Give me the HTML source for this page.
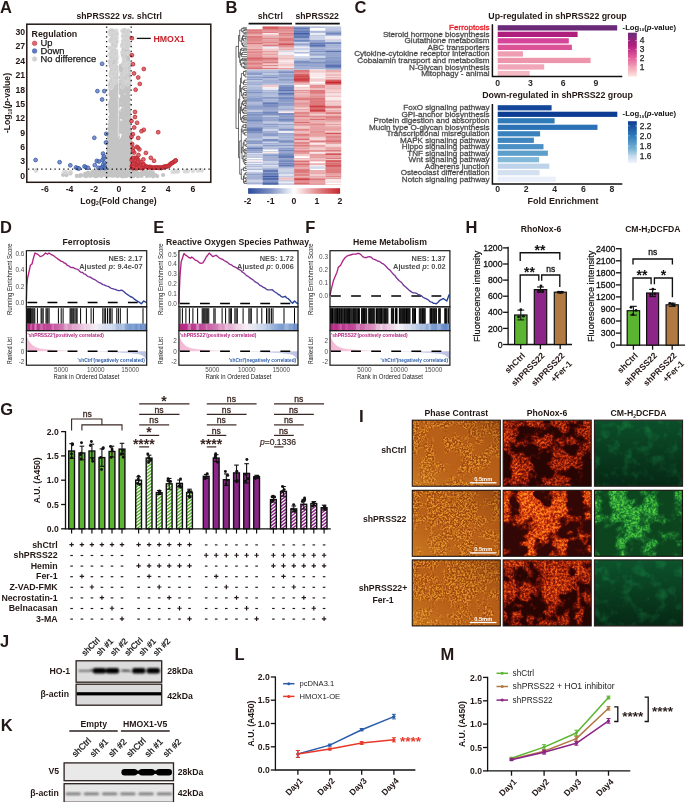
<!DOCTYPE html>
<html><head><meta charset="utf-8"><title>Figure</title>
<style>
html,body{margin:0;padding:0;background:#fff;}
svg{display:block;font-family:"Liberation Sans",sans-serif;will-change:transform;}
</style></head><body>
<svg width="685" height="802" viewBox="0 0 685 802">
<rect width="685" height="802" fill="#fff"/>
<text x="0" y="12.8" font-size="16.5" font-weight="bold" fill="#231815" text-anchor="start" >A</text>
<text x="119.2" y="19.3" font-size="8.7" font-weight="bold" fill="#231815" text-anchor="middle" >shPRSS22 <tspan font-style="italic">vs.</tspan> shCtrl</text>
<path d="M129.9 137.5h0M126.9 135.6h0M128.1 167.1h0M115.4 77.1h0M130.3 172.9h0M133.4 174.7h0M122.5 104.6h0M121.5 175.3h0M118.5 166.7h0M110.1 135.9h0M125.9 127.6h0M115.6 103h0M114.9 154.9h0M126.7 173.8h0M110.7 65.6h0M106.5 175.4h0M125.1 135h0M131.3 173.7h0M114.3 159.7h0M107.7 172.4h0M126.2 167.7h0M122.4 166.7h0M114.4 106.5h0M107.8 164.9h0M111.1 74.9h0M108.9 165.1h0M110.1 106.8h0M109.7 164.9h0M117.7 153.4h0M124.5 173h0M114.1 114h0M112.9 39.6h0M108.4 167.3h0M116.3 71.8h0M123 88.1h0M105.9 172.3h0M124 162.7h0M123.8 70.6h0M121.4 167.8h0M130.3 163.6h0M110.6 111.7h0M115.1 165.6h0M116.4 138.5h0M122.4 148.7h0M131.1 149.5h0M126.2 104h0M118.7 170.2h0M111.9 107.8h0M121.6 154.5h0M128.9 123.3h0M127.7 88.6h0M112.2 50h0M111.6 60.1h0M124.6 118.9h0M121.6 117.2h0M128.4 107.2h0M112 90.4h0M111.1 117.5h0M120.9 173.2h0M116.1 114h0M112.9 96.2h0M116.6 100.1h0M125.7 52.2h0M123.3 153.6h0M130 140.6h0M112.7 58h0M107.3 170.5h0M128.5 65.1h0M115.1 168.3h0M111.2 164.8h0M110.4 131.5h0M112 59.7h0M120.6 155.6h0M118.5 170.5h0M116.8 69.3h0M112.7 109.1h0M128.9 104.4h0M113.9 98.9h0M112.8 167.6h0M115.6 93.1h0M126.9 151.4h0M124.7 111.7h0M121.9 77.3h0M124.5 109.7h0M128 119.5h0M126.6 91.6h0M110.8 92.5h0M130.3 154.3h0M113.3 151.1h0M125.6 122.6h0M121.5 175.1h0M115.1 75.7h0M116.7 78.2h0M128.7 128h0M125.5 97.9h0M128.2 157.6h0M126.4 127h0M109.1 155.3h0M111.3 53.4h0M123 126.8h0M126.7 124.9h0M128.1 175.1h0M127 144.6h0M121.5 131.9h0M109.9 124.5h0M129.9 140.2h0M116.3 134h0M122.2 111.1h0M116.3 80h0M124.8 163.7h0M122 150.3h0M113.7 89.8h0M112.2 161.5h0M113.9 139.7h0M116.2 126h0M125.8 108.7h0M127.9 64.5h0M128.4 87.9h0M108.4 154.8h0M130.7 164.4h0M108.6 170.6h0M109.1 160.7h0M122.3 141.8h0M120.7 144.3h0M130.9 165.9h0M122.9 130.1h0M118.3 173.8h0M126.3 122.4h0M115.4 169.8h0M128.4 67h0M127.5 174.1h0M114 83h0M112.5 128.2h0M132.1 175.3h0M110.1 167.4h0M116.5 144h0M110.1 128.6h0M128 75.3h0M112.9 109h0M128.5 129.9h0M129.3 160.8h0M124.8 80.3h0M127.1 54.3h0M112.2 82.9h0M111.7 173.8h0M109.6 175.3h0M110.4 110h0M112.5 102.3h0M124.7 119.4h0M118.1 161h0M117.4 166.3h0M127.3 161.5h0M126.5 129.3h0M121.2 114.6h0M121.4 131.2h0M111.2 149h0M111.9 120.9h0M115.4 157h0M108.2 174.7h0M128.8 146h0M133.2 174.5h0M127 173.7h0M123.6 133.9h0M127.7 126.9h0M128.9 135.2h0M112.7 113.6h0M118 137.1h0M114 126.2h0M115.7 102h0M111.5 117.3h0M129.5 125.7h0M117.1 89.2h0M126.8 55.2h0M127.5 159.5h0M127.6 115.7h0M107.7 166.8h0M111.2 159.6h0M121.7 172.4h0M128.6 173.1h0M113.9 108.7h0M110 165.1h0M117 67.3h0M123.1 110.1h0M110.1 141.4h0M131.2 148.6h0M129.2 153.8h0M116 59.2h0M124.1 132.8h0M116.1 80.8h0M115.4 103.1h0M123.7 91h0M108.6 170.1h0M110.7 148.9h0M129 119.5h0M108.3 154.7h0M114.1 54.7h0M113.9 149.3h0M129.8 166.4h0M126.3 124.2h0M130.6 167.8h0M112.3 158.5h0M129.4 123.6h0M121.5 105.1h0M121.7 123.2h0M132.7 173.3h0M123 173.2h0M123.4 86.9h0M127 164.2h0M115.1 83h0M128.5 91.8h0M128 143.3h0M127.7 64h0M126.1 39.9h0M114.4 75.2h0M133.7 169.9h0M116 147.8h0M108.7 141.4h0M116.8 174.2h0M122.8 105.7h0M110.3 174.1h0M110.3 164.5h0M116.5 115.1h0M109.9 158.5h0M129.9 155.3h0M109.9 133.6h0M113 50.2h0M118 133.1h0M109.4 128.1h0M118.5 103.9h0M110.6 134.6h0M122.6 93.3h0M115.3 169.1h0M126.8 60.5h0M122.7 160h0M111.5 81.8h0M121.9 65.6h0M113.9 92.7h0M126.9 135.2h0M111.8 63.2h0M122.5 123.7h0M115.3 68.8h0M110.3 156h0M122 149.8h0M108.5 145.4h0M121.1 69.2h0M113.3 94h0M108.8 136.7h0M113 75.8h0M112.1 157.6h0M113.7 156.8h0M116.3 102.2h0M110.6 89.7h0M124.2 120.5h0M116.8 69.9h0M122.8 100.2h0M127.3 144.4h0M116.1 173h0M117.5 171.2h0M113.2 48.7h0M124.6 82.6h0M118.7 153.1h0M130.8 144.6h0M126.3 77.8h0M113.4 175.2h0M114.7 105.2h0M128.7 129.1h0M111.6 112.2h0M125.2 52.8h0M133.7 170.1h0M128.7 128.1h0M128.1 166.2h0M115.4 166.1h0M124.1 118.2h0M123.6 120.9h0M127.8 51.4h0M125.1 171.3h0M112.8 54.2h0M121.6 167.1h0M105.6 175h0M124.9 44.3h0M113.1 88.5h0M116.2 74.8h0M114.2 135.3h0M113.5 119.4h0M124.9 160.3h0M112.4 106.8h0M129.2 169.9h0M112 135h0M127.4 97.9h0M129 132.7h0M114.3 63.7h0M126.2 52.3h0M116.2 52.5h0M126.6 53.5h0M121.5 156.1h0M111.3 171.2h0M111 145.1h0M115.2 126.5h0M117.8 145.3h0M127 50.9h0M123.4 141.8h0M128.4 86.7h0M122.6 172.6h0M120.4 124.6h0M114.4 162.2h0M131.7 174.1h0M112 145.1h0M106.6 174.6h0M108.2 155.7h0M124.1 48.3h0M116.3 150.4h0M124.2 58.2h0M121.1 166.6h0M125.5 172.2h0M125.1 96.7h0M113.9 173.5h0M116.5 93.8h0M129.7 162.9h0M130.2 148.2h0M115.4 116h0M124.7 47.3h0M127.2 173h0M121.2 126.1h0M115.9 114.3h0M115.5 75h0M115.6 84.8h0M110.4 122.9h0M126.5 146.7h0M128.3 167.5h0M129.3 149.8h0M128.8 127.9h0M128.8 98.9h0M122.8 167.9h0M114.2 112.8h0M127.6 81.3h0M115.7 162.9h0M118.2 117.6h0M126.2 114.8h0M113.8 131.1h0M121.5 160.4h0M126.3 51.8h0M114.6 162.7h0M109.8 174.7h0M112.7 126.6h0M123.4 173h0M110.5 161.1h0M121.7 69h0M108.3 149.2h0M108.2 174.7h0M106.7 174.8h0M114 170.1h0M118.3 141.4h0M123.8 161.3h0M124.8 136.2h0M127.8 152.4h0M109.5 174.8h0M108.9 174.2h0M128.2 61.6h0M125.2 145.6h0M115 79.6h0M122.8 167.2h0M112.9 165.7h0M107.7 155.7h0M123 99.9h0M110.9 146.9h0M118.6 149.4h0M113.7 167.3h0M126.1 169.4h0M128.4 82.8h0M112.8 175.2h0M125.6 173.3h0M121.5 81.8h0M118.2 145.5h0M120.9 169.5h0M112.1 155.2h0M124.7 170.5h0M122.5 90.9h0M110.3 165.6h0M109.5 144h0M114.2 163.8h0M118.6 164.6h0M127.9 108.9h0M112.4 35.6h0M128.5 164.6h0M112.7 173h0M113.6 174.2h0M116.7 131h0M116.5 144.4h0M117.4 102.5h0M116.6 151.9h0M126 117.2h0M114.6 95.9h0M113.7 149.2h0M110.3 174.4h0M115.6 135.2h0M106.7 175.2h0M112.3 120h0M111.3 167h0M112.9 40.7h0M126.4 81.6h0M115.2 143.3h0M124.6 69.3h0M111.2 174.8h0M107.8 155.6h0M115 169.6h0M118.7 99.7h0M115.9 123.6h0M126.4 131.5h0M128.1 109.9h0M114.2 37.3h0M128.8 155.1h0M128 98.5h0M126.7 169h0M115.5 120.4h0M123.3 86.2h0M116.2 161.7h0M117.8 128.4h0M108.8 173.9h0M108 171.8h0M110.1 133.4h0M114.8 60.4h0M112.2 76.4h0M124.9 161.4h0M130.1 152.8h0M124.9 69.5h0M127.9 110.2h0M109.2 171.1h0M118.8 163.3h0M129.2 116.7h0M126.9 170.6h0M110.5 108.7h0M108.5 174.7h0M114.6 123.8h0M130.2 155.6h0M111.3 158.3h0M124.6 82.9h0M127.8 97h0M116.9 169.8h0M111.9 154h0M124.9 170h0M114 163.6h0M117.9 160.7h0M123.1 133h0M113.7 61h0M112.3 145.2h0M123.7 104h0M117.8 168.3h0M124.6 149.9h0M116.1 128.3h0M113.1 39.6h0M124.7 77.3h0M127.4 75h0M110.8 94.9h0M124.2 175.2h0M111.3 146.2h0M112.8 73.3h0M108.8 150.4h0M114.3 154.2h0M112 87.7h0M122.7 123.2h0M113.3 172.2h0M113 140.6h0M112.5 144.3h0M110.3 85.2h0M123.4 140.7h0M122.9 143.6h0M131.2 159.3h0M114.1 154.1h0M112.8 106.4h0M126.8 56.4h0M111 119.7h0M112.5 97.8h0M115.7 142.1h0M125.7 114.1h0M127.3 175h0M128.9 115.4h0M105.5 169.5h0M112 88.4h0M128 105.4h0M128.9 76.1h0M130.5 174h0M126.3 161.5h0M122.9 124.8h0M121.6 158.7h0M125.6 121.8h0M130.4 162.3h0M128.4 81.7h0M114.8 76.3h0M113.4 172.5h0M127.6 146.2h0M127.3 109.1h0M126 166.2h0M113.8 175.3h0M112.9 109h0M117 96.9h0M117 97.1h0M129.3 171.7h0M108 150h0M124.4 97.5h0M116.6 155.5h0M111.3 108.7h0M112.8 143.5h0M110.8 117.8h0M128.6 158h0M125.1 137.2h0M125.1 87.4h0M114.3 174h0M124.2 139.2h0M123.4 96.9h0M109.3 143.2h0M114.2 161.4h0M126.1 71.2h0M110.4 123.3h0M113 173h0M124.3 91.4h0M122.7 54h0M113.5 135.1h0M127.8 154.8h0M126.9 69.5h0M112.6 173.9h0M110.1 104.2h0M116.7 165.2h0M121.7 145.4h0M128 168.5h0M111.5 87.6h0M122.2 89.8h0M110 135.2h0M122 124.9h0M113.7 77.9h0M122.7 171.2h0M125.2 173h0M114.5 80.4h0M112 174.4h0M110.8 121.3h0M123.1 172.3h0M130.8 169.4h0M113.5 93.4h0M114 175.1h0M115.4 142.6h0M125.7 171.9h0M129.3 132.2h0M126 42.6h0M110.5 145.4h0M113.3 160.8h0M113.8 134h0M110.1 137.8h0M128.5 174.1h0M117.3 144.7h0M112.9 148.3h0M126.6 163.4h0M105.8 175.4h0M133.4 175.4h0M125.2 149h0M127.7 156.4h0M112.4 154.9h0M117.3 85.2h0M109.5 161.4h0M125.4 141.3h0M121.8 158.1h0M126.5 71.5h0M121.2 174.3h0M128.8 109.9h0M110.5 107.4h0M120.8 85.4h0M112.4 88.6h0M125.1 139.2h0M117.1 138.2h0M121.6 154.4h0M130 171.7h0M117.2 122.9h0M127.4 155.5h0M113.7 48.3h0M111.2 67.2h0M112.9 175h0M125.5 100.8h0M111.7 97.9h0M123.3 172.2h0M115 116.7h0M111.6 168.7h0M112.8 127.4h0M113.2 66.5h0M127.6 160.5h0M109.2 160.9h0M125.8 147.6h0M129.1 111.1h0M115.3 85.4h0M112.4 65.4h0M116.8 122.4h0M116.3 79h0M122.1 125.1h0M128.3 83h0M125.2 48h0M111.1 92.3h0M115.8 90.6h0M124.6 175.2h0M116.8 157.3h0M115.3 132.8h0M130.5 158.9h0M130.3 168.9h0M127.4 112.6h0M129.2 125.1h0M117.7 80.8h0M111 137.5h0M122.1 163.2h0M123.2 44h0M122.6 172.4h0M118.2 102.3h0M127.1 119.2h0M113.2 126.3h0M116 150.4h0M113.9 94.9h0M110.6 173.5h0M130.9 152.6h0M128.2 35.5h0M113.3 45.4h0M126.4 98.6h0M113.2 45.8h0M106.9 175h0M116.4 40.1h0M126.1 98.1h0M120.7 84.5h0M133.5 173.9h0M115.1 68.5h0M124.7 175.3h0M124.2 116.7h0M116 100.7h0M124.5 133.7h0M124.1 162.7h0M110.3 127h0M114.7 167.2h0M128.5 153.3h0M121.8 77.7h0M116.1 83.3h0M125.1 142.8h0M131.3 150.2h0M110 146.3h0M111.7 79.4h0M111.8 147.3h0M111.5 87.7h0M112.9 175.3h0M122.9 174h0M131.4 165.5h0M122.9 93.1h0M132.5 170.5h0M125.1 90.7h0M115.2 148.2h0M115.7 174.5h0M128.5 171.3h0M125.8 119.7h0M131 155.6h0M114.9 129.9h0M111.4 119.6h0M112.7 36.3h0M109.3 135.7h0M115.9 174.4h0M118.2 88.7h0M126.8 164.3h0M116.5 104.8h0M118.2 175.3h0M125.4 160.6h0M124.3 134.6h0M127.4 150.1h0M126 142.4h0M123.7 153h0M123.9 129.2h0M123.7 168.2h0M110.3 117h0M110.6 158.2h0M126.6 151.3h0M112.6 131.1h0M117.5 108.6h0M112.1 130.9h0M111.5 75.6h0M111 76.1h0M112.8 129.9h0M124.2 66.8h0M129.9 164.7h0M127.8 93.6h0M124.6 167.8h0M120.7 162.1h0M110.9 128.7h0M128.8 112.4h0M112.4 106.4h0M132.4 172h0M110.5 155.4h0M126.4 84.4h0M121.5 171.1h0M127.7 60.9h0M126.7 119.5h0M114.6 131.8h0M107.8 175.2h0M129.6 163.5h0M124 97h0M111 159.4h0M124.1 98.5h0M124.8 47.2h0M127.7 110.8h0M112.4 152.9h0M110.1 132.4h0M111.5 125h0M111.6 161.6h0M117.8 162.4h0M111 174.4h0M107.9 162.9h0M109.1 171.3h0M126.5 83.5h0M110.7 174.3h0M129.1 159.4h0M128.3 154.5h0M114.3 94.7h0M106 172.2h0M117 97h0M128.6 141.3h0M128.1 144.3h0M112.1 111.5h0M111.7 170.9h0M112.8 175.3h0M109.2 135.2h0M113.2 64.3h0M125.5 61.3h0M111.6 56.5h0M113.7 138.1h0M111.9 137.5h0M110.4 143.2h0M109.7 137.2h0M109.6 137.2h0M112.1 87.8h0M111.7 104.7h0M124.4 124.4h0M114.4 93.6h0M112.9 82.7h0M107.6 164.2h0M121.3 166.2h0M128.2 117.1h0M128.5 145.8h0M126.1 83.6h0M127.4 161.4h0M122.3 123.6h0M112.2 79.7h0M112.2 131.3h0M124.8 55h0M111.9 142h0M130.4 136.4h0M124.4 119.4h0M115.4 84.2h0M128 97.4h0M114.2 147.2h0M114.6 124.7h0M115.3 104h0M107.8 171.6h0M113.9 88.2h0M111.4 96.8h0M112.1 62.7h0M123.5 152.4h0M113.7 134.4h0M126.3 73h0M125.9 169.6h0M110.1 139.3h0M110.9 94.7h0M112.3 92.3h0M128.5 174.1h0M118.1 117.1h0M127.6 150.6h0M115.6 96.5h0M124.1 102.2h0M112.6 135.4h0M115.4 150.2h0M118.7 157.4h0M124.2 155.4h0M127.6 171.8h0M110.1 128.7h0M126.7 85.2h0M124.8 97.4h0M126.2 146h0M128.2 126h0M129.4 175h0M108.8 158.1h0M126.8 67.9h0M112.6 137.2h0M128.3 58h0M105.8 173.6h0M124.1 123.7h0M113.2 107.2h0M114 117.2h0M124.3 53.4h0M112.9 123.7h0M116.1 108.7h0M117.7 104.1h0M110.5 83.6h0M112.5 121.2h0M129.1 160.4h0M118 84.3h0M116.2 76.1h0M111.7 175h0M114.7 39.9h0M128 167.2h0M112.3 70.6h0M107.9 167.1h0M108.3 162.5h0M116.4 100.8h0M109 162.8h0M126.8 95.8h0M112 109.3h0M113.4 131.5h0M121.2 146.7h0M126.3 175.1h0M111.6 153.3h0M113.2 50.1h0M123.4 82.8h0M121.6 166.8h0M115.2 61.5h0M127.2 66.1h0M111.4 91.5h0M118.2 169.8h0M126.4 175.1h0M107.2 173.1h0M121.1 113.9h0M115.6 171.8h0M109.6 171.9h0M112.1 168.4h0M112.1 147.8h0M113.6 129.3h0M123.7 174.8h0M108.8 152.6h0M113.4 116.4h0M113.9 44.2h0M130.4 148.2h0M114.1 174.8h0M127 86h0M113.9 47.8h0M110.4 82.8h0M124.4 87.9h0M128.6 113.3h0M129.4 118.1h0M128.6 67.2h0M122.4 144.2h0M112.8 79.7h0M111.4 158.7h0M108.9 166.6h0M123.3 166.8h0M118.8 121.5h0M113.6 175.4h0M128.2 159.1h0M124.3 174h0M129.1 133.3h0M126.4 155.2h0M111.6 98.7h0M115.7 174.9h0M126.8 89.9h0M127.8 136.5h0M124.6 123h0M120.8 171.8h0M116.5 163.5h0M122.7 174h0M124.3 113.6h0M130.7 171.4h0M126.5 57.2h0M123.8 100.2h0M125.2 81h0M114.5 175.3h0M125.7 114h0M110 174.2h0M127.7 99.3h0M112.4 157.6h0M110.9 74.8h0M113.4 132.9h0M121.2 150h0M111.1 144.7h0M112.3 169.6h0M125.1 113.9h0M108.6 157.1h0M108.6 164.9h0M116.9 133.1h0M123.1 55.7h0M111.4 164.8h0M125.8 174.5h0M122.4 170h0M127.6 174.9h0M115.4 113.6h0M127.7 91.2h0M122.9 174.8h0M128.7 123.2h0M124.8 161.7h0M129.4 168.3h0M110.6 152.5h0M117.1 90.5h0M107.4 172.7h0M124.7 131.1h0M108.3 148.6h0M112.1 113.3h0M127.7 114.6h0M129.1 112.8h0M125.1 143.8h0M111.5 143.3h0M109.3 150.6h0M127.9 75.7h0M123.8 146.5h0M109.5 154.9h0M132.6 170.1h0M108.2 173.2h0M125.2 163.8h0M115.2 134.5h0M110.8 141.4h0M131.6 175h0M117 153.7h0M129.2 173.5h0M110.1 175.3h0M113.4 154.5h0M125.1 150.5h0M113.4 74h0M112.5 172.6h0M127.6 169.2h0M127.5 54.2h0M127.6 134.6h0M125.8 169.1h0M127.5 128.1h0M128.2 119.4h0M118.1 172.9h0M124.6 168.9h0M112.4 139.4h0M124.9 158.7h0M120.9 65.8h0M121.7 172.8h0M127.7 159.9h0M113.6 102.2h0M115.3 165.7h0M116.9 100.6h0M127.6 166.1h0M132 175.4h0M109.7 147.3h0M111.9 35.3h0M130.9 163.3h0M114.6 134.5h0M129 162.4h0M114.1 80.6h0M113.6 135.3h0M124.1 98.7h0M118.1 119.9h0M118.3 146.4h0M106.1 173.4h0M115.2 67.6h0M111.6 155.4h0M116.4 67.2h0M124.3 175.3h0M121.8 91.2h0M109.8 166.8h0M114.2 88.7h0M109.8 150.3h0M131 160.5h0M128.9 114.1h0M123.3 168.1h0M115.4 74.6h0M127.9 139h0M130.5 165.6h0M115.4 129h0M108.1 157.4h0M121.5 115.1h0M125 162h0M118.1 163.6h0M125.4 143.1h0M118.5 120.2h0M113.8 100.8h0M118 147.5h0M117.1 156.9h0M118.7 175h0M113.6 58.3h0M107.9 175.1h0M115 121.6h0M127.6 85.8h0M127 68h0M126.9 136.2h0M128.8 126.6h0M129.4 174.4h0M121.3 114.5h0M109.3 134.3h0M122.5 168.6h0M112.1 85.2h0M120.4 155.8h0M130.6 163.9h0M117.4 80.4h0M121.5 94.1h0M108.8 152.3h0M115.1 101.2h0M113.5 143.3h0M128.9 114.9h0M127.1 136.5h0M124.6 151h0M115.3 175.2h0M121.3 89.8h0M109.6 162.8h0M115.8 54.1h0M123.6 82.5h0M124.2 126.6h0M110.2 107.3h0M107.9 165h0M127.8 41.8h0M121.8 71.1h0M128 89.7h0M108.5 174.7h0M130.2 132.4h0M127.7 138.3h0M112.7 97.1h0M130.7 173.9h0M116.2 75.1h0M126.7 137.7h0M112.7 172.1h0M115.7 162.1h0M130.1 142.6h0M111 100.3h0M126.5 112.7h0M117.7 150.4h0M112.3 102.7h0M126.6 51h0M129.7 175.3h0M128.8 69.1h0M128.8 64.2h0M125.5 150.8h0M121.9 159.2h0M116.9 156h0M111.4 114.6h0M123.2 152.2h0M118.6 125.7h0M124.5 156.4h0M123.8 132.3h0M114.8 125.1h0M129.5 158.2h0M128.2 95.7h0M116.9 87.8h0M129 86.4h0M113.3 80.8h0M122.3 110h0M124.7 37.3h0M111.1 146.7h0M114.7 160.7h0M112.4 113h0M128.1 52.3h0M121.8 161.3h0M117.4 117.3h0M121.5 175.4h0M126 56.6h0M121 175.1h0M127.3 126.5h0M130.4 171.6h0M127.5 153.3h0M124.1 142.9h0M125.1 157.9h0M116.4 81.7h0M131 175.4h0M129.5 174.5h0M111.4 169.8h0M108.9 142h0M127.1 155.1h0M110 172.3h0M127.2 98.4h0M107.9 162.1h0M121.5 148.7h0M108.7 157.1h0M114.2 150.5h0M111.3 165.6h0M113.5 103.8h0M107.6 174.3h0M123.9 160.4h0M120.4 145.6h0M127.4 122h0M112.7 133.3h0M126.9 173h0M106.2 174.5h0M124.6 65h0M131.2 168.2h0M117 165.2h0M129.3 173.3h0M111.9 134.1h0M110.2 170.4h0M128 106.5h0M116.3 170.4h0M110.1 131.9h0M125.4 99.4h0M127.8 50.7h0M118 164.6h0M110.4 83.1h0M108.8 157.7h0M128 37.2h0M121.4 159.5h0M125.6 100.3h0M121.6 169.9h0M113.9 136.2h0M127.9 71.8h0M118 136.8h0M124.8 77.9h0M117.7 169.9h0M112.3 171.4h0M129.3 170.4h0M123.9 61h0M126.5 67.1h0M112.2 174.6h0M126.1 66.1h0M126.8 174.6h0M132.4 175.1h0M110.4 169.4h0M130.9 161.9h0M113 86.6h0M124.1 157.7h0M128.2 60.5h0M118.2 155.4h0M117.4 112.4h0M111.9 80.5h0M108.2 159.4h0M128.8 69.5h0M123.8 147.4h0M127.3 106.8h0M114 163.8h0M126.7 140.1h0M126.3 127.8h0M125.9 100.1h0M113.2 162.9h0M124.8 56.6h0M116.5 127.7h0M116 77.9h0M116 158.8h0M123.4 173.4h0M126.5 106.7h0M124.1 133.5h0M123.3 135.9h0M128.9 89.4h0M127.6 111.4h0M113.2 157.8h0M122.9 89.1h0M126 40.8h0M117.5 110.5h0M130.6 175.3h0M125 111.5h0M126.5 87.6h0M126.2 122.9h0M130.4 172.9h0M126.1 141h0M125.2 168.5h0M123 168.6h0M113.6 93.5h0M114.5 136.5h0M122.1 139.1h0M113.1 124.4h0M124.1 77.3h0M112.4 60.9h0M115.5 157.8h0M112.1 139.6h0M126.5 159.6h0M123.4 76.6h0M112.4 93.4h0M124.1 161h0M113.8 60.3h0M126.4 127h0M123.4 41.8h0M107.5 175.3h0M116.3 159.1h0M120.8 131.3h0M118.1 168.6h0M107.9 154.9h0M126.3 105.6h0M109.6 133.6h0M113.3 133.1h0M113.2 74.5h0M115.6 172.9h0M123.3 129.7h0M127.4 98.1h0M117.6 129h0M118.1 106.1h0M123.8 173.2h0M126.2 160.3h0M133.8 169.8h0M113.4 110.4h0M127.7 95.4h0M122 161.8h0M123.6 171h0M110.2 120.8h0M130.3 140.2h0M126.1 137.5h0M111.3 144.8h0M124.9 48.5h0M110 150.2h0M111.2 175.4h0M124.6 169.8h0M111.9 144.3h0M125.6 140.6h0M122.1 79.1h0M115.2 131.7h0M116.1 109h0M106.5 171h0M111.7 102.9h0M108 173.9h0M113.7 82.5h0M125.7 75.6h0M116.1 167.1h0M125.5 126.7h0M126.7 107.8h0M126.7 143.2h0M127.9 58h0M123.4 97.8h0M124.6 172.4h0M126.4 112.1h0M115 140.8h0M124 96.5h0M113.3 155.1h0M127.6 108.5h0M128.7 73.7h0M111.7 138.1h0M125.9 155.1h0M124.5 121.5h0M111.6 175.3h0M111.2 41.5h0M118.2 77.5h0M114.5 58h0M128 100.9h0M121.8 167.6h0M109.7 147.4h0M122.6 157.7h0M111.6 161h0M124.9 116.6h0M126.4 44.9h0M112 167.5h0M127 114.3h0M127.5 174.6h0M128.1 165.5h0M123.5 63.8h0M112.4 135.6h0M116.7 169.7h0M130.8 175.1h0M127.5 144.4h0M110.8 103.8h0M123.8 151.2h0M124.1 41.3h0M112.9 169.2h0M116.5 152.7h0M110.1 144.7h0M125.9 150.5h0M127.1 35.9h0M125.5 50.4h0M113.6 173.8h0M111.8 110.3h0M111.5 173.6h0M122.6 66.6h0M125.8 163h0M121.7 101.6h0M126.7 153.3h0M121.9 97.6h0M113.9 174.5h0M117.2 167.3h0M131.1 175.1h0M110.2 169h0M111.5 173.4h0M126.9 156.9h0M118.4 126.9h0M111.5 71.2h0M110.8 172.2h0M106.2 169.3h0M126.3 44.5h0M116.6 114h0M112.3 106.8h0M116.9 174.7h0M115.5 83.4h0M123.8 79.5h0M117.9 145.7h0M132.5 174.9h0M126.1 123.6h0M114.3 99.4h0M112.5 112.3h0M123.4 151.7h0M113 132.1h0M108.7 174.3h0M107.6 168.5h0M127.7 112.5h0M114.4 175.1h0M128.5 121.5h0M121.6 129.5h0M126.4 103.5h0M125.2 132h0M109.5 167.6h0M112.4 128.1h0M122.9 69.1h0M126.3 167.4h0M116.2 168.5h0M111 168.4h0M110.4 102.3h0M109.1 141.6h0M111.8 105.5h0M117.6 87.9h0M126.3 89.6h0M123.5 171.6h0M126.5 76.1h0M108.5 173.6h0M112.4 171.9h0M126.9 67.7h0M116.5 85.8h0M121 154.4h0M129.4 168.9h0M108.9 159.9h0M127.9 88h0M128.9 84.1h0M111.9 136.2h0M128.6 78.1h0M130.6 159.5h0M111.6 151.4h0M126 110.8h0M122.7 91.2h0M116.2 102.2h0M110.1 159.2h0M118 122.3h0M127.9 78.3h0M115.5 78.5h0M110.3 136.1h0M113 165.6h0M110 174.5h0M121.5 113.5h0M123.9 120.9h0M112.7 164h0M128.3 148.9h0M124.1 159h0M113.1 86.9h0M125.7 88.8h0M122.4 160h0M110.9 167.7h0M129.4 146.3h0M115.1 125.6h0M106.9 174.4h0M107.7 156.8h0M126 147.2h0M125.8 175.1h0M117.6 100.1h0M133.2 173.1h0M123.4 49.8h0M127.1 129.5h0M116.9 120h0M114.1 173.3h0M124.1 172.3h0M124.7 115.1h0M110.7 150.9h0M129.6 148.3h0M113.3 173.6h0M121.7 175.3h0M128.4 170.4h0M124.7 164.9h0M111.2 95.4h0M115.1 138h0M110.6 109.3h0M117.8 164.2h0M123 137h0M128.2 167.6h0M110 170.1h0M110.5 162.6h0M128 155.5h0M123.3 109.6h0M118 162.7h0M110.8 117.5h0M113.2 175.4h0M115.4 155.6h0M111.6 175.3h0M130.6 163.3h0M124.6 130.6h0M124.3 85.4h0M116.5 88h0M110.9 142.2h0M109.4 161.4h0M127.3 114.5h0M127 97.3h0M126.9 49.2h0M124 125.2h0M124.7 166.7h0M120.7 93.1h0M125.6 165.2h0M117.2 99.7h0M121.9 97.9h0M126.5 111.4h0M130 129.7h0M111.5 59.9h0M121.8 74.5h0M109.3 165h0M113.3 47.9h0M128.4 91.5h0M123.8 111.7h0M129.7 155.9h0M111.8 168h0M117.5 154.1h0M122.2 98.7h0M124.6 128.4h0M120.9 125.1h0M127.4 59.7h0M121.4 131.8h0M133.3 173.3h0M111.8 169.7h0M126.6 78h0M110.3 174.4h0M117.4 91.1h0M114.3 155h0M111 168.2h0M111.1 111.5h0M128.7 114.5h0M112 120.9h0M108.9 150.3h0M111.1 171.1h0M130.6 174.3h0M122.7 171.6h0M115.5 125.8h0M127.6 137.8h0M116.2 88.5h0M109.1 166.6h0M126 139.6h0M114.5 117.4h0M114.1 91.1h0M114.3 161.3h0M121 166.1h0M116.2 162.7h0M128.1 68.2h0M112.4 166.9h0M112.3 175.1h0M116.6 175.4h0M114.3 65.2h0M129 161.9h0M110.4 88.7h0M110.6 123.5h0M124.5 30h0M116.3 112h0M125.3 175.2h0M125.4 81.6h0M128.6 126.4h0M122.9 145.4h0M118.1 151h0M108.6 144.6h0M117.6 71.9h0M124.5 160.3h0M110.4 172.8h0M110.6 171.1h0M110.3 87.1h0M121.6 161h0M124 50h0M111.1 57.3h0M128.8 150.2h0M115.3 119.9h0M128.6 72.2h0M130.5 173.9h0M108.6 164.5h0M124.2 79.7h0M121.8 139.5h0M125.2 91.5h0M112.9 143.6h0M128.4 85.2h0M127.1 64.2h0M111.5 172.9h0M126.3 172.2h0M112.1 162.2h0M128 152.5h0M118.1 140.7h0M125.5 98.2h0M109.9 129.6h0M107.8 174.3h0M113.2 154.9h0M121.9 157h0M124.3 121.7h0M112.8 90.1h0M110.6 172.4h0M118.1 112.2h0M123.7 124.4h0M123.7 165.3h0M109.8 172.4h0M126.6 57.7h0M114.7 65.2h0M115 172.9h0M126.6 108.6h0M126.2 148.5h0M114.9 75.8h0M112.1 75.9h0M121 114.3h0M125.3 149.7h0M127.7 158.8h0M112.8 96.6h0M115 146h0M121.8 163.7h0M133.7 171.6h0M127.2 79.6h0M120.5 165.4h0M117.2 127.4h0M111.6 171.4h0M117 164.4h0M120.5 165.8h0M133.4 169.7h0M124.9 47.6h0M128.5 45h0M124.9 78.4h0M126.2 118.8h0M106.9 175.1h0M110.6 94.1h0M112.3 84.7h0M110.8 60.4h0M115.2 65.2h0M129.8 164.5h0M122.1 105.3h0M109.5 158h0M128.2 88.4h0M128.4 125.8h0M128.8 127.4h0M118 68.8h0M111.4 72.3h0M124.8 171.8h0M128.7 172.4h0M142 172.6h0M155.3 175.1h0M128.3 171.4h0M115.5 172.2h0M137.3 173.1h0M108.1 173.9h0M128.8 175h0M104.7 170.9h0M121.9 176.2h0M116.4 172h0M107.4 170.7h0M142.7 173.9h0M131.1 176h0M99.4 171.6h0M126.3 176.1h0M131.1 171.5h0M137.9 176.2h0M121.6 174h0M128.1 171.3h0M107.6 171.9h0M121.9 174.2h0M90.1 175.9h0M99.5 173.5h0M129 173h0M99.4 172.2h0M132.7 171.4h0M122.7 172.3h0M129 174.7h0M88.1 172.6h0M145.3 172.2h0M118.2 174.2h0M95.6 174h0M107.8 172.6h0M93.4 175.3h0M92.1 173h0M131.9 171.7h0M108.5 175.1h0M130 170.6h0M70.4 173.4h0M134.7 171.7h0M108.6 171.2h0M118.7 174.1h0M101.4 175.9h0M131.6 173.5h0M107.3 170.5h0M116.5 175.3h0M98.7 172.3h0M116.9 173.4h0M107.3 173.9h0M95.1 176.1h0M118.9 173.4h0M145 173.6h0M150.6 171.8h0M111.7 172.7h0M143.1 173.3h0M139.7 175.2h0M105.5 174.1h0M111.1 171.2h0M123 173.1h0M118.2 173.6h0M93.5 174.4h0M106 172.8h0M101.2 170.7h0M125.8 171.9h0M113.6 173h0M163.1 175h0M76.8 175.9h0M108.6 171.2h0M100.8 171.5h0M103.8 174.6h0M83.9 175.4h0M132 173h0M126.5 170.5h0M95.4 172.8h0M150 173.9h0M98.3 175.3h0M110.7 171h0M102.2 171.9h0M110.8 173.8h0M97 172.6h0M136.3 170.9h0M104.6 174h0M114.5 172.1h0M111.2 173.3h0M111.8 174.7h0M109.3 174.6h0M114.1 174.9h0M143.9 171.2h0M98.7 172.5h0M92.3 174h0M111.1 173.8h0M108 171.9h0M124.2 170.9h0M114 170.9h0M137.6 175h0M138.8 174.3h0M99.9 175.3h0M103.5 173.1h0M93.5 173.3h0M96 172h0M129.3 172.1h0M99.2 172.5h0M137.8 175.7h0M129.5 172.3h0M134.7 175h0M114.8 173.4h0M130.1 173.6h0M116.8 174.9h0M107.2 172.6h0M132.7 175.6h0M94.7 174.7h0M128.1 170.8h0M116.5 175.7h0M112 173.2h0M139.1 174.4h0M112.5 171.3h0M124 176.2h0M117.8 176.1h0M137.6 173.2h0M111.4 174.1h0M140 173.6h0M93.2 175.3h0M116 172.9h0M105.8 171.9h0M122.9 170.7h0M112.1 175.7h0M138.2 173.9h0M129.6 175.1h0M106 173.1h0M133.2 172.7h0M134.2 175.6h0M114.1 173.1h0M80.5 175.1h0M109.3 173.6h0M102.4 170.7h0M123.9 173.4h0M113.5 174h0M131 172.2h0M99.2 171.2h0M92.4 171.8h0M135 173.3h0M149.6 175.7h0M96.4 171h0M119.8 175h0M113.4 173.4h0M99.5 174.5h0M118.2 173.1h0M120.5 173.8h0M90.1 174.7h0M120.3 175.2h0M136.4 173.8h0M124.2 173.3h0M63.1 174.8h0M116.6 174.6h0M118.6 172.6h0M97.1 176.1h0M104.3 174.1h0M117.5 170.4h0M122.3 175.7h0M116.4 174.9h0M86.6 174.2h0M126.3 171.1h0M131 172.9h0M123.2 173.2h0M102.5 171h0M109.3 172.6h0M95 175.1h0M122.1 173h0M117.7 174.4h0M117.9 174.5h0M152.8 172.5h0M107.5 175.6h0M80 176h0M86.2 176.2h0M94.6 173.1h0M97.7 173.3h0M133 170.9h0M118.4 172.8h0M96.8 171.1h0M102.2 171.8h0M118 174.6h0M114.1 170.5h0M113.1 173.2h0M105.8 173.8h0M109.5 171h0M126.1 173.5h0M105.4 171.1h0M98.7 173.1h0M113 170.7h0M100.6 173h0M114.9 173.6h0M104.4 174.7h0M124.1 175.9h0M147.6 174.2h0M123.9 175.8h0M112.5 170.9h0M133.2 173.1h0M116.1 174.6h0M102.3 170.9h0M157.2 176.1h0M133.1 172.2h0M107.3 174.8h0M104.3 173.3h0M91.3 174.7h0M111.8 171.3h0M95.8 174.8h0M108 171.1h0M148.5 173.5h0M85.1 173.9h0M144.4 173.9h0M113.9 173.2h0M100 171.7h0M104.4 172.4h0M117 174.8h0M120.7 172.1h0M114.3 171.4h0M66.5 175.1h0M127.2 174.4h0M114.5 171.1h0M127 171.6h0M129.7 172h0M142.7 172.5h0M123.4 175.2h0M115.8 171.2h0M118.2 174h0M153.1 176.3h0M95.9 172.1h0M133.2 176.3h0M113 172.5h0M109.8 171.8h0M115.4 174.9h0M132.6 172h0M132.3 170.8h0M135.3 173.9h0M142.3 174.3h0M94.3 171.6h0M146.7 171.4h0M98.4 175.3h0M112.7 175.6h0M104.1 170.9h0M141.6 176h0M148.6 175h0M115.2 172.4h0M105.2 173.6h0M121.2 175.4h0M93 171.3h0M99 171.9h0M103 174h0M113.7 172.4h0M122.4 173.8h0M102.9 174.1h0M132.2 175.9h0M122.2 176.3h0M89.3 173.8h0M146.9 176.1h0M149.6 174.4h0M139.8 174.9h0" stroke="#c4c4c4" stroke-width="4.2" stroke-linecap="round" fill="none"/>
<circle cx="117.1" cy="56.6" r="2" fill="#cfcfcf" fill-opacity="0.75" stroke="#d9d9d9" stroke-width="0.7"/>
<circle cx="127.4" cy="32.8" r="2" fill="#cfcfcf" fill-opacity="0.75" stroke="#d9d9d9" stroke-width="0.7"/>
<circle cx="111.5" cy="87.3" r="2" fill="#cfcfcf" fill-opacity="0.75" stroke="#d9d9d9" stroke-width="0.7"/>
<circle cx="124.2" cy="40.9" r="2" fill="#cfcfcf" fill-opacity="0.75" stroke="#d9d9d9" stroke-width="0.7"/>
<circle cx="124" cy="44.4" r="2" fill="#cfcfcf" fill-opacity="0.75" stroke="#d9d9d9" stroke-width="0.7"/>
<circle cx="125.4" cy="45.1" r="2" fill="#cfcfcf" fill-opacity="0.75" stroke="#d9d9d9" stroke-width="0.7"/>
<circle cx="124.7" cy="71.8" r="2" fill="#cfcfcf" fill-opacity="0.75" stroke="#d9d9d9" stroke-width="0.7"/>
<circle cx="124.9" cy="64.5" r="2" fill="#cfcfcf" fill-opacity="0.75" stroke="#d9d9d9" stroke-width="0.7"/>
<circle cx="110.9" cy="87.7" r="2" fill="#cfcfcf" fill-opacity="0.75" stroke="#d9d9d9" stroke-width="0.7"/>
<circle cx="125.6" cy="64.5" r="2" fill="#cfcfcf" fill-opacity="0.75" stroke="#d9d9d9" stroke-width="0.7"/>
<circle cx="112.2" cy="66.7" r="2" fill="#cfcfcf" fill-opacity="0.75" stroke="#d9d9d9" stroke-width="0.7"/>
<circle cx="111.7" cy="76.1" r="2" fill="#cfcfcf" fill-opacity="0.75" stroke="#d9d9d9" stroke-width="0.7"/>
<circle cx="127.8" cy="62.7" r="2" fill="#cfcfcf" fill-opacity="0.75" stroke="#d9d9d9" stroke-width="0.7"/>
<circle cx="113.3" cy="48.5" r="2" fill="#cfcfcf" fill-opacity="0.75" stroke="#d9d9d9" stroke-width="0.7"/>
<circle cx="113.8" cy="67" r="2" fill="#cfcfcf" fill-opacity="0.75" stroke="#d9d9d9" stroke-width="0.7"/>
<circle cx="110.8" cy="73.5" r="2" fill="#cfcfcf" fill-opacity="0.75" stroke="#d9d9d9" stroke-width="0.7"/>
<circle cx="112" cy="41.3" r="2" fill="#cfcfcf" fill-opacity="0.75" stroke="#d9d9d9" stroke-width="0.7"/>
<circle cx="116" cy="54.1" r="2" fill="#cfcfcf" fill-opacity="0.75" stroke="#d9d9d9" stroke-width="0.7"/>
<circle cx="129.5" cy="44.9" r="2" fill="#cfcfcf" fill-opacity="0.75" stroke="#d9d9d9" stroke-width="0.7"/>
<circle cx="127.2" cy="64.3" r="2" fill="#cfcfcf" fill-opacity="0.75" stroke="#d9d9d9" stroke-width="0.7"/>
<circle cx="116.1" cy="80.2" r="2" fill="#cfcfcf" fill-opacity="0.75" stroke="#d9d9d9" stroke-width="0.7"/>
<circle cx="113.3" cy="74.3" r="2" fill="#cfcfcf" fill-opacity="0.75" stroke="#d9d9d9" stroke-width="0.7"/>
<circle cx="126.7" cy="44" r="2" fill="#cfcfcf" fill-opacity="0.75" stroke="#d9d9d9" stroke-width="0.7"/>
<circle cx="113.7" cy="35.8" r="2" fill="#cfcfcf" fill-opacity="0.75" stroke="#d9d9d9" stroke-width="0.7"/>
<circle cx="112.9" cy="52.7" r="2" fill="#cfcfcf" fill-opacity="0.75" stroke="#d9d9d9" stroke-width="0.7"/>
<circle cx="111" cy="31.2" r="2" fill="#cfcfcf" fill-opacity="0.75" stroke="#d9d9d9" stroke-width="0.7"/>
<circle cx="115.9" cy="38.4" r="2" fill="#cfcfcf" fill-opacity="0.75" stroke="#d9d9d9" stroke-width="0.7"/>
<circle cx="125.1" cy="82.4" r="2" fill="#cfcfcf" fill-opacity="0.75" stroke="#d9d9d9" stroke-width="0.7"/>
<circle cx="110.6" cy="40.3" r="2" fill="#cfcfcf" fill-opacity="0.75" stroke="#d9d9d9" stroke-width="0.7"/>
<circle cx="128.4" cy="79.8" r="2" fill="#cfcfcf" fill-opacity="0.75" stroke="#d9d9d9" stroke-width="0.7"/>
<circle cx="110.2" cy="61.5" r="2" fill="#cfcfcf" fill-opacity="0.75" stroke="#d9d9d9" stroke-width="0.7"/>
<circle cx="124.7" cy="33.9" r="2" fill="#cfcfcf" fill-opacity="0.75" stroke="#d9d9d9" stroke-width="0.7"/>
<circle cx="124" cy="30.9" r="2" fill="#cfcfcf" fill-opacity="0.75" stroke="#d9d9d9" stroke-width="0.7"/>
<circle cx="112.2" cy="78" r="2" fill="#cfcfcf" fill-opacity="0.75" stroke="#d9d9d9" stroke-width="0.7"/>
<circle cx="115.1" cy="45.8" r="2" fill="#cfcfcf" fill-opacity="0.75" stroke="#d9d9d9" stroke-width="0.7"/>
<circle cx="127.8" cy="39.3" r="2" fill="#cfcfcf" fill-opacity="0.75" stroke="#d9d9d9" stroke-width="0.7"/>
<circle cx="115.6" cy="82.1" r="2" fill="#cfcfcf" fill-opacity="0.75" stroke="#d9d9d9" stroke-width="0.7"/>
<circle cx="115.6" cy="42.4" r="2" fill="#cfcfcf" fill-opacity="0.75" stroke="#d9d9d9" stroke-width="0.7"/>
<circle cx="113.2" cy="67" r="2" fill="#cfcfcf" fill-opacity="0.75" stroke="#d9d9d9" stroke-width="0.7"/>
<circle cx="115" cy="32.8" r="2" fill="#cfcfcf" fill-opacity="0.75" stroke="#d9d9d9" stroke-width="0.7"/>
<circle cx="127.6" cy="47.3" r="2" fill="#cfcfcf" fill-opacity="0.75" stroke="#d9d9d9" stroke-width="0.7"/>
<circle cx="124" cy="45.4" r="2" fill="#cfcfcf" fill-opacity="0.75" stroke="#d9d9d9" stroke-width="0.7"/>
<circle cx="127.8" cy="34.5" r="2" fill="#cfcfcf" fill-opacity="0.75" stroke="#d9d9d9" stroke-width="0.7"/>
<circle cx="127.5" cy="64.8" r="2" fill="#cfcfcf" fill-opacity="0.75" stroke="#d9d9d9" stroke-width="0.7"/>
<circle cx="127.6" cy="40.4" r="2" fill="#cfcfcf" fill-opacity="0.75" stroke="#d9d9d9" stroke-width="0.7"/>
<circle cx="128.9" cy="70.8" r="2" fill="#cfcfcf" fill-opacity="0.75" stroke="#d9d9d9" stroke-width="0.7"/>
<circle cx="125.4" cy="47.7" r="2" fill="#cfcfcf" fill-opacity="0.75" stroke="#d9d9d9" stroke-width="0.7"/>
<circle cx="113.4" cy="83.5" r="2" fill="#cfcfcf" fill-opacity="0.75" stroke="#d9d9d9" stroke-width="0.7"/>
<circle cx="128.3" cy="53.3" r="2" fill="#cfcfcf" fill-opacity="0.75" stroke="#d9d9d9" stroke-width="0.7"/>
<circle cx="112" cy="74.6" r="2" fill="#cfcfcf" fill-opacity="0.75" stroke="#d9d9d9" stroke-width="0.7"/>
<circle cx="116.3" cy="51.1" r="2" fill="#cfcfcf" fill-opacity="0.75" stroke="#d9d9d9" stroke-width="0.7"/>
<circle cx="127.5" cy="79.8" r="2" fill="#cfcfcf" fill-opacity="0.75" stroke="#d9d9d9" stroke-width="0.7"/>
<circle cx="114.8" cy="54" r="2" fill="#cfcfcf" fill-opacity="0.75" stroke="#d9d9d9" stroke-width="0.7"/>
<circle cx="114.4" cy="40.3" r="2" fill="#cfcfcf" fill-opacity="0.75" stroke="#d9d9d9" stroke-width="0.7"/>
<circle cx="116.7" cy="42.1" r="2" fill="#cfcfcf" fill-opacity="0.75" stroke="#d9d9d9" stroke-width="0.7"/>
<circle cx="126.2" cy="32.8" r="2" fill="#cfcfcf" fill-opacity="0.75" stroke="#d9d9d9" stroke-width="0.7"/>
<circle cx="114.5" cy="36.1" r="2" fill="#cfcfcf" fill-opacity="0.75" stroke="#d9d9d9" stroke-width="0.7"/>
<circle cx="111.7" cy="48.6" r="2" fill="#cfcfcf" fill-opacity="0.75" stroke="#d9d9d9" stroke-width="0.7"/>
<circle cx="129.2" cy="81.9" r="2" fill="#cfcfcf" fill-opacity="0.75" stroke="#d9d9d9" stroke-width="0.7"/>
<circle cx="126" cy="71.9" r="2" fill="#cfcfcf" fill-opacity="0.75" stroke="#d9d9d9" stroke-width="0.7"/>
<circle cx="116.6" cy="62.3" r="2" fill="#cfcfcf" fill-opacity="0.75" stroke="#d9d9d9" stroke-width="0.7"/>
<circle cx="127.1" cy="46.7" r="2" fill="#cfcfcf" fill-opacity="0.75" stroke="#d9d9d9" stroke-width="0.7"/>
<circle cx="122.5" cy="30.9" r="2" fill="#cfcfcf" fill-opacity="0.75" stroke="#d9d9d9" stroke-width="0.7"/>
<circle cx="115" cy="50.6" r="2" fill="#cfcfcf" fill-opacity="0.75" stroke="#d9d9d9" stroke-width="0.7"/>
<circle cx="127.4" cy="36.1" r="2" fill="#cfcfcf" fill-opacity="0.75" stroke="#d9d9d9" stroke-width="0.7"/>
<circle cx="122.6" cy="77.7" r="2" fill="#cfcfcf" fill-opacity="0.75" stroke="#d9d9d9" stroke-width="0.7"/>
<circle cx="116.2" cy="30.9" r="2" fill="#cfcfcf" fill-opacity="0.75" stroke="#d9d9d9" stroke-width="0.7"/>
<circle cx="116.1" cy="34.1" r="2" fill="#cfcfcf" fill-opacity="0.75" stroke="#d9d9d9" stroke-width="0.7"/>
<circle cx="113.6" cy="74.8" r="2" fill="#cfcfcf" fill-opacity="0.75" stroke="#d9d9d9" stroke-width="0.7"/>
<circle cx="113.5" cy="69.5" r="2" fill="#cfcfcf" fill-opacity="0.75" stroke="#d9d9d9" stroke-width="0.7"/>
<circle cx="110.3" cy="30.9" r="2" fill="#cfcfcf" fill-opacity="0.75" stroke="#d9d9d9" stroke-width="0.7"/>
<circle cx="112.5" cy="53.7" r="2" fill="#cfcfcf" fill-opacity="0.75" stroke="#d9d9d9" stroke-width="0.7"/>
<circle cx="112.5" cy="49.6" r="2" fill="#cfcfcf" fill-opacity="0.75" stroke="#d9d9d9" stroke-width="0.7"/>
<circle cx="129.3" cy="63.8" r="2" fill="#cfcfcf" fill-opacity="0.75" stroke="#d9d9d9" stroke-width="0.7"/>
<circle cx="127.2" cy="84.4" r="2" fill="#cfcfcf" fill-opacity="0.75" stroke="#d9d9d9" stroke-width="0.7"/>
<circle cx="115.7" cy="70.7" r="2" fill="#cfcfcf" fill-opacity="0.75" stroke="#d9d9d9" stroke-width="0.7"/>
<circle cx="117" cy="74.2" r="2" fill="#cfcfcf" fill-opacity="0.75" stroke="#d9d9d9" stroke-width="0.7"/>
<circle cx="115.2" cy="66.4" r="2" fill="#cfcfcf" fill-opacity="0.75" stroke="#d9d9d9" stroke-width="0.7"/>
<circle cx="111.1" cy="80.9" r="2" fill="#cfcfcf" fill-opacity="0.75" stroke="#d9d9d9" stroke-width="0.7"/>
<circle cx="124.9" cy="37.5" r="2" fill="#cfcfcf" fill-opacity="0.75" stroke="#d9d9d9" stroke-width="0.7"/>
<circle cx="127.4" cy="53.4" r="2" fill="#cfcfcf" fill-opacity="0.75" stroke="#d9d9d9" stroke-width="0.7"/>
<circle cx="123.3" cy="35.2" r="2" fill="#cfcfcf" fill-opacity="0.75" stroke="#d9d9d9" stroke-width="0.7"/>
<circle cx="123.2" cy="36.6" r="2" fill="#cfcfcf" fill-opacity="0.75" stroke="#d9d9d9" stroke-width="0.7"/>
<circle cx="112.9" cy="44.6" r="2" fill="#cfcfcf" fill-opacity="0.75" stroke="#d9d9d9" stroke-width="0.7"/>
<circle cx="109.9" cy="34.1" r="2" fill="#cfcfcf" fill-opacity="0.75" stroke="#d9d9d9" stroke-width="0.7"/>
<circle cx="122.3" cy="46.3" r="2" fill="#cfcfcf" fill-opacity="0.75" stroke="#d9d9d9" stroke-width="0.7"/>
<circle cx="112.6" cy="37.3" r="2" fill="#cfcfcf" fill-opacity="0.75" stroke="#d9d9d9" stroke-width="0.7"/>
<circle cx="116.1" cy="33.4" r="2" fill="#cfcfcf" fill-opacity="0.75" stroke="#d9d9d9" stroke-width="0.7"/>
<circle cx="124.3" cy="66" r="2" fill="#cfcfcf" fill-opacity="0.75" stroke="#d9d9d9" stroke-width="0.7"/>
<circle cx="113.1" cy="39.6" r="2" fill="#cfcfcf" fill-opacity="0.75" stroke="#d9d9d9" stroke-width="0.7"/>
<circle cx="116" cy="53.9" r="2" fill="#cfcfcf" fill-opacity="0.75" stroke="#d9d9d9" stroke-width="0.7"/>
<circle cx="112.2" cy="57.7" r="2" fill="#cfcfcf" fill-opacity="0.75" stroke="#d9d9d9" stroke-width="0.7"/>
<circle cx="116.7" cy="34.1" r="2" fill="#cfcfcf" fill-opacity="0.75" stroke="#d9d9d9" stroke-width="0.7"/>
<circle cx="122.2" cy="75.4" r="2" fill="#cfcfcf" fill-opacity="0.75" stroke="#d9d9d9" stroke-width="0.7"/>
<circle cx="123.7" cy="41.6" r="2" fill="#cfcfcf" fill-opacity="0.75" stroke="#d9d9d9" stroke-width="0.7"/>
<circle cx="113.3" cy="73.3" r="2" fill="#cfcfcf" fill-opacity="0.75" stroke="#d9d9d9" stroke-width="0.7"/>
<circle cx="109.9" cy="54.2" r="2" fill="#cfcfcf" fill-opacity="0.75" stroke="#d9d9d9" stroke-width="0.7"/>
<circle cx="111.6" cy="52.4" r="2" fill="#cfcfcf" fill-opacity="0.75" stroke="#d9d9d9" stroke-width="0.7"/>
<circle cx="128.3" cy="30.8" r="2" fill="#cfcfcf" fill-opacity="0.75" stroke="#d9d9d9" stroke-width="0.7"/>
<circle cx="116.7" cy="58.6" r="2" fill="#cfcfcf" fill-opacity="0.75" stroke="#d9d9d9" stroke-width="0.7"/>
<circle cx="124.1" cy="73.2" r="2" fill="#cfcfcf" fill-opacity="0.75" stroke="#d9d9d9" stroke-width="0.7"/>
<circle cx="122.9" cy="81.5" r="2" fill="#cfcfcf" fill-opacity="0.75" stroke="#d9d9d9" stroke-width="0.7"/>
<circle cx="114.8" cy="77.8" r="2" fill="#cfcfcf" fill-opacity="0.75" stroke="#d9d9d9" stroke-width="0.7"/>
<circle cx="113.5" cy="35.3" r="2" fill="#cfcfcf" fill-opacity="0.75" stroke="#d9d9d9" stroke-width="0.7"/>
<circle cx="123.7" cy="31" r="2" fill="#cfcfcf" fill-opacity="0.75" stroke="#d9d9d9" stroke-width="0.7"/>
<circle cx="110.4" cy="61.7" r="2" fill="#cfcfcf" fill-opacity="0.75" stroke="#d9d9d9" stroke-width="0.7"/>
<circle cx="111.5" cy="53.3" r="2" fill="#cfcfcf" fill-opacity="0.75" stroke="#d9d9d9" stroke-width="0.7"/>
<circle cx="115.9" cy="53.4" r="2" fill="#cfcfcf" fill-opacity="0.75" stroke="#d9d9d9" stroke-width="0.7"/>
<circle cx="125.5" cy="70.7" r="2" fill="#cfcfcf" fill-opacity="0.75" stroke="#d9d9d9" stroke-width="0.7"/>
<circle cx="111.7" cy="86.9" r="2" fill="#cfcfcf" fill-opacity="0.75" stroke="#d9d9d9" stroke-width="0.7"/>
<circle cx="112.5" cy="33.7" r="2" fill="#cfcfcf" fill-opacity="0.75" stroke="#d9d9d9" stroke-width="0.7"/>
<circle cx="129.4" cy="37.2" r="2" fill="#cfcfcf" fill-opacity="0.75" stroke="#d9d9d9" stroke-width="0.7"/>
<circle cx="124.1" cy="59" r="2" fill="#cfcfcf" fill-opacity="0.75" stroke="#d9d9d9" stroke-width="0.7"/>
<circle cx="125.5" cy="68.5" r="2" fill="#cfcfcf" fill-opacity="0.75" stroke="#d9d9d9" stroke-width="0.7"/>
<circle cx="123.9" cy="53.6" r="2" fill="#cfcfcf" fill-opacity="0.75" stroke="#d9d9d9" stroke-width="0.7"/>
<circle cx="113.3" cy="31" r="2" fill="#cfcfcf" fill-opacity="0.75" stroke="#d9d9d9" stroke-width="0.7"/>
<circle cx="124.1" cy="58.4" r="2" fill="#cfcfcf" fill-opacity="0.75" stroke="#d9d9d9" stroke-width="0.7"/>
<circle cx="116" cy="33.9" r="2" fill="#cfcfcf" fill-opacity="0.75" stroke="#d9d9d9" stroke-width="0.7"/>
<circle cx="112.1" cy="37.2" r="2" fill="#cfcfcf" fill-opacity="0.75" stroke="#d9d9d9" stroke-width="0.7"/>
<circle cx="113.7" cy="32.1" r="2" fill="#cfcfcf" fill-opacity="0.75" stroke="#d9d9d9" stroke-width="0.7"/>
<circle cx="112.3" cy="50.8" r="2" fill="#cfcfcf" fill-opacity="0.75" stroke="#d9d9d9" stroke-width="0.7"/>
<circle cx="129.2" cy="53.5" r="2" fill="#cfcfcf" fill-opacity="0.75" stroke="#d9d9d9" stroke-width="0.7"/>
<circle cx="113.3" cy="57.8" r="2" fill="#cfcfcf" fill-opacity="0.75" stroke="#d9d9d9" stroke-width="0.7"/>
<circle cx="116.6" cy="37.7" r="2" fill="#cfcfcf" fill-opacity="0.75" stroke="#d9d9d9" stroke-width="0.7"/>
<circle cx="124.1" cy="62.3" r="2" fill="#cfcfcf" fill-opacity="0.75" stroke="#d9d9d9" stroke-width="0.7"/>
<circle cx="126.2" cy="36.1" r="2" fill="#cfcfcf" fill-opacity="0.75" stroke="#d9d9d9" stroke-width="0.7"/>
<circle cx="110.2" cy="62.8" r="2" fill="#cfcfcf" fill-opacity="0.75" stroke="#d9d9d9" stroke-width="0.7"/>
<circle cx="122.9" cy="64.4" r="2" fill="#cfcfcf" fill-opacity="0.75" stroke="#d9d9d9" stroke-width="0.7"/>
<circle cx="115.6" cy="45.8" r="2" fill="#cfcfcf" fill-opacity="0.75" stroke="#d9d9d9" stroke-width="0.7"/>
<circle cx="115.7" cy="69.2" r="2" fill="#cfcfcf" fill-opacity="0.75" stroke="#d9d9d9" stroke-width="0.7"/>
<circle cx="123.3" cy="40.8" r="2" fill="#cfcfcf" fill-opacity="0.75" stroke="#d9d9d9" stroke-width="0.7"/>
<circle cx="122.4" cy="44.7" r="2" fill="#cfcfcf" fill-opacity="0.75" stroke="#d9d9d9" stroke-width="0.7"/>
<circle cx="114.8" cy="53.4" r="2" fill="#cfcfcf" fill-opacity="0.75" stroke="#d9d9d9" stroke-width="0.7"/>
<circle cx="125.3" cy="39.9" r="2" fill="#cfcfcf" fill-opacity="0.75" stroke="#d9d9d9" stroke-width="0.7"/>
<circle cx="115" cy="38.9" r="2" fill="#cfcfcf" fill-opacity="0.75" stroke="#d9d9d9" stroke-width="0.7"/>
<circle cx="112.1" cy="33.7" r="2" fill="#cfcfcf" fill-opacity="0.75" stroke="#d9d9d9" stroke-width="0.7"/>
<circle cx="116.9" cy="41.4" r="2" fill="#cfcfcf" fill-opacity="0.75" stroke="#d9d9d9" stroke-width="0.7"/>
<circle cx="115.2" cy="69.7" r="2" fill="#cfcfcf" fill-opacity="0.75" stroke="#d9d9d9" stroke-width="0.7"/>
<circle cx="126.2" cy="74.6" r="2" fill="#cfcfcf" fill-opacity="0.75" stroke="#d9d9d9" stroke-width="0.7"/>
<circle cx="127.7" cy="31.4" r="2" fill="#cfcfcf" fill-opacity="0.75" stroke="#d9d9d9" stroke-width="0.7"/>
<circle cx="111" cy="30.7" r="2" fill="#cfcfcf" fill-opacity="0.75" stroke="#d9d9d9" stroke-width="0.7"/>
<circle cx="109.9" cy="48" r="2" fill="#cfcfcf" fill-opacity="0.75" stroke="#d9d9d9" stroke-width="0.7"/>
<circle cx="112" cy="35.4" r="2" fill="#cfcfcf" fill-opacity="0.75" stroke="#d9d9d9" stroke-width="0.7"/>
<circle cx="122.3" cy="86.7" r="2" fill="#cfcfcf" fill-opacity="0.75" stroke="#d9d9d9" stroke-width="0.7"/>
<circle cx="112.3" cy="30.7" r="2" fill="#cfcfcf" fill-opacity="0.75" stroke="#d9d9d9" stroke-width="0.7"/>
<circle cx="112.2" cy="84.2" r="2" fill="#cfcfcf" fill-opacity="0.75" stroke="#d9d9d9" stroke-width="0.7"/>
<circle cx="110.5" cy="61.2" r="2" fill="#cfcfcf" fill-opacity="0.75" stroke="#d9d9d9" stroke-width="0.7"/>
<circle cx="111.3" cy="39.5" r="2" fill="#cfcfcf" fill-opacity="0.75" stroke="#d9d9d9" stroke-width="0.7"/>
<circle cx="122.5" cy="52.2" r="2" fill="#cfcfcf" fill-opacity="0.75" stroke="#d9d9d9" stroke-width="0.7"/>
<circle cx="111.1" cy="57.4" r="2" fill="#cfcfcf" fill-opacity="0.75" stroke="#d9d9d9" stroke-width="0.7"/>
<circle cx="172.7" cy="171.8" r="2" fill="#cfcfcf" fill-opacity="0.75" stroke="#d9d9d9" stroke-width="0.7"/>
<circle cx="175.3" cy="171.6" r="2" fill="#cfcfcf" fill-opacity="0.75" stroke="#d9d9d9" stroke-width="0.7"/>
<circle cx="178" cy="171.4" r="2" fill="#cfcfcf" fill-opacity="0.75" stroke="#d9d9d9" stroke-width="0.7"/>
<circle cx="185" cy="171.2" r="2" fill="#cfcfcf" fill-opacity="0.75" stroke="#d9d9d9" stroke-width="0.7"/>
<circle cx="187.6" cy="171.1" r="2" fill="#cfcfcf" fill-opacity="0.75" stroke="#d9d9d9" stroke-width="0.7"/>
<circle cx="192.9" cy="170.8" r="2" fill="#cfcfcf" fill-opacity="0.75" stroke="#d9d9d9" stroke-width="0.7"/>
<circle cx="198.1" cy="170.5" r="2" fill="#cfcfcf" fill-opacity="0.75" stroke="#d9d9d9" stroke-width="0.7"/>
<circle cx="201.6" cy="170.2" r="2" fill="#cfcfcf" fill-opacity="0.75" stroke="#d9d9d9" stroke-width="0.7"/>
<circle cx="36" cy="170.5" r="2" fill="#cfcfcf" fill-opacity="0.75" stroke="#d9d9d9" stroke-width="0.7"/>
<circle cx="64" cy="172.2" r="2" fill="#cfcfcf" fill-opacity="0.75" stroke="#d9d9d9" stroke-width="0.7"/>
<circle cx="66" cy="172.3" r="2" fill="#cfcfcf" fill-opacity="0.75" stroke="#d9d9d9" stroke-width="0.7"/>
<circle cx="70.5" cy="172" r="2" fill="#cfcfcf" fill-opacity="0.75" stroke="#d9d9d9" stroke-width="0.7"/>
<path d="M118.6 36.8L118.3 137.2" stroke="#fff" stroke-opacity="0.55" stroke-width="0.9" fill="none"/>
<circle cx="35.6" cy="160" r="1.9" fill="#5d7bbd" fill-opacity="0.8" stroke="#3a5ba8" stroke-width="0.8"/>
<circle cx="59.6" cy="162.2" r="1.9" fill="#5d7bbd" fill-opacity="0.8" stroke="#3a5ba8" stroke-width="0.8"/>
<circle cx="70.3" cy="165.3" r="1.9" fill="#5d7bbd" fill-opacity="0.8" stroke="#3a5ba8" stroke-width="0.8"/>
<circle cx="94.3" cy="137.8" r="1.9" fill="#5d7bbd" fill-opacity="0.8" stroke="#3a5ba8" stroke-width="0.8"/>
<circle cx="106.2" cy="133.8" r="1.9" fill="#5d7bbd" fill-opacity="0.8" stroke="#3a5ba8" stroke-width="0.8"/>
<circle cx="106" cy="142.5" r="1.9" fill="#5d7bbd" fill-opacity="0.8" stroke="#3a5ba8" stroke-width="0.8"/>
<circle cx="103" cy="153.6" r="1.9" fill="#5d7bbd" fill-opacity="0.8" stroke="#3a5ba8" stroke-width="0.8"/>
<circle cx="102.1" cy="63.8" r="1.9" fill="#5d7bbd" fill-opacity="0.8" stroke="#3a5ba8" stroke-width="0.8"/>
<circle cx="97.4" cy="91.1" r="1.9" fill="#5d7bbd" fill-opacity="0.8" stroke="#3a5ba8" stroke-width="0.8"/>
<circle cx="104.3" cy="91.1" r="1.9" fill="#5d7bbd" fill-opacity="0.8" stroke="#3a5ba8" stroke-width="0.8"/>
<circle cx="102.1" cy="99.5" r="1.9" fill="#5d7bbd" fill-opacity="0.8" stroke="#3a5ba8" stroke-width="0.8"/>
<circle cx="76" cy="167.5" r="1.9" fill="#5d7bbd" fill-opacity="0.8" stroke="#3a5ba8" stroke-width="0.8"/>
<circle cx="77.5" cy="168.2" r="1.9" fill="#5d7bbd" fill-opacity="0.8" stroke="#3a5ba8" stroke-width="0.8"/>
<circle cx="79" cy="168.5" r="1.9" fill="#5d7bbd" fill-opacity="0.8" stroke="#3a5ba8" stroke-width="0.8"/>
<circle cx="84.5" cy="166.4" r="1.9" fill="#5d7bbd" fill-opacity="0.8" stroke="#3a5ba8" stroke-width="0.8"/>
<circle cx="86" cy="167.3" r="1.9" fill="#5d7bbd" fill-opacity="0.8" stroke="#3a5ba8" stroke-width="0.8"/>
<circle cx="88" cy="167.8" r="1.9" fill="#5d7bbd" fill-opacity="0.8" stroke="#3a5ba8" stroke-width="0.8"/>
<circle cx="94.8" cy="165.2" r="1.9" fill="#5d7bbd" fill-opacity="0.8" stroke="#3a5ba8" stroke-width="0.8"/>
<circle cx="96.8" cy="160.9" r="1.9" fill="#5d7bbd" fill-opacity="0.8" stroke="#3a5ba8" stroke-width="0.8"/>
<circle cx="98.8" cy="161.5" r="1.9" fill="#5d7bbd" fill-opacity="0.8" stroke="#3a5ba8" stroke-width="0.8"/>
<circle cx="102.5" cy="160" r="1.9" fill="#5d7bbd" fill-opacity="0.8" stroke="#3a5ba8" stroke-width="0.8"/>
<circle cx="103.8" cy="158.2" r="1.9" fill="#5d7bbd" fill-opacity="0.8" stroke="#3a5ba8" stroke-width="0.8"/>
<circle cx="104.3" cy="162.5" r="1.9" fill="#5d7bbd" fill-opacity="0.8" stroke="#3a5ba8" stroke-width="0.8"/>
<circle cx="103.2" cy="164.8" r="1.9" fill="#5d7bbd" fill-opacity="0.8" stroke="#3a5ba8" stroke-width="0.8"/>
<circle cx="104.6" cy="166.4" r="1.9" fill="#5d7bbd" fill-opacity="0.8" stroke="#3a5ba8" stroke-width="0.8"/>
<circle cx="102.2" cy="167.2" r="1.9" fill="#5d7bbd" fill-opacity="0.8" stroke="#3a5ba8" stroke-width="0.8"/>
<circle cx="104.8" cy="168" r="1.9" fill="#5d7bbd" fill-opacity="0.8" stroke="#3a5ba8" stroke-width="0.8"/>
<circle cx="100.5" cy="168" r="1.9" fill="#5d7bbd" fill-opacity="0.8" stroke="#3a5ba8" stroke-width="0.8"/>
<circle cx="98.5" cy="167.8" r="1.9" fill="#5d7bbd" fill-opacity="0.8" stroke="#3a5ba8" stroke-width="0.8"/>
<circle cx="103.9" cy="156.3" r="1.9" fill="#5d7bbd" fill-opacity="0.8" stroke="#3a5ba8" stroke-width="0.8"/>
<circle cx="131.9" cy="38.2" r="1.9" fill="#d3474e" fill-opacity="0.8" stroke="#be2a33" stroke-width="0.8"/>
<circle cx="131.9" cy="55.2" r="1.9" fill="#d3474e" fill-opacity="0.8" stroke="#be2a33" stroke-width="0.8"/>
<circle cx="133" cy="64.2" r="1.9" fill="#d3474e" fill-opacity="0.8" stroke="#be2a33" stroke-width="0.8"/>
<circle cx="143.8" cy="69" r="1.9" fill="#d3474e" fill-opacity="0.8" stroke="#be2a33" stroke-width="0.8"/>
<circle cx="134" cy="73.4" r="1.9" fill="#d3474e" fill-opacity="0.8" stroke="#be2a33" stroke-width="0.8"/>
<circle cx="138.2" cy="77.5" r="1.9" fill="#d3474e" fill-opacity="0.8" stroke="#be2a33" stroke-width="0.8"/>
<circle cx="139.8" cy="83.9" r="1.9" fill="#d3474e" fill-opacity="0.8" stroke="#be2a33" stroke-width="0.8"/>
<circle cx="135.6" cy="89.7" r="1.9" fill="#d3474e" fill-opacity="0.8" stroke="#be2a33" stroke-width="0.8"/>
<circle cx="135" cy="111.9" r="1.9" fill="#d3474e" fill-opacity="0.8" stroke="#be2a33" stroke-width="0.8"/>
<circle cx="135" cy="117" r="1.9" fill="#d3474e" fill-opacity="0.8" stroke="#be2a33" stroke-width="0.8"/>
<circle cx="131.5" cy="121" r="1.9" fill="#d3474e" fill-opacity="0.8" stroke="#be2a33" stroke-width="0.8"/>
<circle cx="137.1" cy="122.8" r="1.9" fill="#d3474e" fill-opacity="0.8" stroke="#be2a33" stroke-width="0.8"/>
<circle cx="134.2" cy="127.5" r="1.9" fill="#d3474e" fill-opacity="0.8" stroke="#be2a33" stroke-width="0.8"/>
<circle cx="143.8" cy="129.8" r="1.9" fill="#d3474e" fill-opacity="0.8" stroke="#be2a33" stroke-width="0.8"/>
<circle cx="141.5" cy="131.2" r="1.9" fill="#d3474e" fill-opacity="0.8" stroke="#be2a33" stroke-width="0.8"/>
<circle cx="158.2" cy="132.2" r="1.9" fill="#d3474e" fill-opacity="0.8" stroke="#be2a33" stroke-width="0.8"/>
<circle cx="132.9" cy="134.2" r="1.9" fill="#d3474e" fill-opacity="0.8" stroke="#be2a33" stroke-width="0.8"/>
<circle cx="131.5" cy="136.8" r="1.9" fill="#d3474e" fill-opacity="0.8" stroke="#be2a33" stroke-width="0.8"/>
<circle cx="138.2" cy="138" r="1.9" fill="#d3474e" fill-opacity="0.8" stroke="#be2a33" stroke-width="0.8"/>
<circle cx="136.8" cy="146.8" r="1.9" fill="#d3474e" fill-opacity="0.8" stroke="#be2a33" stroke-width="0.8"/>
<circle cx="132.9" cy="148.2" r="1.9" fill="#d3474e" fill-opacity="0.8" stroke="#be2a33" stroke-width="0.8"/>
<circle cx="139.4" cy="149.4" r="1.9" fill="#d3474e" fill-opacity="0.8" stroke="#be2a33" stroke-width="0.8"/>
<circle cx="145.9" cy="152.9" r="1.9" fill="#d3474e" fill-opacity="0.8" stroke="#be2a33" stroke-width="0.8"/>
<circle cx="134.2" cy="152.6" r="1.9" fill="#d3474e" fill-opacity="0.8" stroke="#be2a33" stroke-width="0.8"/>
<circle cx="150.8" cy="157.8" r="1.9" fill="#d3474e" fill-opacity="0.8" stroke="#be2a33" stroke-width="0.8"/>
<circle cx="154" cy="160.8" r="1.9" fill="#d3474e" fill-opacity="0.8" stroke="#be2a33" stroke-width="0.8"/>
<circle cx="175.7" cy="160.4" r="1.9" fill="#d3474e" fill-opacity="0.8" stroke="#be2a33" stroke-width="0.8"/>
<circle cx="132.2" cy="144" r="1.9" fill="#d3474e" fill-opacity="0.8" stroke="#be2a33" stroke-width="0.8"/>
<circle cx="133" cy="151" r="1.9" fill="#d3474e" fill-opacity="0.8" stroke="#be2a33" stroke-width="0.8"/>
<circle cx="137.8" cy="147.6" r="1.9" fill="#d3474e" fill-opacity="0.8" stroke="#be2a33" stroke-width="0.8"/>
<circle cx="138.1" cy="163.4" r="1.9" fill="#d3474e" fill-opacity="0.8" stroke="#be2a33" stroke-width="0.8"/>
<circle cx="135.3" cy="158.6" r="1.9" fill="#d3474e" fill-opacity="0.8" stroke="#be2a33" stroke-width="0.8"/>
<circle cx="132.4" cy="158.7" r="1.9" fill="#d3474e" fill-opacity="0.8" stroke="#be2a33" stroke-width="0.8"/>
<circle cx="137.7" cy="167.3" r="1.9" fill="#d3474e" fill-opacity="0.8" stroke="#be2a33" stroke-width="0.8"/>
<circle cx="139.1" cy="166.1" r="1.9" fill="#d3474e" fill-opacity="0.8" stroke="#be2a33" stroke-width="0.8"/>
<circle cx="133.8" cy="167" r="1.9" fill="#d3474e" fill-opacity="0.8" stroke="#be2a33" stroke-width="0.8"/>
<circle cx="135.7" cy="167.6" r="1.9" fill="#d3474e" fill-opacity="0.8" stroke="#be2a33" stroke-width="0.8"/>
<circle cx="138.5" cy="166.7" r="1.9" fill="#d3474e" fill-opacity="0.8" stroke="#be2a33" stroke-width="0.8"/>
<circle cx="135.4" cy="168" r="1.9" fill="#d3474e" fill-opacity="0.8" stroke="#be2a33" stroke-width="0.8"/>
<circle cx="133.9" cy="159" r="1.9" fill="#d3474e" fill-opacity="0.8" stroke="#be2a33" stroke-width="0.8"/>
<circle cx="131.9" cy="165.7" r="1.9" fill="#d3474e" fill-opacity="0.8" stroke="#be2a33" stroke-width="0.8"/>
<circle cx="132.5" cy="166" r="1.9" fill="#d3474e" fill-opacity="0.8" stroke="#be2a33" stroke-width="0.8"/>
<circle cx="133.7" cy="166.7" r="1.9" fill="#d3474e" fill-opacity="0.8" stroke="#be2a33" stroke-width="0.8"/>
<circle cx="142.7" cy="168.1" r="1.9" fill="#d3474e" fill-opacity="0.8" stroke="#be2a33" stroke-width="0.8"/>
<circle cx="132.6" cy="165.4" r="1.9" fill="#d3474e" fill-opacity="0.8" stroke="#be2a33" stroke-width="0.8"/>
<circle cx="142.7" cy="167.3" r="1.9" fill="#d3474e" fill-opacity="0.8" stroke="#be2a33" stroke-width="0.8"/>
<circle cx="135" cy="157.8" r="1.9" fill="#d3474e" fill-opacity="0.8" stroke="#be2a33" stroke-width="0.8"/>
<circle cx="139.6" cy="166.7" r="1.9" fill="#d3474e" fill-opacity="0.8" stroke="#be2a33" stroke-width="0.8"/>
<circle cx="135.3" cy="158.6" r="1.9" fill="#d3474e" fill-opacity="0.8" stroke="#be2a33" stroke-width="0.8"/>
<circle cx="136.8" cy="158" r="1.9" fill="#d3474e" fill-opacity="0.8" stroke="#be2a33" stroke-width="0.8"/>
<circle cx="135.2" cy="166" r="1.9" fill="#d3474e" fill-opacity="0.8" stroke="#be2a33" stroke-width="0.8"/>
<circle cx="133.7" cy="166.3" r="1.9" fill="#d3474e" fill-opacity="0.8" stroke="#be2a33" stroke-width="0.8"/>
<circle cx="132.8" cy="167" r="1.9" fill="#d3474e" fill-opacity="0.8" stroke="#be2a33" stroke-width="0.8"/>
<circle cx="134" cy="162.8" r="1.9" fill="#d3474e" fill-opacity="0.8" stroke="#be2a33" stroke-width="0.8"/>
<circle cx="139.9" cy="168.1" r="1.9" fill="#d3474e" fill-opacity="0.8" stroke="#be2a33" stroke-width="0.8"/>
<circle cx="134.1" cy="165.1" r="1.9" fill="#d3474e" fill-opacity="0.8" stroke="#be2a33" stroke-width="0.8"/>
<circle cx="134.2" cy="163.8" r="1.9" fill="#d3474e" fill-opacity="0.8" stroke="#be2a33" stroke-width="0.8"/>
<circle cx="134.1" cy="163.8" r="1.9" fill="#d3474e" fill-opacity="0.8" stroke="#be2a33" stroke-width="0.8"/>
<circle cx="132.1" cy="166.8" r="1.9" fill="#d3474e" fill-opacity="0.8" stroke="#be2a33" stroke-width="0.8"/>
<circle cx="132.8" cy="168.1" r="1.9" fill="#d3474e" fill-opacity="0.8" stroke="#be2a33" stroke-width="0.8"/>
<circle cx="131.6" cy="160.1" r="1.9" fill="#d3474e" fill-opacity="0.8" stroke="#be2a33" stroke-width="0.8"/>
<circle cx="141.2" cy="167.4" r="1.9" fill="#d3474e" fill-opacity="0.8" stroke="#be2a33" stroke-width="0.8"/>
<circle cx="136.4" cy="164.1" r="1.9" fill="#d3474e" fill-opacity="0.8" stroke="#be2a33" stroke-width="0.8"/>
<circle cx="133.3" cy="168.1" r="1.9" fill="#d3474e" fill-opacity="0.8" stroke="#be2a33" stroke-width="0.8"/>
<circle cx="137.4" cy="158.7" r="1.9" fill="#d3474e" fill-opacity="0.8" stroke="#be2a33" stroke-width="0.8"/>
<circle cx="134.6" cy="161.5" r="1.9" fill="#d3474e" fill-opacity="0.8" stroke="#be2a33" stroke-width="0.8"/>
<circle cx="143.5" cy="163.9" r="1.9" fill="#d3474e" fill-opacity="0.8" stroke="#be2a33" stroke-width="0.8"/>
<circle cx="134.5" cy="164.9" r="1.9" fill="#d3474e" fill-opacity="0.8" stroke="#be2a33" stroke-width="0.8"/>
<circle cx="141" cy="167.1" r="1.9" fill="#d3474e" fill-opacity="0.8" stroke="#be2a33" stroke-width="0.8"/>
<circle cx="138.7" cy="163.8" r="1.9" fill="#d3474e" fill-opacity="0.8" stroke="#be2a33" stroke-width="0.8"/>
<circle cx="134.8" cy="160.2" r="1.9" fill="#d3474e" fill-opacity="0.8" stroke="#be2a33" stroke-width="0.8"/>
<circle cx="144.5" cy="165.9" r="1.9" fill="#d3474e" fill-opacity="0.8" stroke="#be2a33" stroke-width="0.8"/>
<circle cx="135.8" cy="166.1" r="1.9" fill="#d3474e" fill-opacity="0.8" stroke="#be2a33" stroke-width="0.8"/>
<circle cx="141" cy="162.2" r="1.9" fill="#d3474e" fill-opacity="0.8" stroke="#be2a33" stroke-width="0.8"/>
<circle cx="138.3" cy="160.1" r="1.9" fill="#d3474e" fill-opacity="0.8" stroke="#be2a33" stroke-width="0.8"/>
<circle cx="136.2" cy="167.2" r="1.9" fill="#d3474e" fill-opacity="0.8" stroke="#be2a33" stroke-width="0.8"/>
<circle cx="133" cy="165.8" r="1.9" fill="#d3474e" fill-opacity="0.8" stroke="#be2a33" stroke-width="0.8"/>
<circle cx="134.4" cy="167.1" r="1.9" fill="#d3474e" fill-opacity="0.8" stroke="#be2a33" stroke-width="0.8"/>
<circle cx="138.5" cy="155" r="1.9" fill="#d3474e" fill-opacity="0.8" stroke="#be2a33" stroke-width="0.8"/>
<circle cx="132.5" cy="167.1" r="1.9" fill="#d3474e" fill-opacity="0.8" stroke="#be2a33" stroke-width="0.8"/>
<circle cx="138.4" cy="167.8" r="1.9" fill="#d3474e" fill-opacity="0.8" stroke="#be2a33" stroke-width="0.8"/>
<circle cx="135" cy="166.5" r="1.9" fill="#d3474e" fill-opacity="0.8" stroke="#be2a33" stroke-width="0.8"/>
<circle cx="140.1" cy="163.8" r="1.9" fill="#d3474e" fill-opacity="0.8" stroke="#be2a33" stroke-width="0.8"/>
<circle cx="137.1" cy="167" r="1.9" fill="#d3474e" fill-opacity="0.8" stroke="#be2a33" stroke-width="0.8"/>
<circle cx="143.1" cy="165" r="1.9" fill="#d3474e" fill-opacity="0.8" stroke="#be2a33" stroke-width="0.8"/>
<circle cx="137.9" cy="167.2" r="1.9" fill="#d3474e" fill-opacity="0.8" stroke="#be2a33" stroke-width="0.8"/>
<circle cx="133.1" cy="166.3" r="1.9" fill="#d3474e" fill-opacity="0.8" stroke="#be2a33" stroke-width="0.8"/>
<circle cx="133.1" cy="158" r="1.9" fill="#d3474e" fill-opacity="0.8" stroke="#be2a33" stroke-width="0.8"/>
<circle cx="138.2" cy="162.8" r="1.9" fill="#d3474e" fill-opacity="0.8" stroke="#be2a33" stroke-width="0.8"/>
<circle cx="136.2" cy="165.4" r="1.9" fill="#d3474e" fill-opacity="0.8" stroke="#be2a33" stroke-width="0.8"/>
<circle cx="137.9" cy="161.7" r="1.9" fill="#d3474e" fill-opacity="0.8" stroke="#be2a33" stroke-width="0.8"/>
<circle cx="133.3" cy="163.8" r="1.9" fill="#d3474e" fill-opacity="0.8" stroke="#be2a33" stroke-width="0.8"/>
<circle cx="142.4" cy="168.2" r="1.9" fill="#d3474e" fill-opacity="0.8" stroke="#be2a33" stroke-width="0.8"/>
<circle cx="137.6" cy="167.5" r="1.9" fill="#d3474e" fill-opacity="0.8" stroke="#be2a33" stroke-width="0.8"/>
<circle cx="140.5" cy="167.7" r="1.9" fill="#d3474e" fill-opacity="0.8" stroke="#be2a33" stroke-width="0.8"/>
<circle cx="136.1" cy="167.7" r="1.9" fill="#d3474e" fill-opacity="0.8" stroke="#be2a33" stroke-width="0.8"/>
<circle cx="134.1" cy="166.9" r="1.9" fill="#d3474e" fill-opacity="0.8" stroke="#be2a33" stroke-width="0.8"/>
<circle cx="143.4" cy="159.4" r="1.9" fill="#d3474e" fill-opacity="0.8" stroke="#be2a33" stroke-width="0.8"/>
<circle cx="139.1" cy="166.7" r="1.9" fill="#d3474e" fill-opacity="0.8" stroke="#be2a33" stroke-width="0.8"/>
<circle cx="136.6" cy="168.2" r="1.9" fill="#d3474e" fill-opacity="0.8" stroke="#be2a33" stroke-width="0.8"/>
<circle cx="146" cy="166.5" r="1.9" fill="#d3474e" fill-opacity="0.8" stroke="#be2a33" stroke-width="0.8"/>
<circle cx="146.9" cy="166.7" r="1.9" fill="#d3474e" fill-opacity="0.8" stroke="#be2a33" stroke-width="0.8"/>
<circle cx="147.8" cy="167.3" r="1.9" fill="#d3474e" fill-opacity="0.8" stroke="#be2a33" stroke-width="0.8"/>
<circle cx="148.7" cy="167.4" r="1.9" fill="#d3474e" fill-opacity="0.8" stroke="#be2a33" stroke-width="0.8"/>
<circle cx="149.6" cy="166.8" r="1.9" fill="#d3474e" fill-opacity="0.8" stroke="#be2a33" stroke-width="0.8"/>
<circle cx="150.5" cy="167.3" r="1.9" fill="#d3474e" fill-opacity="0.8" stroke="#be2a33" stroke-width="0.8"/>
<circle cx="151.4" cy="167.3" r="1.9" fill="#d3474e" fill-opacity="0.8" stroke="#be2a33" stroke-width="0.8"/>
<circle cx="152.3" cy="167.8" r="1.9" fill="#d3474e" fill-opacity="0.8" stroke="#be2a33" stroke-width="0.8"/>
<circle cx="153.2" cy="167.8" r="1.9" fill="#d3474e" fill-opacity="0.8" stroke="#be2a33" stroke-width="0.8"/>
<circle cx="154.1" cy="167.9" r="1.9" fill="#d3474e" fill-opacity="0.8" stroke="#be2a33" stroke-width="0.8"/>
<circle cx="155" cy="167.4" r="1.9" fill="#d3474e" fill-opacity="0.8" stroke="#be2a33" stroke-width="0.8"/>
<circle cx="155.9" cy="167.8" r="1.9" fill="#d3474e" fill-opacity="0.8" stroke="#be2a33" stroke-width="0.8"/>
<circle cx="156.8" cy="167.3" r="1.9" fill="#d3474e" fill-opacity="0.8" stroke="#be2a33" stroke-width="0.8"/>
<circle cx="157.7" cy="167.6" r="1.9" fill="#d3474e" fill-opacity="0.8" stroke="#be2a33" stroke-width="0.8"/>
<circle cx="158.6" cy="167.9" r="1.9" fill="#d3474e" fill-opacity="0.8" stroke="#be2a33" stroke-width="0.8"/>
<circle cx="159.5" cy="167.8" r="1.9" fill="#d3474e" fill-opacity="0.8" stroke="#be2a33" stroke-width="0.8"/>
<circle cx="160.4" cy="167.3" r="1.9" fill="#d3474e" fill-opacity="0.8" stroke="#be2a33" stroke-width="0.8"/>
<circle cx="161.3" cy="168.1" r="1.9" fill="#d3474e" fill-opacity="0.8" stroke="#be2a33" stroke-width="0.8"/>
<circle cx="162.2" cy="167.6" r="1.9" fill="#d3474e" fill-opacity="0.8" stroke="#be2a33" stroke-width="0.8"/>
<circle cx="163.1" cy="167.4" r="1.9" fill="#d3474e" fill-opacity="0.8" stroke="#be2a33" stroke-width="0.8"/>
<circle cx="164" cy="166.6" r="1.9" fill="#d3474e" fill-opacity="0.8" stroke="#be2a33" stroke-width="0.8"/>
<circle cx="164.9" cy="167" r="1.9" fill="#d3474e" fill-opacity="0.8" stroke="#be2a33" stroke-width="0.8"/>
<circle cx="165.8" cy="166.4" r="1.9" fill="#d3474e" fill-opacity="0.8" stroke="#be2a33" stroke-width="0.8"/>
<circle cx="166.7" cy="166.6" r="1.9" fill="#d3474e" fill-opacity="0.8" stroke="#be2a33" stroke-width="0.8"/>
<circle cx="167.6" cy="166" r="1.9" fill="#d3474e" fill-opacity="0.8" stroke="#be2a33" stroke-width="0.8"/>
<circle cx="168.5" cy="166" r="1.9" fill="#d3474e" fill-opacity="0.8" stroke="#be2a33" stroke-width="0.8"/>
<circle cx="169.4" cy="165.4" r="1.9" fill="#d3474e" fill-opacity="0.8" stroke="#be2a33" stroke-width="0.8"/>
<circle cx="170.3" cy="164" r="1.9" fill="#d3474e" fill-opacity="0.8" stroke="#be2a33" stroke-width="0.8"/>
<circle cx="171.2" cy="163.5" r="1.9" fill="#d3474e" fill-opacity="0.8" stroke="#be2a33" stroke-width="0.8"/>
<circle cx="172.1" cy="163" r="1.9" fill="#d3474e" fill-opacity="0.8" stroke="#be2a33" stroke-width="0.8"/>
<circle cx="173" cy="162.4" r="1.9" fill="#d3474e" fill-opacity="0.8" stroke="#be2a33" stroke-width="0.8"/>
<circle cx="173.9" cy="161.9" r="1.9" fill="#d3474e" fill-opacity="0.8" stroke="#be2a33" stroke-width="0.8"/>
<circle cx="174.8" cy="161.2" r="1.9" fill="#d3474e" fill-opacity="0.8" stroke="#be2a33" stroke-width="0.8"/>
<circle cx="175.7" cy="160.6" r="1.9" fill="#d3474e" fill-opacity="0.8" stroke="#be2a33" stroke-width="0.8"/>
<line x1="106.6" y1="26.5" x2="106.6" y2="181.5" stroke="#111" stroke-width="1.3" stroke-dasharray="1.3 3.55"/>
<line x1="131.2" y1="26.5" x2="131.2" y2="181.5" stroke="#111" stroke-width="1.3" stroke-dasharray="1.3 3.55"/>
<line x1="28" y1="169.2" x2="210" y2="169.2" stroke="#111" stroke-width="1.3" stroke-dasharray="1.3 3.1"/>
<rect x="26.8" y="24.2" width="184" height="158.1" fill="none" stroke="#231815" stroke-width="1.5" />
<text x="25.2" y="178.5" font-size="8.7" font-weight="bold" fill="#231815" text-anchor="end" >0</text>
<text x="25.2" y="164.2" font-size="8.7" font-weight="bold" fill="#231815" text-anchor="end" >3</text>
<text x="25.2" y="149.8" font-size="8.7" font-weight="bold" fill="#231815" text-anchor="end" >6</text>
<text x="25.2" y="135.5" font-size="8.7" font-weight="bold" fill="#231815" text-anchor="end" >9</text>
<text x="25.2" y="121.1" font-size="8.7" font-weight="bold" fill="#231815" text-anchor="end" >12</text>
<text x="25.2" y="106.8" font-size="8.7" font-weight="bold" fill="#231815" text-anchor="end" >15</text>
<text x="25.2" y="92.5" font-size="8.7" font-weight="bold" fill="#231815" text-anchor="end" >18</text>
<text x="25.2" y="78.1" font-size="8.7" font-weight="bold" fill="#231815" text-anchor="end" >21</text>
<text x="25.2" y="63.8" font-size="8.7" font-weight="bold" fill="#231815" text-anchor="end" >24</text>
<text x="25.2" y="49.4" font-size="8.7" font-weight="bold" fill="#231815" text-anchor="end" >27</text>
<text x="25.2" y="35.1" font-size="8.7" font-weight="bold" fill="#231815" text-anchor="end" >30</text>
<text x="44.9" y="192.2" font-size="8.7" font-weight="bold" fill="#231815" text-anchor="middle" >-6</text>
<text x="69.6" y="192.2" font-size="8.7" font-weight="bold" fill="#231815" text-anchor="middle" >-4</text>
<text x="94.2" y="192.2" font-size="8.7" font-weight="bold" fill="#231815" text-anchor="middle" >-2</text>
<text x="118.9" y="192.2" font-size="8.7" font-weight="bold" fill="#231815" text-anchor="middle" >0</text>
<text x="143.6" y="192.2" font-size="8.7" font-weight="bold" fill="#231815" text-anchor="middle" >2</text>
<text x="168.2" y="192.2" font-size="8.7" font-weight="bold" fill="#231815" text-anchor="middle" >4</text>
<text x="192.9" y="192.2" font-size="8.7" font-weight="bold" fill="#231815" text-anchor="middle" >6</text>
<text x="118.5" y="203.8" font-size="8.6" font-weight="bold" fill="#231815" text-anchor="middle" >Log<tspan font-size="5" dy="1.5">2</tspan><tspan dy="-1.5">(Fold Change)</tspan></text>
<text transform="translate(10.2,103) rotate(-90)" font-size="8.6" font-weight="bold" fill="#231815" text-anchor="middle">-Log<tspan font-size="5" dy="1.5">10</tspan><tspan dy="-1.5">(</tspan><tspan font-style="italic">p</tspan>-value)</text>
<text x="31.5" y="36.9" font-size="8.85" font-weight="bold" fill="#231815" text-anchor="start" >Regulation</text>
<circle cx="34.6" cy="43.3" r="2.3" fill="#d9686d" stroke="#cf5259" stroke-width="0.7"/>
<text x="40.6" y="46" font-size="9.4" font-weight="normal" fill="#1a1a1a" text-anchor="start" stroke="#1a1a1a" stroke-width="0.25">Up</text>
<circle cx="34.6" cy="51" r="2.3" fill="#5d7bbd" stroke="#4a69b0" stroke-width="0.7"/>
<text x="40.6" y="53.5" font-size="9.4" font-weight="normal" fill="#1a1a1a" text-anchor="start" stroke="#1a1a1a" stroke-width="0.25">Down</text>
<circle cx="34.6" cy="59" r="2.3" fill="#d0d0d0" stroke="#d6d6d6" stroke-width="0.7"/>
<text x="40.6" y="61.7" font-size="9.4" font-weight="normal" fill="#1a1a1a" text-anchor="start" stroke="#1a1a1a" stroke-width="0.25">No difference</text>
<line x1="136.8" y1="38.4" x2="150.8" y2="38.4" stroke="#111" stroke-width="1.3" />
<text x="153.4" y="41.7" font-size="8.8" font-weight="bold" fill="#c8232c" text-anchor="start" >HMOX1</text>
<text x="225.5" y="12.8" font-size="16.5" font-weight="bold" fill="#231815" text-anchor="start" >B</text>
<text x="270.3" y="19.3" font-size="8.7" font-weight="bold" fill="#231815" text-anchor="middle" >shCtrl</text>
<text x="317.2" y="19.3" font-size="8.7" font-weight="bold" fill="#231815" text-anchor="middle" >shPRSS22</text>
<line x1="248.6" y1="23.6" x2="292" y2="23.6" stroke="#111" stroke-width="1.7" />
<line x1="295.4" y1="23.6" x2="339.8" y2="23.6" stroke="#111" stroke-width="1.7" />
<path fill="#ffffff" d="M246.9 26.6h15.9v1.2h-15.9zM246.9 27.6h15.9v1.9h-15.9zM246.9 157.9h15.9v1.6h-15.9zM246.9 167.2h15.9v1.6h-15.9zM262.6 149.4h15.9v1.9h-15.9zM278.3 60.5h15.9v1.2h-15.9zM278.3 174.1h15.9v1.6h-15.9zM293.9 50.4h15.9v1.6h-15.9zM293.9 53.3h15.9v1.9h-15.9zM293.9 54.9h15.9v1.6h-15.9zM293.9 84.8h15.9v2.2h-15.9zM293.9 155.9h15.9v2.2h-15.9zM309.6 27.6h15.9v1.9h-15.9zM309.6 29.2h15.9v1.9h-15.9zM309.6 76.8h15.9v1.1h-15.9zM309.6 81.5h15.9v2.2h-15.9zM309.6 161.8h15.9v1.6h-15.9zM309.6 168.5h15.9v1.1h-15.9zM309.6 169.3h15.9v1.1h-15.9zM325.3 179h15.9v1.2h-15.9zM325.3 182.6h15.9v1.9h-15.9z"/>
<path fill="#dd7a7d" d="M246.9 29.2h15.9v1.9h-15.9zM246.9 31.8h15.9v1.2h-15.9zM246.9 35.7h15.9v2.2h-15.9zM246.9 46.4h15.9v1.2h-15.9zM246.9 56.2h15.9v1.6h-15.9zM262.6 44.8h15.9v1.9h-15.9zM262.6 59.5h15.9v1.2h-15.9zM262.6 61.5h15.9v2.2h-15.9zM262.6 67.4h15.9v2.2h-15.9zM278.3 27.6h15.9v1.9h-15.9zM278.3 32.8h15.9v1.9h-15.9zM278.3 37.7h15.9v1.9h-15.9zM278.3 42.5h15.9v1.6h-15.9zM278.3 46.4h15.9v1.2h-15.9zM293.9 76.8h15.9v1.1h-15.9zM293.9 97.9h15.9v1.2h-15.9zM293.9 98.9h15.9v1.6h-15.9zM293.9 115.3h15.9v1.9h-15.9zM293.9 133.8h15.9v2.2h-15.9zM293.9 144.4h15.9v2.2h-15.9zM293.9 151h15.9v1.2h-15.9zM293.9 163.1h15.9v1.2h-15.9zM293.9 170.1h15.9v1.9h-15.9zM293.9 171.7h15.9v1.9h-15.9zM309.6 89.4h15.9v2.2h-15.9zM309.6 91.4h15.9v1.9h-15.9zM309.6 96.3h15.9v1.1h-15.9zM309.6 98.9h15.9v1.6h-15.9zM309.6 102.2h15.9v2.2h-15.9zM309.6 122.4h15.9v1.2h-15.9zM309.6 125.4h15.9v1.1h-15.9zM309.6 184.2h15.9v0.7h-15.9zM325.3 105.5h15.9v2.2h-15.9zM325.3 107.5h15.9v1.2h-15.9zM325.3 112.7h15.9v1.9h-15.9zM325.3 116.9h15.9v1.9h-15.9zM325.3 140h15.9v1.9h-15.9zM325.3 146.4h15.9v1.2h-15.9zM325.3 149.4h15.9v1.9h-15.9zM325.3 157.9h15.9v1.6h-15.9zM325.3 164.1h15.9v1.1h-15.9zM325.3 169.3h15.9v1.1h-15.9zM325.3 170.1h15.9v1.9h-15.9zM325.3 171.7h15.9v1.9h-15.9z"/>
<path fill="#e08789" d="M246.9 30.8h15.9v1.2h-15.9zM246.9 32.8h15.9v1.9h-15.9zM246.9 37.7h15.9v1.9h-15.9zM246.9 39.3h15.9v1.1h-15.9zM246.9 40.1h15.9v1.9h-15.9zM246.9 48.4h15.9v2.2h-15.9zM246.9 51.7h15.9v1.9h-15.9zM246.9 60.5h15.9v1.2h-15.9zM246.9 66.1h15.9v1.6h-15.9zM246.9 69.4h15.9v0.5h-15.9zM262.6 29.2h15.9v1.9h-15.9zM262.6 37.7h15.9v1.9h-15.9zM262.6 64.5h15.9v1.9h-15.9zM278.3 29.2h15.9v1.9h-15.9zM278.3 34.4h15.9v1.6h-15.9zM278.3 41.7h15.9v1.1h-15.9zM278.3 44.8h15.9v1.9h-15.9zM293.9 71.6h15.9v1.1h-15.9zM293.9 72.4h15.9v1.2h-15.9zM293.9 104.2h15.9v1.6h-15.9zM293.9 111.4h15.9v1.6h-15.9zM293.9 112.7h15.9v1.9h-15.9zM293.9 128.8h15.9v2.2h-15.9zM293.9 141.6h15.9v1.1h-15.9zM293.9 142.4h15.9v2.2h-15.9zM293.9 168.5h15.9v1.1h-15.9zM293.9 181.6h15.9v1.2h-15.9zM309.6 93h15.9v1.6h-15.9zM309.6 95.3h15.9v1.2h-15.9zM309.6 115.3h15.9v1.9h-15.9zM309.6 123.4h15.9v2.2h-15.9zM309.6 173.3h15.9v1.1h-15.9zM325.3 111.4h15.9v1.6h-15.9zM325.3 115.3h15.9v1.9h-15.9zM325.3 118.5h15.9v1.6h-15.9zM325.3 126.2h15.9v1.2h-15.9zM325.3 135.8h15.9v1.2h-15.9zM325.3 136.8h15.9v1.9h-15.9zM325.3 161.8h15.9v1.6h-15.9zM325.3 167.2h15.9v1.6h-15.9zM325.3 175.4h15.9v2.2h-15.9z"/>
<path fill="#ebaeb0" d="M246.9 34.4h15.9v1.6h-15.9zM246.9 41.7h15.9v1.1h-15.9zM246.9 43.8h15.9v1.2h-15.9zM246.9 44.8h15.9v1.9h-15.9zM246.9 47.4h15.9v1.2h-15.9zM262.6 30.8h15.9v1.2h-15.9zM262.6 35.7h15.9v2.2h-15.9zM262.6 42.5h15.9v1.6h-15.9zM278.3 48.4h15.9v2.2h-15.9zM278.3 63.5h15.9v1.2h-15.9zM293.9 95.3h15.9v1.2h-15.9zM293.9 101.2h15.9v1.2h-15.9zM293.9 116.9h15.9v1.9h-15.9zM293.9 132.8h15.9v1.2h-15.9zM293.9 136.8h15.9v1.9h-15.9zM293.9 175.4h15.9v2.2h-15.9zM309.6 112.7h15.9v1.9h-15.9zM309.6 119.8h15.9v1.9h-15.9zM309.6 121.4h15.9v1.2h-15.9zM309.6 164.1h15.9v1.1h-15.9zM309.6 170.1h15.9v1.9h-15.9zM309.6 171.7h15.9v1.9h-15.9zM309.6 175.4h15.9v2.2h-15.9zM325.3 71.6h15.9v1.1h-15.9zM325.3 75h15.9v1.1h-15.9zM325.3 88.1h15.9v1.6h-15.9zM325.3 96.3h15.9v1.1h-15.9zM325.3 109.8h15.9v1.9h-15.9z"/>
<path fill="#da6d71" d="M246.9 42.5h15.9v1.6h-15.9zM246.9 59.5h15.9v1.2h-15.9zM246.9 67.4h15.9v2.2h-15.9zM262.6 41.7h15.9v1.1h-15.9zM262.6 57.5h15.9v2.2h-15.9zM278.3 26.6h15.9v1.2h-15.9zM293.9 121.4h15.9v1.2h-15.9zM293.9 122.4h15.9v1.2h-15.9zM293.9 125.4h15.9v1.1h-15.9zM293.9 138.4h15.9v1.9h-15.9zM293.9 146.4h15.9v1.2h-15.9zM293.9 164.1h15.9v1.1h-15.9zM293.9 169.3h15.9v1.1h-15.9zM293.9 174.1h15.9v1.6h-15.9zM293.9 182.6h15.9v1.9h-15.9zM309.6 97.9h15.9v1.2h-15.9zM309.6 100.2h15.9v1.2h-15.9zM309.6 108.5h15.9v1.6h-15.9zM309.6 118.5h15.9v1.6h-15.9zM309.6 146.4h15.9v1.2h-15.9zM309.6 179h15.9v1.2h-15.9zM325.3 141.6h15.9v1.1h-15.9zM325.3 153h15.9v1.1h-15.9zM325.3 163.1h15.9v1.2h-15.9z"/>
<path fill="#e49496" d="M246.9 50.4h15.9v1.6h-15.9zM246.9 53.3h15.9v1.9h-15.9zM246.9 54.9h15.9v1.6h-15.9zM246.9 61.5h15.9v2.2h-15.9zM262.6 50.4h15.9v1.6h-15.9zM262.6 56.2h15.9v1.6h-15.9zM262.6 60.5h15.9v1.2h-15.9zM278.3 30.8h15.9v1.2h-15.9zM278.3 40.1h15.9v1.9h-15.9zM293.9 81.5h15.9v2.2h-15.9zM293.9 89.4h15.9v2.2h-15.9zM293.9 97.1h15.9v1.1h-15.9zM293.9 102.2h15.9v2.2h-15.9zM293.9 114.3h15.9v1.2h-15.9zM293.9 123.4h15.9v2.2h-15.9zM293.9 149.4h15.9v1.9h-15.9zM293.9 152h15.9v1.2h-15.9zM293.9 153h15.9v1.1h-15.9zM293.9 160h15.9v1.2h-15.9zM293.9 164.9h15.9v1.2h-15.9zM293.9 165.9h15.9v1.6h-15.9zM293.9 173.3h15.9v1.1h-15.9zM293.9 180h15.9v1.9h-15.9zM293.9 184.2h15.9v0.7h-15.9zM309.6 84.8h15.9v2.2h-15.9zM309.6 86.8h15.9v1.6h-15.9zM309.6 94.3h15.9v1.2h-15.9zM309.6 97.1h15.9v1.1h-15.9zM309.6 130.8h15.9v2.2h-15.9zM309.6 140h15.9v1.9h-15.9zM309.6 149.4h15.9v1.9h-15.9zM309.6 153.8h15.9v1.1h-15.9zM309.6 177.4h15.9v1.9h-15.9zM309.6 181.6h15.9v1.2h-15.9zM325.3 121.4h15.9v1.2h-15.9zM325.3 138.4h15.9v1.9h-15.9zM325.3 173.3h15.9v1.1h-15.9z"/>
<path fill="#d76165" d="M246.9 57.5h15.9v2.2h-15.9zM262.6 27.6h15.9v1.9h-15.9zM262.6 31.8h15.9v1.2h-15.9zM278.3 39.3h15.9v1.1h-15.9zM293.9 69.6h15.9v2.2h-15.9zM293.9 73.4h15.9v1.9h-15.9zM293.9 75h15.9v1.1h-15.9zM293.9 161h15.9v1.1h-15.9zM293.9 177.4h15.9v1.9h-15.9zM309.6 101.2h15.9v1.2h-15.9zM309.6 104.2h15.9v1.6h-15.9zM309.6 141.6h15.9v1.1h-15.9zM325.3 83.5h15.9v1.6h-15.9zM325.3 161h15.9v1.1h-15.9zM325.3 165.9h15.9v1.6h-15.9zM325.3 168.5h15.9v1.1h-15.9z"/>
<path fill="#d1494d" d="M246.9 63.5h15.9v1.2h-15.9zM293.9 75.8h15.9v1.2h-15.9zM293.9 79.9h15.9v1.9h-15.9zM293.9 179h15.9v1.2h-15.9zM325.3 79.9h15.9v1.9h-15.9zM325.3 160h15.9v1.2h-15.9z"/>
<path fill="#e7a1a3" d="M246.9 64.5h15.9v1.9h-15.9zM262.6 39.3h15.9v1.1h-15.9zM262.6 40.1h15.9v1.9h-15.9zM262.6 43.8h15.9v1.2h-15.9zM262.6 53.3h15.9v1.9h-15.9zM262.6 69.4h15.9v0.5h-15.9zM278.3 31.8h15.9v1.2h-15.9zM278.3 35.7h15.9v2.2h-15.9zM278.3 47.4h15.9v1.2h-15.9zM278.3 67.4h15.9v2.2h-15.9zM278.3 69.4h15.9v0.5h-15.9zM293.9 91.4h15.9v1.9h-15.9zM293.9 94.3h15.9v1.2h-15.9zM293.9 96.3h15.9v1.1h-15.9zM293.9 100.2h15.9v1.2h-15.9zM293.9 105.5h15.9v2.2h-15.9zM293.9 108.5h15.9v1.6h-15.9zM293.9 118.5h15.9v1.6h-15.9zM293.9 119.8h15.9v1.9h-15.9zM293.9 135.8h15.9v1.2h-15.9zM293.9 147.4h15.9v2.2h-15.9zM293.9 161.8h15.9v1.6h-15.9zM293.9 167.2h15.9v1.6h-15.9zM309.6 111.4h15.9v1.6h-15.9zM309.6 116.9h15.9v1.9h-15.9zM309.6 126.2h15.9v1.2h-15.9zM309.6 127.2h15.9v1.9h-15.9zM309.6 128.8h15.9v2.2h-15.9zM309.6 132.8h15.9v1.2h-15.9zM309.6 133.8h15.9v2.2h-15.9zM309.6 135.8h15.9v1.2h-15.9zM309.6 144.4h15.9v2.2h-15.9zM309.6 151h15.9v1.2h-15.9zM309.6 154.6h15.9v1.6h-15.9zM309.6 155.9h15.9v2.2h-15.9zM309.6 160h15.9v1.2h-15.9zM309.6 180h15.9v1.9h-15.9zM309.6 182.6h15.9v1.9h-15.9zM325.3 69.6h15.9v2.2h-15.9zM325.3 76.8h15.9v1.1h-15.9zM325.3 78.6h15.9v1.6h-15.9zM325.3 100.2h15.9v1.2h-15.9zM325.3 119.8h15.9v1.9h-15.9zM325.3 123.4h15.9v2.2h-15.9zM325.3 127.2h15.9v1.9h-15.9zM325.3 128.8h15.9v2.2h-15.9zM325.3 133.8h15.9v2.2h-15.9zM325.3 142.4h15.9v2.2h-15.9zM325.3 147.4h15.9v2.2h-15.9zM325.3 151h15.9v1.2h-15.9zM325.3 154.6h15.9v1.6h-15.9zM325.3 155.9h15.9v2.2h-15.9zM325.3 174.1h15.9v1.6h-15.9zM325.3 177.4h15.9v1.9h-15.9z"/>
<path fill="#b0bcda" d="M246.9 69.6h15.9v2.2h-15.9zM246.9 75.8h15.9v1.2h-15.9zM246.9 86.8h15.9v1.6h-15.9zM246.9 88.1h15.9v1.6h-15.9zM246.9 95.3h15.9v1.2h-15.9zM246.9 97.1h15.9v1.1h-15.9zM246.9 101.2h15.9v1.2h-15.9zM246.9 102.2h15.9v2.2h-15.9zM246.9 121.4h15.9v1.2h-15.9zM246.9 165.9h15.9v1.6h-15.9zM246.9 169.3h15.9v1.1h-15.9zM262.6 69.6h15.9v2.2h-15.9zM262.6 77.6h15.9v1.2h-15.9zM262.6 78.6h15.9v1.6h-15.9zM262.6 83.5h15.9v1.6h-15.9zM262.6 89.4h15.9v2.2h-15.9zM262.6 93h15.9v1.6h-15.9zM262.6 98.9h15.9v1.6h-15.9zM262.6 135.8h15.9v1.2h-15.9zM262.6 147.4h15.9v2.2h-15.9zM262.6 153.8h15.9v1.1h-15.9zM262.6 163.1h15.9v1.2h-15.9zM262.6 164.1h15.9v1.1h-15.9zM262.6 167.2h15.9v1.6h-15.9zM278.3 77.6h15.9v1.2h-15.9zM278.3 105.5h15.9v2.2h-15.9zM278.3 135.8h15.9v1.2h-15.9zM278.3 138.4h15.9v1.9h-15.9zM278.3 142.4h15.9v2.2h-15.9zM278.3 184.2h15.9v0.7h-15.9zM293.9 42.5h15.9v1.6h-15.9zM293.9 44.8h15.9v1.9h-15.9zM293.9 51.7h15.9v1.9h-15.9zM309.6 30.8h15.9v1.2h-15.9zM309.6 39.3h15.9v1.1h-15.9zM309.6 51.7h15.9v1.9h-15.9zM309.6 54.9h15.9v1.6h-15.9zM309.6 60.5h15.9v1.2h-15.9zM325.3 26.6h15.9v1.2h-15.9zM325.3 43.8h15.9v1.2h-15.9z"/>
<path fill="#96a5cd" d="M246.9 71.6h15.9v1.1h-15.9zM246.9 83.5h15.9v1.6h-15.9zM246.9 89.4h15.9v2.2h-15.9zM246.9 104.2h15.9v1.6h-15.9zM246.9 108.5h15.9v1.6h-15.9zM246.9 112.7h15.9v1.9h-15.9zM246.9 115.3h15.9v1.9h-15.9zM246.9 132.8h15.9v1.2h-15.9zM246.9 140h15.9v1.9h-15.9zM246.9 152h15.9v1.2h-15.9zM246.9 168.5h15.9v1.1h-15.9zM246.9 174.1h15.9v1.6h-15.9zM262.6 96.3h15.9v1.1h-15.9zM262.6 97.9h15.9v1.2h-15.9zM262.6 100.2h15.9v1.2h-15.9zM262.6 107.5h15.9v1.2h-15.9zM262.6 108.5h15.9v1.6h-15.9zM262.6 118.5h15.9v1.6h-15.9zM262.6 119.8h15.9v1.9h-15.9zM262.6 125.4h15.9v1.1h-15.9zM262.6 132.8h15.9v1.2h-15.9zM262.6 146.4h15.9v1.2h-15.9zM262.6 168.5h15.9v1.1h-15.9zM262.6 169.3h15.9v1.1h-15.9zM262.6 180h15.9v1.9h-15.9zM278.3 73.4h15.9v1.9h-15.9zM278.3 75h15.9v1.1h-15.9zM278.3 79.9h15.9v1.9h-15.9zM278.3 96.3h15.9v1.1h-15.9zM278.3 101.2h15.9v1.2h-15.9zM278.3 108.5h15.9v1.6h-15.9zM278.3 116.9h15.9v1.9h-15.9zM278.3 123.4h15.9v2.2h-15.9zM278.3 132.8h15.9v1.2h-15.9zM278.3 152h15.9v1.2h-15.9zM278.3 157.9h15.9v1.6h-15.9zM278.3 161.8h15.9v1.6h-15.9zM293.9 37.7h15.9v1.9h-15.9zM293.9 43.8h15.9v1.2h-15.9zM293.9 63.5h15.9v1.2h-15.9zM309.6 40.1h15.9v1.9h-15.9zM309.6 41.7h15.9v1.1h-15.9zM309.6 48.4h15.9v2.2h-15.9zM309.6 53.3h15.9v1.9h-15.9zM309.6 59.5h15.9v1.2h-15.9zM309.6 64.5h15.9v1.9h-15.9zM309.6 66.1h15.9v1.6h-15.9zM325.3 31.8h15.9v1.2h-15.9zM325.3 47.4h15.9v1.2h-15.9zM325.3 51.7h15.9v1.9h-15.9zM325.3 53.3h15.9v1.9h-15.9zM325.3 54.9h15.9v1.6h-15.9zM325.3 67.4h15.9v2.2h-15.9zM325.3 69.4h15.9v0.5h-15.9z"/>
<path fill="#899bc8" d="M246.9 72.4h15.9v1.2h-15.9zM246.9 73.4h15.9v1.9h-15.9zM246.9 78.6h15.9v1.6h-15.9zM246.9 94.3h15.9v1.2h-15.9zM246.9 96.3h15.9v1.1h-15.9zM246.9 97.9h15.9v1.2h-15.9zM246.9 98.9h15.9v1.6h-15.9zM246.9 105.5h15.9v2.2h-15.9zM246.9 111.4h15.9v1.6h-15.9zM246.9 116.9h15.9v1.9h-15.9zM246.9 118.5h15.9v1.6h-15.9zM246.9 142.4h15.9v2.2h-15.9zM246.9 149.4h15.9v1.9h-15.9zM246.9 173.3h15.9v1.1h-15.9zM262.6 75h15.9v1.1h-15.9zM262.6 97.1h15.9v1.1h-15.9zM262.6 116.9h15.9v1.9h-15.9zM262.6 123.4h15.9v2.2h-15.9zM262.6 126.2h15.9v1.2h-15.9zM262.6 133.8h15.9v2.2h-15.9zM262.6 144.4h15.9v2.2h-15.9zM262.6 154.6h15.9v1.6h-15.9zM262.6 171.7h15.9v1.9h-15.9zM262.6 174.1h15.9v1.6h-15.9zM278.3 72.4h15.9v1.2h-15.9zM278.3 75.8h15.9v1.2h-15.9zM278.3 78.6h15.9v1.6h-15.9zM278.3 84.8h15.9v2.2h-15.9zM278.3 91.4h15.9v1.9h-15.9zM278.3 95.3h15.9v1.2h-15.9zM278.3 98.9h15.9v1.6h-15.9zM278.3 102.2h15.9v2.2h-15.9zM278.3 115.3h15.9v1.9h-15.9zM278.3 140h15.9v1.9h-15.9zM278.3 144.4h15.9v2.2h-15.9zM278.3 147.4h15.9v2.2h-15.9zM278.3 153h15.9v1.1h-15.9zM278.3 153.8h15.9v1.1h-15.9zM278.3 164.1h15.9v1.1h-15.9zM278.3 165.9h15.9v1.6h-15.9zM293.9 39.3h15.9v1.1h-15.9zM293.9 64.5h15.9v1.9h-15.9zM309.6 47.4h15.9v1.2h-15.9zM309.6 57.5h15.9v2.2h-15.9zM309.6 63.5h15.9v1.2h-15.9zM325.3 46.4h15.9v1.2h-15.9zM325.3 56.2h15.9v1.6h-15.9zM325.3 57.5h15.9v2.2h-15.9z"/>
<path fill="#bec7e0" d="M246.9 75h15.9v1.1h-15.9zM246.9 79.9h15.9v1.9h-15.9zM246.9 84.8h15.9v2.2h-15.9zM246.9 109.8h15.9v1.9h-15.9zM246.9 138.4h15.9v1.9h-15.9zM246.9 144.4h15.9v2.2h-15.9zM246.9 155.9h15.9v2.2h-15.9zM246.9 159.2h15.9v1.1h-15.9zM246.9 161.8h15.9v1.6h-15.9zM246.9 171.7h15.9v1.9h-15.9zM246.9 179h15.9v1.2h-15.9zM246.9 181.6h15.9v1.2h-15.9zM262.6 73.4h15.9v1.9h-15.9zM262.6 95.3h15.9v1.2h-15.9zM262.6 115.3h15.9v1.9h-15.9zM262.6 121.4h15.9v1.2h-15.9zM262.6 153h15.9v1.1h-15.9zM278.3 83.5h15.9v1.6h-15.9zM278.3 109.8h15.9v1.9h-15.9zM278.3 121.4h15.9v1.2h-15.9zM278.3 122.4h15.9v1.2h-15.9zM278.3 126.2h15.9v1.2h-15.9zM278.3 171.7h15.9v1.9h-15.9zM278.3 173.3h15.9v1.1h-15.9zM278.3 175.4h15.9v2.2h-15.9zM278.3 180h15.9v1.9h-15.9zM293.9 57.5h15.9v2.2h-15.9zM309.6 34.4h15.9v1.6h-15.9zM325.3 27.6h15.9v1.9h-15.9zM325.3 29.2h15.9v1.9h-15.9z"/>
<path fill="#7d90c2" d="M246.9 76.8h15.9v1.1h-15.9zM246.9 91.4h15.9v1.9h-15.9zM246.9 107.5h15.9v1.2h-15.9zM246.9 130.8h15.9v2.2h-15.9zM246.9 141.6h15.9v1.1h-15.9zM262.6 76.8h15.9v1.1h-15.9zM262.6 104.2h15.9v1.6h-15.9zM262.6 105.5h15.9v2.2h-15.9zM262.6 112.7h15.9v1.9h-15.9zM262.6 114.3h15.9v1.2h-15.9zM262.6 138.4h15.9v1.9h-15.9zM262.6 140h15.9v1.9h-15.9zM278.3 97.1h15.9v1.1h-15.9zM278.3 104.2h15.9v1.6h-15.9zM278.3 112.7h15.9v1.9h-15.9zM278.3 114.3h15.9v1.2h-15.9zM278.3 119.8h15.9v1.9h-15.9zM278.3 128.8h15.9v2.2h-15.9zM278.3 159.2h15.9v1.1h-15.9zM278.3 160h15.9v1.2h-15.9zM293.9 26.6h15.9v1.2h-15.9zM293.9 29.2h15.9v1.9h-15.9zM293.9 31.8h15.9v1.2h-15.9zM293.9 60.5h15.9v1.2h-15.9zM293.9 61.5h15.9v2.2h-15.9zM309.6 43.8h15.9v1.2h-15.9zM309.6 46.4h15.9v1.2h-15.9zM309.6 50.4h15.9v1.6h-15.9zM309.6 61.5h15.9v2.2h-15.9zM325.3 41.7h15.9v1.1h-15.9zM325.3 59.5h15.9v1.2h-15.9zM325.3 61.5h15.9v2.2h-15.9z"/>
<path fill="#a3b0d4" d="M246.9 77.6h15.9v1.2h-15.9zM246.9 81.5h15.9v2.2h-15.9zM246.9 93h15.9v1.6h-15.9zM246.9 123.4h15.9v2.2h-15.9zM246.9 125.4h15.9v1.1h-15.9zM246.9 126.2h15.9v1.2h-15.9zM246.9 133.8h15.9v2.2h-15.9zM246.9 135.8h15.9v1.2h-15.9zM246.9 136.8h15.9v1.9h-15.9zM246.9 151h15.9v1.2h-15.9zM246.9 153.8h15.9v1.1h-15.9zM246.9 164.1h15.9v1.1h-15.9zM246.9 175.4h15.9v2.2h-15.9zM246.9 177.4h15.9v1.9h-15.9zM246.9 182.6h15.9v1.9h-15.9zM262.6 71.6h15.9v1.1h-15.9zM262.6 72.4h15.9v1.2h-15.9zM262.6 75.8h15.9v1.2h-15.9zM262.6 79.9h15.9v1.9h-15.9zM262.6 81.5h15.9v2.2h-15.9zM262.6 91.4h15.9v1.9h-15.9zM262.6 94.3h15.9v1.2h-15.9zM262.6 101.2h15.9v1.2h-15.9zM262.6 109.8h15.9v1.9h-15.9zM262.6 122.4h15.9v1.2h-15.9zM262.6 127.2h15.9v1.9h-15.9zM262.6 130.8h15.9v2.2h-15.9zM262.6 142.4h15.9v2.2h-15.9zM262.6 155.9h15.9v2.2h-15.9zM262.6 157.9h15.9v1.6h-15.9zM262.6 159.2h15.9v1.1h-15.9zM262.6 160h15.9v1.2h-15.9zM278.3 69.6h15.9v2.2h-15.9zM278.3 76.8h15.9v1.1h-15.9zM278.3 81.5h15.9v2.2h-15.9zM278.3 107.5h15.9v1.2h-15.9zM278.3 125.4h15.9v1.1h-15.9zM278.3 127.2h15.9v1.9h-15.9zM278.3 133.8h15.9v2.2h-15.9zM278.3 136.8h15.9v1.9h-15.9zM278.3 146.4h15.9v1.2h-15.9zM278.3 151h15.9v1.2h-15.9zM278.3 167.2h15.9v1.6h-15.9zM293.9 59.5h15.9v1.2h-15.9zM293.9 66.1h15.9v1.6h-15.9zM293.9 67.4h15.9v2.2h-15.9zM293.9 69.4h15.9v0.5h-15.9zM309.6 26.6h15.9v1.2h-15.9zM309.6 31.8h15.9v1.2h-15.9zM309.6 67.4h15.9v2.2h-15.9zM325.3 30.8h15.9v1.2h-15.9zM325.3 34.4h15.9v1.6h-15.9zM325.3 39.3h15.9v1.1h-15.9zM325.3 44.8h15.9v1.9h-15.9zM325.3 48.4h15.9v2.2h-15.9z"/>
<path fill="#7186bc" d="M246.9 100.2h15.9v1.2h-15.9zM246.9 119.8h15.9v1.9h-15.9zM246.9 127.2h15.9v1.9h-15.9zM246.9 146.4h15.9v1.2h-15.9zM262.6 111.4h15.9v1.6h-15.9zM262.6 181.6h15.9v1.2h-15.9zM262.6 184.2h15.9v0.7h-15.9zM278.3 86.8h15.9v1.6h-15.9zM278.3 88.1h15.9v1.6h-15.9zM278.3 94.3h15.9v1.2h-15.9zM278.3 97.9h15.9v1.2h-15.9zM278.3 100.2h15.9v1.2h-15.9zM278.3 118.5h15.9v1.6h-15.9zM278.3 141.6h15.9v1.1h-15.9zM278.3 149.4h15.9v1.9h-15.9zM278.3 154.6h15.9v1.6h-15.9zM278.3 161h15.9v1.1h-15.9zM278.3 163.1h15.9v1.2h-15.9zM293.9 34.4h15.9v1.6h-15.9zM293.9 40.1h15.9v1.9h-15.9zM325.3 32.8h15.9v1.9h-15.9zM325.3 42.5h15.9v1.6h-15.9zM325.3 60.5h15.9v1.2h-15.9zM325.3 63.5h15.9v1.2h-15.9z"/>
<path fill="#657bb6" d="M246.9 114.3h15.9v1.2h-15.9zM246.9 122.4h15.9v1.2h-15.9zM246.9 128.8h15.9v2.2h-15.9zM246.9 147.4h15.9v2.2h-15.9zM262.6 102.2h15.9v2.2h-15.9zM262.6 170.1h15.9v1.9h-15.9zM278.3 71.6h15.9v1.1h-15.9zM278.3 155.9h15.9v2.2h-15.9zM278.3 164.9h15.9v1.2h-15.9zM293.9 27.6h15.9v1.9h-15.9zM293.9 30.8h15.9v1.2h-15.9zM293.9 35.7h15.9v2.2h-15.9zM309.6 42.5h15.9v1.6h-15.9z"/>
<path fill="#dbe0ee" d="M246.9 153h15.9v1.1h-15.9zM246.9 184.2h15.9v0.7h-15.9zM262.6 164.9h15.9v1.2h-15.9zM309.6 165.9h15.9v1.6h-15.9z"/>
<path fill="#ccd3e7" d="M246.9 154.6h15.9v1.6h-15.9zM246.9 164.9h15.9v1.2h-15.9zM246.9 180h15.9v1.9h-15.9zM262.6 128.8h15.9v2.2h-15.9zM262.6 136.8h15.9v1.9h-15.9zM262.6 141.6h15.9v1.1h-15.9zM262.6 151h15.9v1.2h-15.9zM262.6 161h15.9v1.1h-15.9zM262.6 161.8h15.9v1.6h-15.9zM262.6 165.9h15.9v1.6h-15.9zM278.3 50.4h15.9v1.6h-15.9zM278.3 168.5h15.9v1.1h-15.9zM278.3 169.3h15.9v1.1h-15.9zM278.3 170.1h15.9v1.9h-15.9zM278.3 182.6h15.9v1.9h-15.9zM293.9 41.7h15.9v1.1h-15.9zM293.9 47.4h15.9v1.2h-15.9zM293.9 48.4h15.9v2.2h-15.9zM293.9 56.2h15.9v1.6h-15.9zM309.6 35.7h15.9v2.2h-15.9zM309.6 37.7h15.9v1.9h-15.9zM309.6 56.2h15.9v1.6h-15.9zM309.6 69.4h15.9v0.5h-15.9zM309.6 167.2h15.9v1.6h-15.9zM325.3 40.1h15.9v1.9h-15.9z"/>
<path fill="#faeaeb" d="M246.9 160h15.9v1.2h-15.9zM262.6 32.8h15.9v1.9h-15.9zM262.6 86.8h15.9v1.6h-15.9zM262.6 152h15.9v1.2h-15.9zM278.3 51.7h15.9v1.9h-15.9zM278.3 66.1h15.9v1.6h-15.9zM278.3 111.4h15.9v1.6h-15.9zM309.6 72.4h15.9v1.2h-15.9zM309.6 73.4h15.9v1.9h-15.9zM309.6 75h15.9v1.1h-15.9zM309.6 75.8h15.9v1.2h-15.9zM309.6 77.6h15.9v1.2h-15.9zM309.6 142.4h15.9v2.2h-15.9zM309.6 152h15.9v1.2h-15.9zM309.6 164.9h15.9v1.2h-15.9zM325.3 37.7h15.9v1.9h-15.9zM325.3 94.3h15.9v1.2h-15.9zM325.3 97.1h15.9v1.1h-15.9zM325.3 97.9h15.9v1.2h-15.9zM325.3 98.9h15.9v1.6h-15.9zM325.3 180h15.9v1.9h-15.9z"/>
<path fill="#ebeef6" d="M246.9 161h15.9v1.1h-15.9zM246.9 163.1h15.9v1.2h-15.9zM246.9 170.1h15.9v1.9h-15.9zM262.6 46.4h15.9v1.2h-15.9zM262.6 47.4h15.9v1.2h-15.9zM262.6 88.1h15.9v1.6h-15.9zM278.3 53.3h15.9v1.9h-15.9zM278.3 130.8h15.9v2.2h-15.9zM278.3 181.6h15.9v1.2h-15.9zM293.9 46.4h15.9v1.2h-15.9zM309.6 32.8h15.9v1.9h-15.9zM325.3 35.7h15.9v2.2h-15.9z"/>
<path fill="#ce3d42" d="M262.6 26.6h15.9v1.2h-15.9zM293.9 78.6h15.9v1.6h-15.9zM309.6 105.5h15.9v2.2h-15.9zM309.6 109.8h15.9v1.9h-15.9z"/>
<path fill="#eebcbe" d="M262.6 34.4h15.9v1.6h-15.9zM262.6 51.7h15.9v1.9h-15.9zM262.6 54.9h15.9v1.6h-15.9zM278.3 57.5h15.9v2.2h-15.9zM278.3 177.4h15.9v1.9h-15.9zM293.9 83.5h15.9v1.6h-15.9zM293.9 93h15.9v1.6h-15.9zM293.9 109.8h15.9v1.9h-15.9zM293.9 127.2h15.9v1.9h-15.9zM293.9 130.8h15.9v2.2h-15.9zM293.9 140h15.9v1.9h-15.9zM293.9 153.8h15.9v1.1h-15.9zM293.9 157.9h15.9v1.6h-15.9zM309.6 88.1h15.9v1.6h-15.9zM309.6 157.9h15.9v1.6h-15.9zM309.6 159.2h15.9v1.1h-15.9zM309.6 163.1h15.9v1.2h-15.9zM325.3 73.4h15.9v1.9h-15.9zM325.3 84.8h15.9v2.2h-15.9zM325.3 86.8h15.9v1.6h-15.9zM325.3 91.4h15.9v1.9h-15.9zM325.3 101.2h15.9v1.2h-15.9zM325.3 104.2h15.9v1.6h-15.9zM325.3 114.3h15.9v1.2h-15.9zM325.3 122.4h15.9v1.2h-15.9zM325.3 125.4h15.9v1.1h-15.9z"/>
<path fill="#f2cbcc" d="M262.6 48.4h15.9v2.2h-15.9zM262.6 63.5h15.9v1.2h-15.9zM262.6 66.1h15.9v1.6h-15.9zM262.6 84.8h15.9v2.2h-15.9zM278.3 54.9h15.9v1.6h-15.9zM278.3 56.2h15.9v1.6h-15.9zM278.3 64.5h15.9v1.9h-15.9zM278.3 179h15.9v1.2h-15.9zM293.9 86.8h15.9v1.6h-15.9zM293.9 107.5h15.9v1.2h-15.9zM293.9 126.2h15.9v1.2h-15.9zM293.9 154.6h15.9v1.6h-15.9zM293.9 159.2h15.9v1.1h-15.9zM309.6 69.6h15.9v2.2h-15.9zM309.6 71.6h15.9v1.1h-15.9zM309.6 78.6h15.9v1.6h-15.9zM309.6 79.9h15.9v1.9h-15.9zM309.6 83.5h15.9v1.6h-15.9zM309.6 114.3h15.9v1.2h-15.9zM309.6 136.8h15.9v1.9h-15.9zM309.6 147.4h15.9v2.2h-15.9zM309.6 174.1h15.9v1.6h-15.9zM325.3 72.4h15.9v1.2h-15.9zM325.3 77.6h15.9v1.2h-15.9zM325.3 89.4h15.9v2.2h-15.9zM325.3 95.3h15.9v1.2h-15.9zM325.3 102.2h15.9v2.2h-15.9zM325.3 108.5h15.9v1.6h-15.9zM325.3 130.8h15.9v2.2h-15.9zM325.3 152h15.9v1.2h-15.9zM325.3 159.2h15.9v1.1h-15.9zM325.3 184.2h15.9v0.7h-15.9z"/>
<path fill="#4d67ab" d="M262.6 173.3h15.9v1.1h-15.9zM262.6 177.4h15.9v1.9h-15.9zM262.6 182.6h15.9v1.9h-15.9z"/>
<path fill="#425da6" d="M262.6 175.4h15.9v2.2h-15.9zM293.9 32.8h15.9v1.9h-15.9z"/>
<path fill="#5971b1" d="M262.6 179h15.9v1.2h-15.9zM278.3 89.4h15.9v2.2h-15.9zM278.3 93h15.9v1.6h-15.9zM309.6 44.8h15.9v1.9h-15.9zM325.3 50.4h15.9v1.6h-15.9zM325.3 64.5h15.9v1.9h-15.9zM325.3 66.1h15.9v1.6h-15.9z"/>
<path fill="#d45559" d="M278.3 43.8h15.9v1.2h-15.9zM309.6 107.5h15.9v1.2h-15.9zM325.3 132.8h15.9v1.2h-15.9zM325.3 153.8h15.9v1.1h-15.9zM325.3 164.9h15.9v1.2h-15.9z"/>
<path fill="#f6dadb" d="M278.3 59.5h15.9v1.2h-15.9zM278.3 61.5h15.9v2.2h-15.9zM293.9 88.1h15.9v1.6h-15.9zM309.6 138.4h15.9v1.9h-15.9zM309.6 153h15.9v1.1h-15.9zM309.6 161h15.9v1.1h-15.9zM325.3 75.8h15.9v1.2h-15.9zM325.3 93h15.9v1.6h-15.9zM325.3 144.4h15.9v2.2h-15.9zM325.3 181.6h15.9v1.2h-15.9z"/>
<path fill="#cb3236" d="M293.9 77.6h15.9v1.2h-15.9z"/>
<path fill="#c8262b" d="M325.3 81.5h15.9v2.2h-15.9z"/>
<line x1="246.9" y1="69.8" x2="341" y2="69.8" stroke="#fff" stroke-width="0.5" stroke-opacity="0.8"/>
<defs><linearGradient id="hmg" x1="0" x2="1" y1="0" y2="0"><stop offset="0" stop-color="#2b4a9b"/><stop offset="0.25" stop-color="#8294c6"/><stop offset="0.5" stop-color="#ffffff"/><stop offset="0.75" stop-color="#e28a8c"/><stop offset="1" stop-color="#c8262b"/></linearGradient></defs>
<rect x="248.1" y="188.2" width="92" height="5.6" fill="url(#hmg)" stroke="none" stroke-width="0" />
<text x="247.6" y="203.5" font-size="8.7" font-weight="bold" fill="#231815" text-anchor="middle" >-2</text>
<text x="270.7" y="203.5" font-size="8.7" font-weight="bold" fill="#231815" text-anchor="middle" >-1</text>
<text x="293.8" y="203.5" font-size="8.7" font-weight="bold" fill="#231815" text-anchor="middle" >0</text>
<text x="316.9" y="203.5" font-size="8.7" font-weight="bold" fill="#231815" text-anchor="middle" >1</text>
<text x="340" y="203.5" font-size="8.7" font-weight="bold" fill="#231815" text-anchor="middle" >2</text>
<path d="M243.8 27.7H246.9M243.8 28.8H246.9M243.8 27.7H243.1V28.8H243.8M245.9 29.6H246.9M245.9 30.9H246.9M245.9 29.6H244.7V30.9H245.9M246 32.6H246.9M246 33.8H246.9M246 32.6H244.7V33.8H246M244.7 30.3H243.1V33.2H244.7M243.1 28.3H241.7V31.7H243.1M245.4 35.1H246.9M245.4 36.6H246.9M245.4 35.1H243.3V36.6H245.4M246.2 37.9H246.9M246.2 39.2H246.9M246.2 37.9H245.2V39.2H246.2M245.2 41H246.9M245.2 38.6H243.3V41H245.2M243.3 35.8H242.5V39.8H243.3M243.6 43H246.9M245.4 44.9H246.9M245.4 46.7H246.9M245.4 44.9H243.6V46.7H245.4M243.6 43H242.5V45.8H243.6M242.5 37.8H241.7V44.4H242.5M241.7 30H239.7V41.1H241.7M243.3 48.3H246.9M245.3 49.6H246.9M245.3 50.9H246.9M245.3 49.6H243.3V50.9H245.3M243.3 48.3H241.4V50.3H243.3M243.4 52.5H246.9M243.4 54.5H246.9M243.4 52.5H242.1V54.5H243.4M242.1 56.6H246.9M242.1 53.5H241.4V56.6H242.1M241.4 49.3H240.4V55H241.4M243.3 58.3H246.9M243.3 59.5H246.9M243.3 58.3H242.5V59.5H243.3M242.5 60.6H246.9M242.5 58.9H241.7V60.6H242.5M244.4 62H246.9M245.8 63.3H246.9M245.8 64.6H246.9M245.8 63.3H244.4V64.6H245.8M244.4 62H243.7V63.9H244.4M244.5 66H246.9M246.2 67.3H246.9M246.2 68.6H246.9M246.2 67.3H244.5V68.6H246.2M244.5 66H243.7V67.9H244.5M243.7 63H241.7V67H243.7M241.7 59.8H240.4V65H241.7M240.4 52.2H239.7V62.4H240.4M239.7 35.5H238.5V57.3H239.7M245.8 70.8H246.9M245.8 72.1H246.9M245.8 70.8H245V72.1H245.8M246.2 74H246.9M246.2 76.9H246.9M246.2 74H245V76.9H246.2M245 71.4H243.5V75.4H245M246.2 80.1H246.9M246.2 82.6H246.9M246.2 80.1H244.3V82.6H246.2M244.3 84.7H246.9M244.3 81.3H243.5V84.7H244.3M243.5 73.4H241.4V83H243.5M244.1 86.7H246.9M245.7 88.6H246.9M245.7 90.5H246.9M245.7 88.6H244.1V90.5H245.7M244.1 86.7H242.9V89.6H244.1M246.2 91.9H246.9M246.2 93H246.9M246.2 91.9H245.7V93H246.2M246.2 94.2H246.9M246.2 95.7H246.9M246.2 94.2H245.7V95.7H246.2M245.7 92.5H243.7V95H245.7M244.3 97.3H246.9M244.3 99H246.9M244.3 97.3H243.7V99H244.3M243.7 93.7H242.9V98.1H243.7M242.9 88.1H241.4V95.9H242.9M241.4 78.2H240.5V92H241.4M245.3 100.3H246.9M246.2 101.2H246.9M246.2 102.3H246.9M246.2 101.2H245.3V102.3H246.2M245.3 100.3H243.7V101.8H245.3M245.5 103.6H246.9M246.2 105H246.9M246.2 106.3H246.9M246.2 105H245.5V106.3H246.2M245.5 103.6H243.7V105.6H245.5M243.7 101H242.6V104.6H243.7M246.2 107.3H246.9M246.2 108.6H246.9M246.2 107.3H244.8V108.6H246.2M244.8 110.3H246.9M244.8 107.9H243.6V110.3H244.8M244.7 112H246.9M244.7 113.6H246.9M244.7 112H243.6V113.6H244.7M243.6 109.1H242.6V112.8H243.6M242.6 102.8H241.6V111H242.6M244.7 115.5H246.9M244.7 117.2H246.9M244.7 115.5H243.7V117.2H244.7M245.8 118.2H246.9M245.8 119.5H246.9M245.8 118.2H243.7V119.5H245.8M243.7 116.4H242.8V118.8H243.7M244.9 120.9H246.9M244.9 122.5H246.9M244.9 120.9H242.8V122.5H244.9M242.8 117.6H241.6V121.7H242.8M241.6 106.9H240.5V119.7H241.6M240.5 85.1H239.7V113.3H240.5M246.2 124.1H246.9M246.2 125.5H246.9M246.2 124.1H245.4V125.5H246.2M246.2 126.8H246.9M246.2 127.9H246.9M246.2 126.8H245.4V127.9H246.2M245.4 124.8H243.2V127.4H245.4M245.4 129.3H246.9M245.4 130.6H246.9M245.4 129.3H244.7V130.6H245.4M246.2 132.4H246.9M246.2 135.1H246.9M246.2 132.4H244.7V135.1H246.2M244.7 129.9H243.2V133.7H244.7M243.2 126.1H242V131.8H243.2M246.2 138.7H246.9M246.2 142.1H246.9M246.2 138.7H245.9V142.1H246.2M246.2 144.1H246.9M246.2 146.5H246.9M246.2 144.1H245.9V146.5H246.2M245.9 140.4H244.1V145.3H245.9M245.7 148.9H246.9M245.7 150.5H246.9M245.7 148.9H245V150.5H245.7M245.9 152.1H246.9M245.9 153.6H246.9M245.9 152.1H245V153.6H245.9M245 149.7H244.1V152.9H245M244.1 142.8H243.2V151.3H244.1M245.6 155.1H246.9M245.6 156.8H246.9M245.6 155.1H244.1V156.8H245.6M246.2 158.7H246.9M246.2 160.5H246.9M246.2 158.7H245V160.5H246.2M246.2 162.5H246.9M246.2 164.7H246.9M246.2 162.5H245V164.7H246.2M245 159.6H244.1V163.6H245M244.1 156H243.2V161.6H244.1M243.2 147.1H242V158.8H243.2M242 129H241.3V152.9H242M246.2 166.8H246.9M246.2 168.7H246.9M246.2 166.8H245V168.7H246.2M245 170.6H246.9M245 167.7H243.5V170.6H245M246.2 172.6H246.9M246.2 175H246.9M246.2 172.6H245.7V175H246.2M246.2 177.4H246.9M246.2 179.3H246.9M246.2 177.4H245.7V179.3H246.2M245.7 173.8H244.2V178.4H245.7M246.2 180.7H246.9M246.2 182H246.9M246.2 180.7H245.5V182H246.2M245.5 183.5H246.9M245.5 181.3H244.2V183.5H245.5M244.2 176.1H243.5V182.4H244.2M243.5 169.2H241.3V179.2H243.5M241.3 140.9H239.7V174.2H241.3M239.7 99.2H238.5V157.6H239.7M238.5 46.4H236V128.4H238.5" stroke="#111" stroke-width="0.6" fill="none"/>
<text x="354.5" y="12.8" font-size="16.5" font-weight="bold" fill="#231815" text-anchor="start" >C</text>
<text x="557.5" y="19.1" font-size="8.8" font-weight="bold" fill="#231815" text-anchor="middle" >Up-regulated in shPRSS22 group</text>
<text x="557.5" y="98.3" font-size="8.8" font-weight="bold" fill="#231815" text-anchor="middle" >Down-regulated in shPRSS22 group</text>
<rect x="497.7" y="25.2" width="119.5" height="5.3" fill="#6b2a78" stroke="none" stroke-width="0" />
<text x="489.6" y="30.3" font-size="8.1" font-weight="normal" fill="#e8232d" text-anchor="end" stroke="#e8232d" stroke-width="0.35">Ferroptosis</text>
<rect x="497.7" y="31.7" width="79.9" height="5.3" fill="#ae1f7d" stroke="none" stroke-width="0" />
<text x="489.6" y="36.8" font-size="8.1" font-weight="normal" fill="#4d4d4d" text-anchor="end" stroke="#4d4d4d" stroke-width="0.3">Steroid hormone biosynthesis</text>
<rect x="497.7" y="38.2" width="71.1" height="5.3" fill="#d5459a" stroke="none" stroke-width="0" />
<text x="489.6" y="43.4" font-size="8.1" font-weight="normal" fill="#4d4d4d" text-anchor="end" stroke="#4d4d4d" stroke-width="0.3">Glutathione metabolism</text>
<rect x="497.7" y="44.7" width="74.2" height="5.3" fill="#dc5297" stroke="none" stroke-width="0" />
<text x="489.6" y="49.9" font-size="8.1" font-weight="normal" fill="#4d4d4d" text-anchor="end" stroke="#4d4d4d" stroke-width="0.3">ABC transporters</text>
<rect x="497.7" y="51.3" width="25.3" height="5.3" fill="#ef9db3" stroke="none" stroke-width="0" />
<text x="489.6" y="56.4" font-size="8.1" font-weight="normal" fill="#4d4d4d" text-anchor="end" stroke="#4d4d4d" stroke-width="0.3">Cytokine-cytokine receptor interaction</text>
<rect x="497.7" y="57.8" width="92.9" height="5.3" fill="#ee95ae" stroke="none" stroke-width="0" />
<text x="489.6" y="63" font-size="8.1" font-weight="normal" fill="#4d4d4d" text-anchor="end" stroke="#4d4d4d" stroke-width="0.3">Cobalamin transport and metabolism</text>
<rect x="497.7" y="64.3" width="46.5" height="5.3" fill="#f0a5b8" stroke="none" stroke-width="0" />
<text x="489.6" y="69.5" font-size="8.1" font-weight="normal" fill="#4d4d4d" text-anchor="end" stroke="#4d4d4d" stroke-width="0.3">N-Glycan biosynthesis</text>
<rect x="497.7" y="70.9" width="32" height="5.3" fill="#f4b9c3" stroke="none" stroke-width="0" />
<text x="489.6" y="76" font-size="8.1" font-weight="normal" fill="#4d4d4d" text-anchor="end" stroke="#4d4d4d" stroke-width="0.3">Mitophagy - animal</text>
<path d="M492.4 24.2V76.6H622.3" stroke="#111" stroke-width="1.5" fill="none"/>
<text x="497.7" y="86.2" font-size="8.7" font-weight="bold" fill="#2a2a2a" text-anchor="middle" >0</text>
<text x="530.4" y="86.2" font-size="8.7" font-weight="bold" fill="#2a2a2a" text-anchor="middle" >3</text>
<text x="563.1" y="86.2" font-size="8.7" font-weight="bold" fill="#2a2a2a" text-anchor="middle" >6</text>
<text x="595.8" y="86.2" font-size="8.7" font-weight="bold" fill="#2a2a2a" text-anchor="middle" >9</text>
<rect x="497.7" y="105.2" width="53.9" height="5.2" fill="#14479a" stroke="none" stroke-width="0" />
<text x="489.6" y="110.3" font-size="8.1" font-weight="normal" fill="#4d4d4d" text-anchor="end" stroke="#4d4d4d" stroke-width="0.3">FoxO signaling pathway</text>
<rect x="497.7" y="111.7" width="119.6" height="5.2" fill="#0d3d92" stroke="none" stroke-width="0" />
<text x="489.6" y="116.8" font-size="8.1" font-weight="normal" fill="#4d4d4d" text-anchor="end" stroke="#4d4d4d" stroke-width="0.3">GPI-anchor biosynthesis</text>
<rect x="497.7" y="118.2" width="56.9" height="5.2" fill="#2f7bba" stroke="none" stroke-width="0" />
<text x="489.6" y="123.3" font-size="8.1" font-weight="normal" fill="#4d4d4d" text-anchor="end" stroke="#4d4d4d" stroke-width="0.3">Protein digestion and absorption</text>
<rect x="497.7" y="124.7" width="99.8" height="5.2" fill="#2a72b5" stroke="none" stroke-width="0" />
<text x="489.6" y="129.8" font-size="8.1" font-weight="normal" fill="#4d4d4d" text-anchor="end" stroke="#4d4d4d" stroke-width="0.3">Mucin type O-glycan biosynthesis</text>
<rect x="497.7" y="131.2" width="42.4" height="5.2" fill="#3a82bd" stroke="none" stroke-width="0" />
<text x="489.6" y="136.3" font-size="8.1" font-weight="normal" fill="#4d4d4d" text-anchor="end" stroke="#4d4d4d" stroke-width="0.3">Transcriptional misregulation</text>
<rect x="497.7" y="137.7" width="36.2" height="5.2" fill="#3f86bf" stroke="none" stroke-width="0" />
<text x="489.6" y="142.8" font-size="8.1" font-weight="normal" fill="#4d4d4d" text-anchor="end" stroke="#4d4d4d" stroke-width="0.3">MAPK signaling pathway</text>
<rect x="497.7" y="144.1" width="45.8" height="5.2" fill="#4a90c4" stroke="none" stroke-width="0" />
<text x="489.6" y="149.2" font-size="8.1" font-weight="normal" fill="#4d4d4d" text-anchor="end" stroke="#4d4d4d" stroke-width="0.3">Hippo signaling pathway</text>
<rect x="497.7" y="150.6" width="50.2" height="5.2" fill="#5c9fcb" stroke="none" stroke-width="0" />
<text x="489.6" y="155.7" font-size="8.1" font-weight="normal" fill="#4d4d4d" text-anchor="end" stroke="#4d4d4d" stroke-width="0.3">TNF signaling pathway</text>
<rect x="497.7" y="157.1" width="41.4" height="5.2" fill="#83b9d8" stroke="none" stroke-width="0" />
<text x="489.6" y="162.2" font-size="8.1" font-weight="normal" fill="#4d4d4d" text-anchor="end" stroke="#4d4d4d" stroke-width="0.3">Wnt signaling pathway</text>
<rect x="497.7" y="163.6" width="51.6" height="5.2" fill="#bcd3e9" stroke="none" stroke-width="0" />
<text x="489.6" y="168.7" font-size="8.1" font-weight="normal" fill="#4d4d4d" text-anchor="end" stroke="#4d4d4d" stroke-width="0.3">Adherens junction</text>
<rect x="497.7" y="170.1" width="41.9" height="5.2" fill="#d3e0f0" stroke="none" stroke-width="0" />
<text x="489.6" y="175.2" font-size="8.1" font-weight="normal" fill="#4d4d4d" text-anchor="end" stroke="#4d4d4d" stroke-width="0.3">Osteoclast differentiation</text>
<rect x="497.7" y="176.6" width="58" height="5.2" fill="#ebeff9" stroke="none" stroke-width="0" />
<text x="489.6" y="181.7" font-size="8.1" font-weight="normal" fill="#4d4d4d" text-anchor="end" stroke="#4d4d4d" stroke-width="0.3">Notch signaling pathway</text>
<path d="M492.4 104V184.1H622.3" stroke="#111" stroke-width="1.5" fill="none"/>
<text x="497.7" y="192.3" font-size="8.7" font-weight="bold" fill="#2a2a2a" text-anchor="middle" >0</text>
<text x="526.2" y="192.3" font-size="8.7" font-weight="bold" fill="#2a2a2a" text-anchor="middle" >2</text>
<text x="554.7" y="192.3" font-size="8.7" font-weight="bold" fill="#2a2a2a" text-anchor="middle" >4</text>
<text x="583.3" y="192.3" font-size="8.7" font-weight="bold" fill="#2a2a2a" text-anchor="middle" >6</text>
<text x="611.8" y="192.3" font-size="8.7" font-weight="bold" fill="#2a2a2a" text-anchor="middle" >8</text>
<text x="563" y="203.9" font-size="9" font-weight="bold" fill="#231815" text-anchor="middle" >Fold Enrichment</text>
<defs><linearGradient id="upg" x1="0" x2="0" y1="0" y2="1"><stop offset="0" stop-color="#6b2a78"/><stop offset="0.3" stop-color="#b3207e"/><stop offset="0.55" stop-color="#e05a9b"/><stop offset="0.8" stop-color="#f2a7b8"/><stop offset="1" stop-color="#fde6dd"/></linearGradient><linearGradient id="dng" x1="0" x2="0" y1="0" y2="1"><stop offset="0" stop-color="#0d3d92"/><stop offset="0.35" stop-color="#2f7bba"/><stop offset="0.65" stop-color="#74b0d4"/><stop offset="0.85" stop-color="#c9dbee"/><stop offset="1" stop-color="#f3f5fc"/></linearGradient></defs>
<text x="622.6" y="29.5" font-size="7.7" font-weight="bold" fill="#111">-Log<tspan font-size="4.4" dy="1.3">10</tspan><tspan dy="-1.3">(</tspan><tspan font-style="italic">p</tspan>-value)</text>
<rect x="628" y="32.7" width="8.8" height="43.8" fill="url(#upg)" stroke="none" stroke-width="0" />
<line x1="628" y1="40.6" x2="629.8" y2="40.6" stroke="#fff" stroke-width="0.4" />
<line x1="635" y1="40.6" x2="636.8" y2="40.6" stroke="#fff" stroke-width="0.4" />
<text x="639.8" y="43.4" font-size="8.4" font-weight="normal" fill="#222" text-anchor="start" stroke="#222" stroke-width="0.25">4</text>
<line x1="628" y1="49.4" x2="629.8" y2="49.4" stroke="#fff" stroke-width="0.4" />
<line x1="635" y1="49.4" x2="636.8" y2="49.4" stroke="#fff" stroke-width="0.4" />
<text x="639.8" y="52.2" font-size="8.4" font-weight="normal" fill="#222" text-anchor="start" stroke="#222" stroke-width="0.25">3</text>
<line x1="628" y1="58.4" x2="629.8" y2="58.4" stroke="#fff" stroke-width="0.4" />
<line x1="635" y1="58.4" x2="636.8" y2="58.4" stroke="#fff" stroke-width="0.4" />
<text x="639.8" y="61.2" font-size="8.4" font-weight="normal" fill="#222" text-anchor="start" stroke="#222" stroke-width="0.25">2</text>
<line x1="628" y1="67.2" x2="629.8" y2="67.2" stroke="#fff" stroke-width="0.4" />
<line x1="635" y1="67.2" x2="636.8" y2="67.2" stroke="#fff" stroke-width="0.4" />
<text x="639.8" y="70" font-size="8.4" font-weight="normal" fill="#222" text-anchor="start" stroke="#222" stroke-width="0.25">1</text>
<text x="622.6" y="116.3" font-size="7.7" font-weight="bold" fill="#111">-Log<tspan font-size="4.4" dy="1.3">10</tspan><tspan dy="-1.3">(</tspan><tspan font-style="italic">p</tspan>-value)</text>
<rect x="628" y="121.2" width="8.8" height="41.8" fill="url(#dng)" stroke="none" stroke-width="0" />
<line x1="628" y1="125.9" x2="629.8" y2="125.9" stroke="#fff" stroke-width="0.4" />
<line x1="635" y1="125.9" x2="636.8" y2="125.9" stroke="#fff" stroke-width="0.4" />
<text x="639.8" y="128.7" font-size="8.4" font-weight="normal" fill="#222" text-anchor="start" stroke="#222" stroke-width="0.25">2.2</text>
<line x1="628" y1="135.8" x2="629.8" y2="135.8" stroke="#fff" stroke-width="0.4" />
<line x1="635" y1="135.8" x2="636.8" y2="135.8" stroke="#fff" stroke-width="0.4" />
<text x="639.8" y="138.6" font-size="8.4" font-weight="normal" fill="#222" text-anchor="start" stroke="#222" stroke-width="0.25">2.0</text>
<line x1="628" y1="146" x2="629.8" y2="146" stroke="#fff" stroke-width="0.4" />
<line x1="635" y1="146" x2="636.8" y2="146" stroke="#fff" stroke-width="0.4" />
<text x="639.8" y="148.8" font-size="8.4" font-weight="normal" fill="#222" text-anchor="start" stroke="#222" stroke-width="0.25">1.8</text>
<line x1="628" y1="156" x2="629.8" y2="156" stroke="#fff" stroke-width="0.4" />
<line x1="635" y1="156" x2="636.8" y2="156" stroke="#fff" stroke-width="0.4" />
<text x="639.8" y="158.8" font-size="8.4" font-weight="normal" fill="#222" text-anchor="start" stroke="#222" stroke-width="0.25">1.6</text>
<text x="0" y="232.8" font-size="16.5" font-weight="bold" fill="#231815" text-anchor="start" >D</text>
<text x="86.4" y="245.4" font-size="8.7" font-weight="bold" fill="#231815" text-anchor="middle" >Ferroptosis</text>
<defs><linearGradient id="gp1" gradientUnits="userSpaceOnUse" x1="26.4" x2="146.7" y1="0" y2="0"><stop offset="0" stop-color="#f3b6d4"/><stop offset="0.3" stop-color="#f8d6e6"/><stop offset="0.5" stop-color="#fbeff5"/><stop offset="0.6" stop-color="#e9ebf6"/><stop offset="1" stop-color="#b9c0e3"/></linearGradient><linearGradient id="gc1" gradientUnits="userSpaceOnUse" x1="26.4" x2="146.7" y1="0" y2="0"><stop offset="0" stop-color="#b81e80"/><stop offset="0.35" stop-color="#a3298c"/><stop offset="0.65" stop-color="#6f3c9c"/><stop offset="0.85" stop-color="#34409a"/><stop offset="1" stop-color="#173f97"/></linearGradient><linearGradient id="gb1" gradientUnits="userSpaceOnUse" x1="26.4" x2="146.7" y1="0" y2="0"><stop offset="0" stop-color="#b3247f"/><stop offset="0.2" stop-color="#c04a9a"/><stop offset="0.42" stop-color="#e3add0"/><stop offset="0.57" stop-color="#f4eef5"/><stop offset="0.7" stop-color="#c6d3ea"/><stop offset="0.85" stop-color="#7f9fd1"/><stop offset="1" stop-color="#5a82c4"/></linearGradient></defs>
<path d="M26.4 351.2L26.4 335.1L28.4 340L30.4 343.1L32.4 345.1L34.4 346.4L36.4 347.3L38.4 347.9L40.4 348.4L42.4 348.7L44.4 349L46.4 349.2L48.5 349.4L50.5 349.6L52.5 349.7L54.5 349.9L56.5 350L58.5 350.1L60.5 350.2L62.5 350.3L64.5 350.4L66.5 350.5L68.5 350.5L70.5 350.6L72.5 350.7L74.5 350.7L76.5 350.8L78.5 350.8L80.5 350.8L82.5 351.5L84.5 351.5L86.5 351.6L88.6 351.6L90.6 351.7L92.6 351.7L94.6 351.8L96.6 351.8L98.6 351.9L100.6 352L102.6 352L104.6 352.1L106.6 352.2L108.6 352.3L110.6 352.3L112.6 352.4L114.6 352.5L116.6 352.6L118.6 352.7L120.6 352.8L122.6 352.9L124.6 353L126.6 353.1L128.7 353.2L130.7 353.3L132.7 353.5L134.7 353.7L136.7 353.9L138.7 354.2L140.7 354.8L142.7 355.7L144.7 357.5L146.7 360.8L146.7 351.2Z" fill="url(#gp1)"/>
<rect x="26.4" y="323.6" width="120.3" height="7" fill="url(#gb1)" stroke="none" stroke-width="0" />
<rect x="96.3" y="323.6" width="1.6" height="7" fill="#fff" stroke="none" stroke-width="0" fill-opacity="0.24"/>
<rect x="137.6" y="323.6" width="2.4" height="7" fill="#fff" stroke="none" stroke-width="0" fill-opacity="0.19"/>
<rect x="52.2" y="323.6" width="1.7" height="7" fill="#fff" stroke="none" stroke-width="0" fill-opacity="0.13"/>
<rect x="109.7" y="323.6" width="1.6" height="7" fill="#fff" stroke="none" stroke-width="0" fill-opacity="0.25"/>
<rect x="34.9" y="323.6" width="1.6" height="7" fill="#fff" stroke="none" stroke-width="0" fill-opacity="0.10"/>
<rect x="119" y="323.6" width="2.1" height="7" fill="#fff" stroke="none" stroke-width="0" fill-opacity="0.16"/>
<rect x="65.6" y="323.6" width="2.9" height="7" fill="#fff" stroke="none" stroke-width="0" fill-opacity="0.15"/>
<rect x="51.5" y="323.6" width="2.3" height="7" fill="#fff" stroke="none" stroke-width="0" fill-opacity="0.13"/>
<rect x="39.7" y="323.6" width="3.5" height="7" fill="#fff" stroke="none" stroke-width="0" fill-opacity="0.20"/>
<rect x="106.4" y="323.6" width="3.6" height="7" fill="#fff" stroke="none" stroke-width="0" fill-opacity="0.15"/>
<rect x="72" y="323.6" width="2.3" height="7" fill="#fff" stroke="none" stroke-width="0" fill-opacity="0.15"/>
<rect x="106.9" y="323.6" width="1" height="7" fill="#fff" stroke="none" stroke-width="0" fill-opacity="0.16"/>
<rect x="90.8" y="323.6" width="2" height="7" fill="#fff" stroke="none" stroke-width="0" fill-opacity="0.08"/>
<rect x="111.2" y="323.6" width="1" height="7" fill="#fff" stroke="none" stroke-width="0" fill-opacity="0.18"/>
<rect x="44.9" y="323.6" width="1.1" height="7" fill="#fff" stroke="none" stroke-width="0" fill-opacity="0.11"/>
<rect x="34.3" y="323.6" width="1.5" height="7" fill="#fff" stroke="none" stroke-width="0" fill-opacity="0.20"/>
<rect x="114" y="323.6" width="2.1" height="7" fill="#fff" stroke="none" stroke-width="0" fill-opacity="0.19"/>
<rect x="83.6" y="323.6" width="2.5" height="7" fill="#fff" stroke="none" stroke-width="0" fill-opacity="0.23"/>
<rect x="63.8" y="323.6" width="3.6" height="7" fill="#fff" stroke="none" stroke-width="0" fill-opacity="0.20"/>
<rect x="108.6" y="323.6" width="1" height="7" fill="#fff" stroke="none" stroke-width="0" fill-opacity="0.09"/>
<rect x="30.2" y="323.6" width="2" height="7" fill="#fff" stroke="none" stroke-width="0" fill-opacity="0.24"/>
<rect x="131.7" y="323.6" width="3.5" height="7" fill="#fff" stroke="none" stroke-width="0" fill-opacity="0.10"/>
<rect x="111.3" y="323.6" width="3.3" height="7" fill="#fff" stroke="none" stroke-width="0" fill-opacity="0.22"/>
<rect x="121.7" y="323.6" width="1.4" height="7" fill="#fff" stroke="none" stroke-width="0" fill-opacity="0.11"/>
<rect x="121.7" y="323.6" width="3.2" height="7" fill="#fff" stroke="none" stroke-width="0" fill-opacity="0.23"/>
<rect x="80.1" y="323.6" width="3.7" height="7" fill="#fff" stroke="none" stroke-width="0" fill-opacity="0.10"/>
<rect x="141.5" y="323.6" width="3.7" height="7" fill="#fff" stroke="none" stroke-width="0" fill-opacity="0.14"/>
<rect x="34.5" y="323.6" width="2.6" height="7" fill="#fff" stroke="none" stroke-width="0" fill-opacity="0.20"/>
<path d="M27.6 308.2V323.6M28.3 308.2V323.6M29 308.2V323.6M29.7 308.2V323.6M30.4 308.2V323.6M31.1 308.2V323.6M32 308.2V323.6M32.9 308.2V323.6M33.9 308.2V323.6M34.8 308.2V323.6M37.4 308.2V323.6M41.1 308.2V323.6M42 308.2V323.6M43.2 308.2V323.6M46 308.2V323.6M47 308.2V323.6M47.9 308.2V323.6M49.1 308.2V323.6M58.4 308.2V323.6M61.2 308.2V323.6M63.1 308.2V323.6M70.1 308.2V323.6M71 308.2V323.6M71.9 308.2V323.6M72.9 308.2V323.6M73.8 308.2V323.6M75 308.2V323.6M76.2 308.2V323.6M77.1 308.2V323.6M80.6 308.2V323.6M86.4 308.2V323.6M91.1 308.2V323.6M93.4 308.2V323.6M102.8 308.2V323.6M104.2 308.2V323.6M105.6 308.2V323.6M107.5 308.2V323.6M109.3 308.2V323.6M110.7 308.2V323.6M112.1 308.2V323.6M116.8 308.2V323.6M118.4 308.2V323.6M120.3 308.2V323.6M127.3 308.2V323.6M143 308.2V323.6" stroke="#000" stroke-width="1.0" fill="none"/>
<line x1="26.4" y1="302.6" x2="146.7" y2="302.6" stroke="#000" stroke-width="1.5" stroke-dasharray="9.8 10.3" stroke-dashoffset="-1"/>
<line x1="26.4" y1="351.2" x2="146.7" y2="351.2" stroke="#000" stroke-width="1.5" stroke-dasharray="9.8 10.3" stroke-dashoffset="-1"/>
<path d="M26.4 301.4L26.9 285.1L27.6 278L29.2 271L30.4 265.2L32 264L33.4 258.2L35 253L37.4 254.2L38.8 255.1L40.2 256.6L41.7 256.2L43.2 255.2L45.6 253L47.4 254.2L49 253L50.8 254.3L52.6 255.2L54 256L55.5 257.3L57 258.3L58.4 259.4L59.9 260.4L61.3 261.4L62.8 261.7L64.2 262.9L65.7 263.5L67.1 265.2L68.5 265.8L70 266.9L71.4 267.6L72.8 267.4L74.2 268.2L75.6 268.9L77 269.2L78.4 269.9L79.8 271.5L81.2 272.4L82.6 272.5L84 273.9L85.3 274.2L86.7 275.5L88 276.6L89.4 276.8L90.7 277.4L92.1 278.4L93.4 279.2L94.7 279.5L96.1 280.5L97.4 281.5L98.8 282.3L100.1 282.8L101.5 283.6L102.8 284.6L104.2 284.9L105.6 285.7L107 286.1L108.4 286.4L109.8 287.4L111.2 288.3L112.6 288.6L114 289.2L115.4 289.4L116.8 290.2L118.4 290.6L119.9 290.5L121.5 290.2L123 290.9L124.4 292.1L125.8 293.5L127.3 294.4L128.8 295.5L130.2 296.5L131.7 297L133.1 297.9L134.7 299.4L136.2 300.4L137.8 301.4L139.6 302.4L141.3 303.8L143.7 301L145.2 301.9L146.7 302.6" stroke="url(#gc1)" stroke-width="1.35" fill="none" stroke-linejoin="round"/>
<rect x="26.4" y="250.7" width="120.3" height="56.1" fill="none" stroke="#1a1a1a" stroke-width="1.2" />
<rect x="26.4" y="306.8" width="120.3" height="23.8" fill="none" stroke="#1a1a1a" stroke-width="1.2" />
<rect x="26.4" y="330.6" width="120.3" height="34.6" fill="none" stroke="#1a1a1a" stroke-width="1.2" />
<text x="24.4" y="255.8" font-size="6.4" font-weight="normal" fill="#4d4d4d" text-anchor="end" >0.6</text>
<text x="24.4" y="272.4" font-size="6.4" font-weight="normal" fill="#4d4d4d" text-anchor="end" >0.4</text>
<text x="24.4" y="288.9" font-size="6.4" font-weight="normal" fill="#4d4d4d" text-anchor="end" >0.2</text>
<text x="24.4" y="305.4" font-size="6.4" font-weight="normal" fill="#4d4d4d" text-anchor="end" >0.0</text>
<text x="24.4" y="343.4" font-size="6.4" font-weight="normal" fill="#4d4d4d" text-anchor="end" >2</text>
<text x="24.4" y="353.5" font-size="6.4" font-weight="normal" fill="#4d4d4d" text-anchor="end" >0</text>
<text x="24.4" y="363.8" font-size="6.4" font-weight="normal" fill="#4d4d4d" text-anchor="end" >-2</text>
<text x="61.2" y="372.3" font-size="6.4" font-weight="normal" fill="#4d4d4d" text-anchor="middle" >5000</text>
<text x="95.8" y="372.3" font-size="6.4" font-weight="normal" fill="#4d4d4d" text-anchor="middle" >10000</text>
<text x="130.2" y="372.3" font-size="6.4" font-weight="normal" fill="#4d4d4d" text-anchor="middle" >15000</text>
<text x="86.5" y="379.4" font-size="6.9" font-weight="normal" fill="#222" text-anchor="middle" textLength="66" lengthAdjust="spacingAndGlyphs">Rank in Ordered Dataset</text>
<text transform="translate(11.6,279.2) rotate(-90)" font-size="6.9" fill="#222" text-anchor="middle" textLength="71.5" lengthAdjust="spacingAndGlyphs">Running Enrichment Score</text>
<text transform="translate(11.6,350.5) rotate(-90)" font-size="6.9" fill="#222" text-anchor="middle" textLength="26.8" lengthAdjust="spacingAndGlyphs">Ranked List</text>
<text x="142.5" y="260.5" font-size="7.4" font-weight="bold" fill="#4d4d4d" text-anchor="end" >NES: 2.17</text>
<text x="142.5" y="269.3" font-size="7.4" font-weight="bold" fill="#4d4d4d" text-anchor="end">Ajusted <tspan font-style="italic">p</tspan>: 9.4e-07</text>
<text x="27.4" y="336.6" font-size="5" font-weight="bold" fill="#b3247f" textLength="76.5" lengthAdjust="spacingAndGlyphs">'shPRSS22'(positively correlated)</text>
<text x="144.9" y="362.3" font-size="5" font-weight="bold" fill="#2a5caa" text-anchor="end" textLength="67.5" lengthAdjust="spacingAndGlyphs">'shCtrl'(negatively correlated)</text>
<text x="153.3" y="232.8" font-size="16.5" font-weight="bold" fill="#231815" text-anchor="start" >E</text>
<text x="237.5" y="245.4" font-size="8.7" font-weight="bold" fill="#231815" text-anchor="middle" >Reactive Oxygen Species Pathway</text>
<defs><linearGradient id="gp2" gradientUnits="userSpaceOnUse" x1="178.9" x2="298" y1="0" y2="0"><stop offset="0" stop-color="#f3b6d4"/><stop offset="0.3" stop-color="#f8d6e6"/><stop offset="0.5" stop-color="#fbeff5"/><stop offset="0.6" stop-color="#e9ebf6"/><stop offset="1" stop-color="#b9c0e3"/></linearGradient><linearGradient id="gc2" gradientUnits="userSpaceOnUse" x1="178.9" x2="298" y1="0" y2="0"><stop offset="0" stop-color="#b81e80"/><stop offset="0.35" stop-color="#a3298c"/><stop offset="0.65" stop-color="#6f3c9c"/><stop offset="0.85" stop-color="#34409a"/><stop offset="1" stop-color="#173f97"/></linearGradient><linearGradient id="gb2" gradientUnits="userSpaceOnUse" x1="178.9" x2="298" y1="0" y2="0"><stop offset="0" stop-color="#b3247f"/><stop offset="0.2" stop-color="#c04a9a"/><stop offset="0.42" stop-color="#e3add0"/><stop offset="0.57" stop-color="#f4eef5"/><stop offset="0.7" stop-color="#c6d3ea"/><stop offset="0.85" stop-color="#7f9fd1"/><stop offset="1" stop-color="#5a82c4"/></linearGradient></defs>
<path d="M178.9 351.2L178.9 335.1L180.9 340L182.9 343.1L184.9 345.1L186.8 346.4L188.8 347.3L190.8 347.9L192.8 348.4L194.8 348.7L196.8 349L198.8 349.2L200.7 349.4L202.7 349.6L204.7 349.7L206.7 349.9L208.7 350L210.7 350.1L212.6 350.2L214.6 350.3L216.6 350.4L218.6 350.5L220.6 350.5L222.6 350.6L224.6 350.7L226.5 350.7L228.5 350.8L230.5 350.8L232.5 350.8L234.5 351.5L236.5 351.5L238.4 351.6L240.4 351.6L242.4 351.7L244.4 351.7L246.4 351.8L248.4 351.8L250.4 351.9L252.3 352L254.3 352L256.3 352.1L258.3 352.2L260.3 352.3L262.3 352.3L264.3 352.4L266.2 352.5L268.2 352.6L270.2 352.7L272.2 352.8L274.2 352.9L276.2 353L278.1 353.1L280.1 353.2L282.1 353.3L284.1 353.5L286.1 353.7L288.1 353.9L290.1 354.2L292 354.8L294 355.7L296 357.5L298 360.8L298 351.2Z" fill="url(#gp2)"/>
<rect x="178.9" y="323.6" width="119.1" height="7" fill="url(#gb2)" stroke="none" stroke-width="0" />
<rect x="196.5" y="323.6" width="2.8" height="7" fill="#fff" stroke="none" stroke-width="0" fill-opacity="0.11"/>
<rect x="263.8" y="323.6" width="2.8" height="7" fill="#fff" stroke="none" stroke-width="0" fill-opacity="0.15"/>
<rect x="252.4" y="323.6" width="2.7" height="7" fill="#fff" stroke="none" stroke-width="0" fill-opacity="0.09"/>
<rect x="242" y="323.6" width="2.9" height="7" fill="#fff" stroke="none" stroke-width="0" fill-opacity="0.17"/>
<rect x="283.6" y="323.6" width="3.2" height="7" fill="#fff" stroke="none" stroke-width="0" fill-opacity="0.14"/>
<rect x="205.9" y="323.6" width="1.4" height="7" fill="#fff" stroke="none" stroke-width="0" fill-opacity="0.22"/>
<rect x="261.1" y="323.6" width="2.8" height="7" fill="#fff" stroke="none" stroke-width="0" fill-opacity="0.16"/>
<rect x="238.6" y="323.6" width="1.7" height="7" fill="#fff" stroke="none" stroke-width="0" fill-opacity="0.17"/>
<rect x="196.2" y="323.6" width="2.9" height="7" fill="#fff" stroke="none" stroke-width="0" fill-opacity="0.19"/>
<rect x="258.7" y="323.6" width="1.7" height="7" fill="#fff" stroke="none" stroke-width="0" fill-opacity="0.10"/>
<rect x="218.6" y="323.6" width="3.1" height="7" fill="#fff" stroke="none" stroke-width="0" fill-opacity="0.17"/>
<rect x="267.9" y="323.6" width="2.3" height="7" fill="#fff" stroke="none" stroke-width="0" fill-opacity="0.15"/>
<rect x="287" y="323.6" width="1.5" height="7" fill="#fff" stroke="none" stroke-width="0" fill-opacity="0.12"/>
<rect x="249" y="323.6" width="2.9" height="7" fill="#fff" stroke="none" stroke-width="0" fill-opacity="0.15"/>
<rect x="245.4" y="323.6" width="2.3" height="7" fill="#fff" stroke="none" stroke-width="0" fill-opacity="0.19"/>
<rect x="284.8" y="323.6" width="3.5" height="7" fill="#fff" stroke="none" stroke-width="0" fill-opacity="0.19"/>
<rect x="234.9" y="323.6" width="3.8" height="7" fill="#fff" stroke="none" stroke-width="0" fill-opacity="0.16"/>
<rect x="253.4" y="323.6" width="3.6" height="7" fill="#fff" stroke="none" stroke-width="0" fill-opacity="0.20"/>
<rect x="225.4" y="323.6" width="3.2" height="7" fill="#fff" stroke="none" stroke-width="0" fill-opacity="0.18"/>
<rect x="287.9" y="323.6" width="2.9" height="7" fill="#fff" stroke="none" stroke-width="0" fill-opacity="0.17"/>
<rect x="294.9" y="323.6" width="2.6" height="7" fill="#fff" stroke="none" stroke-width="0" fill-opacity="0.15"/>
<rect x="290.6" y="323.6" width="3.8" height="7" fill="#fff" stroke="none" stroke-width="0" fill-opacity="0.11"/>
<rect x="187.5" y="323.6" width="3.6" height="7" fill="#fff" stroke="none" stroke-width="0" fill-opacity="0.23"/>
<rect x="224.7" y="323.6" width="1.8" height="7" fill="#fff" stroke="none" stroke-width="0" fill-opacity="0.20"/>
<rect x="290.9" y="323.6" width="1.6" height="7" fill="#fff" stroke="none" stroke-width="0" fill-opacity="0.16"/>
<rect x="257.8" y="323.6" width="1.7" height="7" fill="#fff" stroke="none" stroke-width="0" fill-opacity="0.15"/>
<rect x="195.9" y="323.6" width="2.4" height="7" fill="#fff" stroke="none" stroke-width="0" fill-opacity="0.12"/>
<rect x="188.5" y="323.6" width="2.2" height="7" fill="#fff" stroke="none" stroke-width="0" fill-opacity="0.11"/>
<path d="M180 308.2V323.6M182.4 308.2V323.6M185.9 308.2V323.6M189.4 308.2V323.6M192.9 308.2V323.6M197.6 308.2V323.6M202.2 308.2V323.6M203.2 308.2V323.6M204.1 308.2V323.6M205 308.2V323.6M206 308.2V323.6M206.9 308.2V323.6M207.8 308.2V323.6M208.8 308.2V323.6M213.9 308.2V323.6M215.1 308.2V323.6M222.1 308.2V323.6M225.6 308.2V323.6M229.1 308.2V323.6M230.3 308.2V323.6M231.4 308.2V323.6M234.9 308.2V323.6M236.1 308.2V323.6M237.3 308.2V323.6M243.1 308.2V323.6M248.9 308.2V323.6M250.1 308.2V323.6M251.3 308.2V323.6M257.1 308.2V323.6M261.8 308.2V323.6M266.5 308.2V323.6M268.1 308.2V323.6M269.7 308.2V323.6M271.4 308.2V323.6M273 308.2V323.6M284 308.2V323.6M294.5 308.2V323.6" stroke="#000" stroke-width="1.0" fill="none"/>
<line x1="178.9" y1="303.6" x2="298" y2="303.6" stroke="#000" stroke-width="1.5" stroke-dasharray="9.8 10.3" stroke-dashoffset="-1"/>
<line x1="178.9" y1="351.2" x2="298" y2="351.2" stroke="#000" stroke-width="1.5" stroke-dasharray="9.8 10.3" stroke-dashoffset="-1"/>
<path d="M178.9 303.8L179.3 292L180 275.7L181.2 261.7L182.4 258.2L184 253.5L185.5 255.1L187 255.9L188.8 257.5L190.6 258.2L191.7 257L193.4 258.2L195.2 260.1L196.8 260.5L198.3 261.7L199.7 262.9L201.1 263.4L202.9 262.9L204.6 260.2L206.2 257L207.7 255.2L209.2 253.1L210.9 254.7L212.7 256.6L214.4 256L216.2 255.2L217.9 256.8L219.7 258.2L221.2 259L222.6 259.4L224.1 260.5L225.6 261.3L227.1 262.1L228.5 263.3L229.9 264.4L231.4 264.8L232.8 266.1L234.2 266.6L235.6 267.4L237 268.1L238.4 269.2L239.7 269.8L241.1 270.8L242.4 272.2L243.8 273L245.1 274.1L246.5 275.6L247.8 276.2L249.2 277.3L250.6 278.4L252 279.2L253.4 280.1L254.8 281.6L256.2 282.4L257.6 283.1L259 284.4L260.4 285.7L261.8 286.2L263.4 287.4L264.9 288L266.5 289.3L267.9 289.8L269.4 289.8L270.9 289.8L272.3 289.7L273.9 291.3L275.4 292.3L277 293.3L278.4 294.5L279.9 295.1L281.4 296.7L282.8 297.2L285.2 296.3L286.7 298L288.3 298.7L289.8 300.3L291.2 302L292.6 303.3L294.5 301L296.2 302.6L298 303.8" stroke="url(#gc2)" stroke-width="1.35" fill="none" stroke-linejoin="round"/>
<rect x="178.9" y="250.7" width="119.1" height="56.1" fill="none" stroke="#1a1a1a" stroke-width="1.2" />
<rect x="178.9" y="306.8" width="119.1" height="23.8" fill="none" stroke="#1a1a1a" stroke-width="1.2" />
<rect x="178.9" y="330.6" width="119.1" height="34.6" fill="none" stroke="#1a1a1a" stroke-width="1.2" />
<text x="176.9" y="256.5" font-size="6.4" font-weight="normal" fill="#4d4d4d" text-anchor="end" >0.5</text>
<text x="176.9" y="266.4" font-size="6.4" font-weight="normal" fill="#4d4d4d" text-anchor="end" >0.4</text>
<text x="176.9" y="276.3" font-size="6.4" font-weight="normal" fill="#4d4d4d" text-anchor="end" >0.3</text>
<text x="176.9" y="286.2" font-size="6.4" font-weight="normal" fill="#4d4d4d" text-anchor="end" >0.2</text>
<text x="176.9" y="296.2" font-size="6.4" font-weight="normal" fill="#4d4d4d" text-anchor="end" >0.1</text>
<text x="176.9" y="306.1" font-size="6.4" font-weight="normal" fill="#4d4d4d" text-anchor="end" >0.0</text>
<text x="176.9" y="343.4" font-size="6.4" font-weight="normal" fill="#4d4d4d" text-anchor="end" >2</text>
<text x="176.9" y="353.5" font-size="6.4" font-weight="normal" fill="#4d4d4d" text-anchor="end" >0</text>
<text x="176.9" y="363.8" font-size="6.4" font-weight="normal" fill="#4d4d4d" text-anchor="end" >-2</text>
<text x="212.3" y="372.3" font-size="6.4" font-weight="normal" fill="#4d4d4d" text-anchor="middle" >5000</text>
<text x="246.8" y="372.3" font-size="6.4" font-weight="normal" fill="#4d4d4d" text-anchor="middle" >10000</text>
<text x="281.3" y="372.3" font-size="6.4" font-weight="normal" fill="#4d4d4d" text-anchor="middle" >15000</text>
<text x="238.4" y="379.4" font-size="6.9" font-weight="normal" fill="#222" text-anchor="middle" textLength="66" lengthAdjust="spacingAndGlyphs">Rank in Ordered Dataset</text>
<text transform="translate(162.5,279.2) rotate(-90)" font-size="6.9" fill="#222" text-anchor="middle" textLength="71.5" lengthAdjust="spacingAndGlyphs">Running Enrichment Score</text>
<text transform="translate(162.5,350.5) rotate(-90)" font-size="6.9" fill="#222" text-anchor="middle" textLength="26.8" lengthAdjust="spacingAndGlyphs">Ranked List</text>
<text x="293.8" y="260.5" font-size="7.4" font-weight="bold" fill="#4d4d4d" text-anchor="end" >NES: 1.72</text>
<text x="293.8" y="269.3" font-size="7.4" font-weight="bold" fill="#4d4d4d" text-anchor="end">Ajusted <tspan font-style="italic">p</tspan>: 0.006</text>
<text x="179.9" y="336.6" font-size="5" font-weight="bold" fill="#b3247f" textLength="76.5" lengthAdjust="spacingAndGlyphs">'shPRSS22'(positively correlated)</text>
<text x="296.2" y="362.3" font-size="5" font-weight="bold" fill="#2a5caa" text-anchor="end" textLength="67.5" lengthAdjust="spacingAndGlyphs">'shCtrl'(negatively correlated)</text>
<text x="305.3" y="232.8" font-size="16.5" font-weight="bold" fill="#231815" text-anchor="start" >F</text>
<text x="390" y="245.4" font-size="8.7" font-weight="bold" fill="#231815" text-anchor="middle" >Heme Metabolism</text>
<defs><linearGradient id="gp3" gradientUnits="userSpaceOnUse" x1="330" x2="449.9" y1="0" y2="0"><stop offset="0" stop-color="#f3b6d4"/><stop offset="0.3" stop-color="#f8d6e6"/><stop offset="0.5" stop-color="#fbeff5"/><stop offset="0.6" stop-color="#e9ebf6"/><stop offset="1" stop-color="#b9c0e3"/></linearGradient><linearGradient id="gc3" gradientUnits="userSpaceOnUse" x1="330" x2="449.9" y1="0" y2="0"><stop offset="0" stop-color="#b81e80"/><stop offset="0.35" stop-color="#a3298c"/><stop offset="0.65" stop-color="#6f3c9c"/><stop offset="0.85" stop-color="#34409a"/><stop offset="1" stop-color="#173f97"/></linearGradient><linearGradient id="gb3" gradientUnits="userSpaceOnUse" x1="330" x2="449.9" y1="0" y2="0"><stop offset="0" stop-color="#b3247f"/><stop offset="0.2" stop-color="#c04a9a"/><stop offset="0.42" stop-color="#e3add0"/><stop offset="0.57" stop-color="#f4eef5"/><stop offset="0.7" stop-color="#c6d3ea"/><stop offset="0.85" stop-color="#7f9fd1"/><stop offset="1" stop-color="#5a82c4"/></linearGradient></defs>
<path d="M330 351.2L330 335.1L332 340L334 343.1L336 345.1L338 346.4L340 347.3L342 347.9L344 348.4L346 348.7L348 349L350 349.2L352 349.4L354 349.6L356 349.7L358 349.9L360 350L362 350.1L364 350.2L366 350.3L368 350.4L370 350.5L372 350.5L374 350.6L376 350.7L378 350.7L380 350.8L382 350.8L384 350.8L386 351.5L388 351.5L389.9 351.6L391.9 351.6L393.9 351.7L395.9 351.7L397.9 351.8L399.9 351.8L401.9 351.9L403.9 352L405.9 352L407.9 352.1L409.9 352.2L411.9 352.3L413.9 352.3L415.9 352.4L417.9 352.5L419.9 352.6L421.9 352.7L423.9 352.8L425.9 352.9L427.9 353L429.9 353.1L431.9 353.2L433.9 353.3L435.9 353.5L437.9 353.7L439.9 353.9L441.9 354.2L443.9 354.8L445.9 355.7L447.9 357.5L449.9 360.8L449.9 351.2Z" fill="url(#gp3)"/>
<rect x="330" y="323.6" width="119.9" height="7" fill="url(#gb3)" stroke="none" stroke-width="0" />
<rect x="447.4" y="323.6" width="2.4" height="7" fill="#fff" stroke="none" stroke-width="0" fill-opacity="0.20"/>
<rect x="418.1" y="323.6" width="1.6" height="7" fill="#fff" stroke="none" stroke-width="0" fill-opacity="0.09"/>
<rect x="402.3" y="323.6" width="1.4" height="7" fill="#fff" stroke="none" stroke-width="0" fill-opacity="0.14"/>
<rect x="436.7" y="323.6" width="3.6" height="7" fill="#fff" stroke="none" stroke-width="0" fill-opacity="0.10"/>
<rect x="339.9" y="323.6" width="1.7" height="7" fill="#fff" stroke="none" stroke-width="0" fill-opacity="0.22"/>
<rect x="333" y="323.6" width="1.7" height="7" fill="#fff" stroke="none" stroke-width="0" fill-opacity="0.10"/>
<rect x="345.3" y="323.6" width="2.6" height="7" fill="#fff" stroke="none" stroke-width="0" fill-opacity="0.11"/>
<rect x="379.1" y="323.6" width="3.2" height="7" fill="#fff" stroke="none" stroke-width="0" fill-opacity="0.20"/>
<rect x="379.8" y="323.6" width="3.4" height="7" fill="#fff" stroke="none" stroke-width="0" fill-opacity="0.18"/>
<rect x="429.2" y="323.6" width="1.7" height="7" fill="#fff" stroke="none" stroke-width="0" fill-opacity="0.14"/>
<rect x="399.6" y="323.6" width="3.8" height="7" fill="#fff" stroke="none" stroke-width="0" fill-opacity="0.19"/>
<rect x="386.9" y="323.6" width="1.8" height="7" fill="#fff" stroke="none" stroke-width="0" fill-opacity="0.13"/>
<rect x="355.9" y="323.6" width="4" height="7" fill="#fff" stroke="none" stroke-width="0" fill-opacity="0.23"/>
<rect x="437.3" y="323.6" width="2.6" height="7" fill="#fff" stroke="none" stroke-width="0" fill-opacity="0.20"/>
<rect x="365.5" y="323.6" width="2.4" height="7" fill="#fff" stroke="none" stroke-width="0" fill-opacity="0.10"/>
<rect x="380.4" y="323.6" width="1.8" height="7" fill="#fff" stroke="none" stroke-width="0" fill-opacity="0.10"/>
<rect x="440.2" y="323.6" width="1.3" height="7" fill="#fff" stroke="none" stroke-width="0" fill-opacity="0.22"/>
<rect x="413.9" y="323.6" width="1.3" height="7" fill="#fff" stroke="none" stroke-width="0" fill-opacity="0.16"/>
<rect x="449.4" y="323.6" width="0.5" height="7" fill="#fff" stroke="none" stroke-width="0" fill-opacity="0.18"/>
<rect x="422.5" y="323.6" width="3.1" height="7" fill="#fff" stroke="none" stroke-width="0" fill-opacity="0.13"/>
<rect x="395.9" y="323.6" width="2.8" height="7" fill="#fff" stroke="none" stroke-width="0" fill-opacity="0.15"/>
<rect x="428.2" y="323.6" width="2.3" height="7" fill="#fff" stroke="none" stroke-width="0" fill-opacity="0.21"/>
<rect x="337.8" y="323.6" width="2.3" height="7" fill="#fff" stroke="none" stroke-width="0" fill-opacity="0.09"/>
<rect x="407.6" y="323.6" width="3.6" height="7" fill="#fff" stroke="none" stroke-width="0" fill-opacity="0.17"/>
<rect x="397.8" y="323.6" width="2.9" height="7" fill="#fff" stroke="none" stroke-width="0" fill-opacity="0.12"/>
<rect x="376.3" y="323.6" width="2.7" height="7" fill="#fff" stroke="none" stroke-width="0" fill-opacity="0.19"/>
<rect x="375.6" y="323.6" width="2.4" height="7" fill="#fff" stroke="none" stroke-width="0" fill-opacity="0.14"/>
<rect x="396.5" y="323.6" width="3" height="7" fill="#fff" stroke="none" stroke-width="0" fill-opacity="0.14"/>
<path d="M330.5 308.2V323.6M331.3 308.2V323.6M331.8 308.2V323.6M332.5 308.2V323.6M333.1 308.2V323.6M334 308.2V323.6M334.8 308.2V323.6M335.7 308.2V323.6M336.3 308.2V323.6M337 308.2V323.6M337.5 308.2V323.6M338.1 308.2V323.6M338.9 308.2V323.6M339.4 308.2V323.6M340 308.2V323.6M340.8 308.2V323.6M341.6 308.2V323.6M342.2 308.2V323.6M343 308.2V323.6M343.9 308.2V323.6M344.4 308.2V323.6M345.3 308.2V323.6M346.1 308.2V323.6M346.8 308.2V323.6M347.4 308.2V323.6M348.4 308.2V323.6M349 308.2V323.6M349.6 308.2V323.6M350.2 308.2V323.6M351.1 308.2V323.6M351.9 308.2V323.6M352.8 308.2V323.6M353.6 308.2V323.6M354.4 308.2V323.6M355.3 308.2V323.6M356 308.2V323.6M356.8 308.2V323.6M357.7 308.2V323.6M358.5 308.2V323.6M359.4 308.2V323.6M361.6 308.2V323.6M362.2 308.2V323.6M362.9 308.2V323.6M363.4 308.2V323.6M364 308.2V323.6M364.6 308.2V323.6M365.2 308.2V323.6M366 308.2V323.6M366.7 308.2V323.6M368.7 308.2V323.6M369.6 308.2V323.6M370.4 308.2V323.6M371.2 308.2V323.6M371.8 308.2V323.6M372.7 308.2V323.6M373.3 308.2V323.6M374 308.2V323.6M374.9 308.2V323.6M376.5 308.2V323.6M377.4 308.2V323.6M378.3 308.2V323.6M379.1 308.2V323.6M379.8 308.2V323.6M380.3 308.2V323.6M381 308.2V323.6M381.6 308.2V323.6M382.2 308.2V323.6M383.2 308.2V323.6M384.1 308.2V323.6M384.7 308.2V323.6M385.6 308.2V323.6M386.3 308.2V323.6M387.2 308.2V323.6M387.9 308.2V323.6M391.4 308.2V323.6M392.3 308.2V323.6M393 308.2V323.6M393.6 308.2V323.6M395.4 308.2V323.6M395.9 308.2V323.6M396.5 308.2V323.6M397 308.2V323.6M399.4 308.2V323.6M400 308.2V323.6M400.7 308.2V323.6M401.7 308.2V323.6M402.4 308.2V323.6M403.4 308.2V323.6M404.3 308.2V323.6M404.8 308.2V323.6M405.7 308.2V323.6M406.5 308.2V323.6M407.3 308.2V323.6M407.9 308.2V323.6M408.7 308.2V323.6M409.3 308.2V323.6M410 308.2V323.6M412.6 308.2V323.6M413.2 308.2V323.6M414 308.2V323.6M414.6 308.2V323.6M415.5 308.2V323.6M419.3 308.2V323.6M420.2 308.2V323.6M420.9 308.2V323.6M421.8 308.2V323.6M422.6 308.2V323.6M423.1 308.2V323.6M423.8 308.2V323.6M424.3 308.2V323.6M425.2 308.2V323.6M430.1 308.2V323.6M430.7 308.2V323.6M431.4 308.2V323.6M432 308.2V323.6M432.8 308.2V323.6M433.7 308.2V323.6M434.3 308.2V323.6M435 308.2V323.6M435.8 308.2V323.6M436.4 308.2V323.6M438.7 308.2V323.6M439.4 308.2V323.6M440.3 308.2V323.6M444.8 308.2V323.6M445.4 308.2V323.6M446 308.2V323.6M446.7 308.2V323.6M448.1 308.2V323.6M448.7 308.2V323.6" stroke="#000" stroke-width="1.0" fill="none"/>
<line x1="330" y1="296.1" x2="449.9" y2="296.1" stroke="#000" stroke-width="1.5" stroke-dasharray="9.8 10.3" stroke-dashoffset="-1"/>
<line x1="330" y1="351.2" x2="449.9" y2="351.2" stroke="#000" stroke-width="1.5" stroke-dasharray="9.8 10.3" stroke-dashoffset="-1"/>
<path d="M330 295.6L331.2 289.7L333.5 280.4L335.2 276.2L337 272.2L338.2 267.6L340.6 265.2L342.9 260.6L345.2 257.5L346.9 256.2L348.7 255.4L350.3 255L351.8 254.5L353.4 254.2L354.8 254.1L356.3 254L357.8 253.3L359.2 253.5L360.9 254.6L362.7 256.6L364.4 257.5L366.2 257.7L367.9 256.9L369.7 256.6L371.3 257.3L372.8 258.9L374.4 259.4L376 260L377.5 261L379.1 261.3L380.6 262.3L382 263.4L383.4 263.9L384.9 265.2L386.4 266.8L387.9 268.5L389.3 269.6L390.8 271.1L392.2 272.9L393.6 274.5L395 275.6L396.4 277.8L397.8 279.2L399.2 280.7L400.6 281.8L402 283L403.4 285.1L404.8 286.2L406.2 287.4L407.6 288.8L409 290.1L410.4 291.1L411.8 292.1L413.4 292.9L414.9 292.8L416.5 293.3L418 294.3L419.6 294.8L421.1 295.6L422.7 297L424.2 297.9L425.8 298.6L427.4 299.3L428.9 300.5L430.5 301.9L431.9 302.1L433.4 303.3L434.9 303.3L436.3 303.8L438.1 302.2L439.8 300.3L441.6 299.3L443.3 298.6L445.1 299.8L446.8 301L449.2 294.4" stroke="url(#gc3)" stroke-width="1.35" fill="none" stroke-linejoin="round"/>
<rect x="330" y="250.7" width="119.9" height="56.1" fill="none" stroke="#1a1a1a" stroke-width="1.2" />
<rect x="330" y="306.8" width="119.9" height="23.8" fill="none" stroke="#1a1a1a" stroke-width="1.2" />
<rect x="330" y="330.6" width="119.9" height="34.6" fill="none" stroke="#1a1a1a" stroke-width="1.2" />
<text x="328" y="258.9" font-size="6.4" font-weight="normal" fill="#4d4d4d" text-anchor="end" >0.3</text>
<text x="328" y="272.1" font-size="6.4" font-weight="normal" fill="#4d4d4d" text-anchor="end" >0.2</text>
<text x="328" y="285.3" font-size="6.4" font-weight="normal" fill="#4d4d4d" text-anchor="end" >0.1</text>
<text x="328" y="298.4" font-size="6.4" font-weight="normal" fill="#4d4d4d" text-anchor="end" >0.0</text>
<text x="328" y="343.4" font-size="6.4" font-weight="normal" fill="#4d4d4d" text-anchor="end" >2</text>
<text x="328" y="353.5" font-size="6.4" font-weight="normal" fill="#4d4d4d" text-anchor="end" >0</text>
<text x="328" y="363.8" font-size="6.4" font-weight="normal" fill="#4d4d4d" text-anchor="end" >-2</text>
<text x="364.4" y="372.3" font-size="6.4" font-weight="normal" fill="#4d4d4d" text-anchor="middle" >5000</text>
<text x="398.9" y="372.3" font-size="6.4" font-weight="normal" fill="#4d4d4d" text-anchor="middle" >10000</text>
<text x="433.4" y="372.3" font-size="6.4" font-weight="normal" fill="#4d4d4d" text-anchor="middle" >15000</text>
<text x="389.9" y="379.4" font-size="6.9" font-weight="normal" fill="#222" text-anchor="middle" textLength="66" lengthAdjust="spacingAndGlyphs">Rank in Ordered Dataset</text>
<text transform="translate(313.2,279.2) rotate(-90)" font-size="6.9" fill="#222" text-anchor="middle" textLength="71.5" lengthAdjust="spacingAndGlyphs">Running Enrichment Score</text>
<text transform="translate(313.2,350.5) rotate(-90)" font-size="6.9" fill="#222" text-anchor="middle" textLength="26.8" lengthAdjust="spacingAndGlyphs">Ranked List</text>
<text x="445.7" y="260.5" font-size="7.4" font-weight="bold" fill="#4d4d4d" text-anchor="end" >NES: 1.37</text>
<text x="445.7" y="269.3" font-size="7.4" font-weight="bold" fill="#4d4d4d" text-anchor="end">Ajusted <tspan font-style="italic">p</tspan>: 0.02</text>
<text x="331" y="336.6" font-size="5" font-weight="bold" fill="#b3247f" textLength="76.5" lengthAdjust="spacingAndGlyphs">'shPRSS22'(positively correlated)</text>
<text x="448.1" y="362.3" font-size="5" font-weight="bold" fill="#2a5caa" text-anchor="end" textLength="67.5" lengthAdjust="spacingAndGlyphs">'shCtrl'(negatively correlated)</text>
<text x="465.6" y="232.6" font-size="16.5" font-weight="bold" fill="#231815" text-anchor="start" >H</text>
<text x="541" y="231.6" font-size="8.6" font-weight="bold" fill="#231815" text-anchor="middle" >RhoNox-6</text>
<path d="M508.1 246.8V344.5H572" stroke="#111" stroke-width="1.3" fill="none" stroke-linejoin="miter"/>
<line x1="503.1" y1="344.5" x2="508.1" y2="344.5" stroke="#111" stroke-width="1.3" />
<text x="502.5" y="347.6" font-size="8.7" font-weight="normal" fill="#111" text-anchor="end" stroke="#111" stroke-width="0.3">0</text>
<line x1="503.1" y1="328.4" x2="508.1" y2="328.4" stroke="#111" stroke-width="1.3" />
<text x="502.5" y="331.5" font-size="8.7" font-weight="normal" fill="#111" text-anchor="end" stroke="#111" stroke-width="0.3">200</text>
<line x1="503.1" y1="312.3" x2="508.1" y2="312.3" stroke="#111" stroke-width="1.3" />
<text x="502.5" y="315.4" font-size="8.7" font-weight="normal" fill="#111" text-anchor="end" stroke="#111" stroke-width="0.3">400</text>
<line x1="503.1" y1="296.2" x2="508.1" y2="296.2" stroke="#111" stroke-width="1.3" />
<text x="502.5" y="299.3" font-size="8.7" font-weight="normal" fill="#111" text-anchor="end" stroke="#111" stroke-width="0.3">600</text>
<line x1="503.1" y1="280.1" x2="508.1" y2="280.1" stroke="#111" stroke-width="1.3" />
<text x="502.5" y="283.2" font-size="8.7" font-weight="normal" fill="#111" text-anchor="end" stroke="#111" stroke-width="0.3">800</text>
<line x1="503.1" y1="264" x2="508.1" y2="264" stroke="#111" stroke-width="1.3" />
<text x="502.5" y="267.1" font-size="8.7" font-weight="normal" fill="#111" text-anchor="end" stroke="#111" stroke-width="0.3">1000</text>
<line x1="503.1" y1="247.9" x2="508.1" y2="247.9" stroke="#111" stroke-width="1.3" />
<text x="502.5" y="251" font-size="8.7" font-weight="normal" fill="#111" text-anchor="end" stroke="#111" stroke-width="0.3">1200</text>
<line x1="520.7" y1="344.5" x2="520.7" y2="349.1" stroke="#111" stroke-width="1.3" />
<line x1="540.4" y1="344.5" x2="540.4" y2="349.1" stroke="#111" stroke-width="1.3" />
<line x1="560.2" y1="344.5" x2="560.2" y2="349.1" stroke="#111" stroke-width="1.3" />
<rect x="514.6" y="315" width="12.4" height="29.5" fill="#5bb531" stroke="#111" stroke-width="1.2" />
<line x1="520.8" y1="310.1" x2="520.8" y2="319.9" stroke="#111" stroke-width="1.1" />
<line x1="517.4" y1="310.1" x2="524.2" y2="310.1" stroke="#111" stroke-width="1.1" />
<line x1="517.4" y1="319.9" x2="524.2" y2="319.9" stroke="#111" stroke-width="1.1" />
<circle cx="520.8" cy="309.7" r="1.4" fill="#111"/>
<circle cx="518.6" cy="316.9" r="1.4" fill="#111"/>
<circle cx="523.4" cy="316.2" r="1.4" fill="#111"/>
<rect x="534.3" y="289.6" width="12.4" height="54.9" fill="#8d2488" stroke="#111" stroke-width="1.2" />
<line x1="540.5" y1="287" x2="540.5" y2="292.2" stroke="#111" stroke-width="1.1" />
<line x1="537.1" y1="287" x2="543.9" y2="287" stroke="#111" stroke-width="1.1" />
<line x1="537.1" y1="292.2" x2="543.9" y2="292.2" stroke="#111" stroke-width="1.1" />
<circle cx="541" cy="286" r="1.4" fill="#111"/>
<circle cx="538.5" cy="291.1" r="1.4" fill="#111"/>
<circle cx="542.7" cy="291.1" r="1.4" fill="#111"/>
<rect x="554.3" y="292.2" width="12" height="52.3" fill="#b07a42" stroke="#111" stroke-width="1.2" />
<line x1="560.3" y1="291.6" x2="560.3" y2="292.8" stroke="#111" stroke-width="1.1" />
<line x1="556.9" y1="291.6" x2="563.7" y2="291.6" stroke="#111" stroke-width="1.1" />
<line x1="556.9" y1="292.8" x2="563.7" y2="292.8" stroke="#111" stroke-width="1.1" />
<circle cx="558.8" cy="292.2" r="1.4" fill="#111"/>
<circle cx="561.8" cy="292.2" r="1.4" fill="#111"/>
<circle cx="560.3" cy="292.5" r="1.4" fill="#111"/>
<path d="M520.2 261V252.7H559.8V259.7" stroke="#111" stroke-width="1.35" fill="none"/>
<text x="540" y="254.6" font-size="14.0" font-weight="bold" fill="#111" text-anchor="middle" >**</text>
<path d="M520.2 302.6V275H538.8V280.7" stroke="#111" stroke-width="1.35" fill="none"/>
<text x="529.5" y="276.8" font-size="14.0" font-weight="bold" fill="#111" text-anchor="middle" >**</text>
<path d="M541.7 280.7V275H559.8V287" stroke="#111" stroke-width="1.35" fill="none"/>
<text x="550.8" y="272.2" font-size="8.5" font-weight="normal" fill="#111" text-anchor="middle" stroke="#111" stroke-width="0.3">ns</text>
<text transform="translate(480,296.4) rotate(-90)" font-size="9.2" fill="#111" text-anchor="middle" stroke="#111" stroke-width="0.2">Fluorescence intensity</text>
<text transform="translate(525.8,356.2) rotate(-45)" font-size="8.6" font-weight="bold" fill="#231815" text-anchor="end" >shCtrl</text>
<text transform="translate(545.2,356.2) rotate(-45)" font-size="8.6" font-weight="bold" fill="#231815" text-anchor="end" >shPRSS22</text>
<text transform="translate(565.2,356.2) rotate(-45)" font-size="8.6" font-weight="bold" fill="#231815" text-anchor="end" >shPRSS22</text>
<text transform="translate(572.6,364.4) rotate(-45)" font-size="8.6" font-weight="bold" fill="#231815" text-anchor="end" >+Fer-1</text>
<text x="652.8" y="231.6" font-size="8.6" font-weight="bold" fill="#231815" text-anchor="middle">CM-H<tspan font-size="5" dy="1.6">2</tspan><tspan dy="-1.6">DCFDA</tspan></text>
<path d="M620.9 248V345.1H686" stroke="#111" stroke-width="1.3" fill="none" stroke-linejoin="miter"/>
<line x1="615.9" y1="345.1" x2="620.9" y2="345.1" stroke="#111" stroke-width="1.3" />
<text x="615.3" y="348.2" font-size="8.7" font-weight="normal" fill="#111" text-anchor="end" stroke="#111" stroke-width="0.3">0</text>
<line x1="615.9" y1="333.1" x2="620.9" y2="333.1" stroke="#111" stroke-width="1.3" />
<text x="615.3" y="336.2" font-size="8.7" font-weight="normal" fill="#111" text-anchor="end" stroke="#111" stroke-width="0.3">300</text>
<line x1="615.9" y1="321" x2="620.9" y2="321" stroke="#111" stroke-width="1.3" />
<text x="615.3" y="324.1" font-size="8.7" font-weight="normal" fill="#111" text-anchor="end" stroke="#111" stroke-width="0.3">600</text>
<line x1="615.9" y1="309" x2="620.9" y2="309" stroke="#111" stroke-width="1.3" />
<text x="615.3" y="312.1" font-size="8.7" font-weight="normal" fill="#111" text-anchor="end" stroke="#111" stroke-width="0.3">900</text>
<line x1="615.9" y1="296.9" x2="620.9" y2="296.9" stroke="#111" stroke-width="1.3" />
<text x="615.3" y="300" font-size="8.7" font-weight="normal" fill="#111" text-anchor="end" stroke="#111" stroke-width="0.3">1200</text>
<line x1="615.9" y1="284.9" x2="620.9" y2="284.9" stroke="#111" stroke-width="1.3" />
<text x="615.3" y="288" font-size="8.7" font-weight="normal" fill="#111" text-anchor="end" stroke="#111" stroke-width="0.3">1500</text>
<line x1="615.9" y1="272.8" x2="620.9" y2="272.8" stroke="#111" stroke-width="1.3" />
<text x="615.3" y="275.9" font-size="8.7" font-weight="normal" fill="#111" text-anchor="end" stroke="#111" stroke-width="0.3">1800</text>
<line x1="615.9" y1="260.8" x2="620.9" y2="260.8" stroke="#111" stroke-width="1.3" />
<text x="615.3" y="263.9" font-size="8.7" font-weight="normal" fill="#111" text-anchor="end" stroke="#111" stroke-width="0.3">2100</text>
<line x1="615.9" y1="248.7" x2="620.9" y2="248.7" stroke="#111" stroke-width="1.3" />
<text x="615.3" y="251.8" font-size="8.7" font-weight="normal" fill="#111" text-anchor="end" stroke="#111" stroke-width="0.3">2400</text>
<line x1="633.4" y1="345.1" x2="633.4" y2="349.7" stroke="#111" stroke-width="1.3" />
<line x1="652.6" y1="345.1" x2="652.6" y2="349.7" stroke="#111" stroke-width="1.3" />
<line x1="672.2" y1="345.1" x2="672.2" y2="349.7" stroke="#111" stroke-width="1.3" />
<rect x="627.2" y="310.7" width="12.4" height="34.4" fill="#5bb531" stroke="#111" stroke-width="1.2" />
<line x1="633.4" y1="306.3" x2="633.4" y2="315.1" stroke="#111" stroke-width="1.1" />
<line x1="630" y1="306.3" x2="636.8" y2="306.3" stroke="#111" stroke-width="1.1" />
<line x1="630" y1="315.1" x2="636.8" y2="315.1" stroke="#111" stroke-width="1.1" />
<circle cx="631" cy="307.3" r="1.4" fill="#111"/>
<circle cx="632.8" cy="314.7" r="1.4" fill="#111"/>
<circle cx="636" cy="310.4" r="1.4" fill="#111"/>
<rect x="646.6" y="293" width="12" height="52.1" fill="#8d2488" stroke="#111" stroke-width="1.2" />
<line x1="652.6" y1="289.4" x2="652.6" y2="296.6" stroke="#111" stroke-width="1.1" />
<line x1="649.2" y1="289.4" x2="656" y2="289.4" stroke="#111" stroke-width="1.1" />
<line x1="649.2" y1="296.6" x2="656" y2="296.6" stroke="#111" stroke-width="1.1" />
<circle cx="652.9" cy="289.2" r="1.4" fill="#111"/>
<circle cx="650.4" cy="294.6" r="1.4" fill="#111"/>
<circle cx="655" cy="294" r="1.4" fill="#111"/>
<rect x="666.1" y="304.8" width="12.2" height="40.3" fill="#b07a42" stroke="#111" stroke-width="1.2" />
<line x1="672.2" y1="303.2" x2="672.2" y2="306.4" stroke="#111" stroke-width="1.1" />
<line x1="668.8" y1="303.2" x2="675.6" y2="303.2" stroke="#111" stroke-width="1.1" />
<line x1="668.8" y1="306.4" x2="675.6" y2="306.4" stroke="#111" stroke-width="1.1" />
<circle cx="669.8" cy="303.3" r="1.4" fill="#111"/>
<circle cx="674.2" cy="305.1" r="1.4" fill="#111"/>
<circle cx="672.4" cy="304" r="1.4" fill="#111"/>
<path d="M633 264.5V259H672.4V264.5" stroke="#111" stroke-width="1.35" fill="none"/>
<text x="652.7" y="254.8" font-size="8.5" font-weight="normal" fill="#111" text-anchor="middle" stroke="#111" stroke-width="0.3">ns</text>
<path d="M633 300.6V278H651.1V284.2" stroke="#111" stroke-width="1.35" fill="none"/>
<text x="642" y="280" font-size="14.0" font-weight="bold" fill="#111" text-anchor="middle" >**</text>
<path d="M654.4 284.2V278H672.4V297.3" stroke="#111" stroke-width="1.35" fill="none"/>
<text x="663.4" y="280" font-size="14.0" font-weight="bold" fill="#111" text-anchor="middle" >*</text>
<text transform="translate(593.6,296.4) rotate(-90)" font-size="9.2" fill="#111" text-anchor="middle" stroke="#111" stroke-width="0.2">Fluorescence intensity</text>
<text transform="translate(638.4,356.2) rotate(-45)" font-size="8.6" font-weight="bold" fill="#231815" text-anchor="end" >shCtrl</text>
<text transform="translate(657.6,356.2) rotate(-45)" font-size="8.6" font-weight="bold" fill="#231815" text-anchor="end" >shPRSS22</text>
<text transform="translate(677.2,356.2) rotate(-45)" font-size="8.6" font-weight="bold" fill="#231815" text-anchor="end" >shPRSS22</text>
<text transform="translate(684.6,364.4) rotate(-45)" font-size="8.6" font-weight="bold" fill="#231815" text-anchor="end" >+Fer-1</text>
<text x="0.3" y="415" font-size="16.5" font-weight="bold" fill="#231815" text-anchor="start" >G</text>
<defs><pattern id="hg" width="2.6" height="2.6" patternUnits="userSpaceOnUse" patternTransform="rotate(-55)"><rect width="2.6" height="2.6" fill="#fff"/><rect width="2.6" height="1.25" fill="#5bb531"/></pattern><pattern id="hp" width="2.6" height="2.6" patternUnits="userSpaceOnUse" patternTransform="rotate(-55)"><rect width="2.6" height="2.6" fill="#fff"/><rect width="2.6" height="1.25" fill="#8d2488"/></pattern></defs>
<rect x="68.7" y="451" width="5.8" height="77.8" fill="#5bb531" stroke="none" stroke-width="0" />
<rect x="68.7" y="451" width="5.8" height="77.8" fill="none" stroke="#111" stroke-width="1.4" />
<line x1="71.6" y1="443.7" x2="71.6" y2="458.3" stroke="#111" stroke-width="1.1" />
<line x1="69.3" y1="443.7" x2="73.9" y2="443.7" stroke="#111" stroke-width="1.1" />
<line x1="69.3" y1="458.3" x2="73.9" y2="458.3" stroke="#111" stroke-width="1.1" />
<circle cx="72.2" cy="443.7" r="1.45" fill="#111"/>
<circle cx="71.5" cy="454" r="1.45" fill="#111"/>
<circle cx="72.5" cy="444.8" r="1.45" fill="#111"/>
<circle cx="71.6" cy="457.8" r="1.45" fill="#111"/>
<line x1="71.6" y1="528.8" x2="71.6" y2="533.5" stroke="#111" stroke-width="1.2" />
<rect x="79" y="453" width="5.8" height="75.8" fill="#5bb531" stroke="none" stroke-width="0" />
<rect x="79" y="453" width="5.8" height="75.8" fill="none" stroke="#111" stroke-width="1.4" />
<line x1="81.9" y1="446.2" x2="81.9" y2="459.8" stroke="#111" stroke-width="1.1" />
<line x1="79.6" y1="446.2" x2="84.2" y2="446.2" stroke="#111" stroke-width="1.1" />
<line x1="79.6" y1="459.8" x2="84.2" y2="459.8" stroke="#111" stroke-width="1.1" />
<circle cx="81.1" cy="453.1" r="1.45" fill="#111"/>
<circle cx="81.5" cy="442.8" r="1.45" fill="#111"/>
<circle cx="80.5" cy="454.7" r="1.45" fill="#111"/>
<circle cx="81" cy="459" r="1.45" fill="#111"/>
<line x1="81.9" y1="528.8" x2="81.9" y2="533.5" stroke="#111" stroke-width="1.2" />
<rect x="89" y="451" width="5.8" height="77.8" fill="#5bb531" stroke="none" stroke-width="0" />
<rect x="89" y="451" width="5.8" height="77.8" fill="none" stroke="#111" stroke-width="1.4" />
<line x1="91.9" y1="444.2" x2="91.9" y2="457.8" stroke="#111" stroke-width="1.1" />
<line x1="89.6" y1="444.2" x2="94.2" y2="444.2" stroke="#111" stroke-width="1.1" />
<line x1="89.6" y1="457.8" x2="94.2" y2="457.8" stroke="#111" stroke-width="1.1" />
<circle cx="90.4" cy="445.6" r="1.45" fill="#111"/>
<circle cx="92.7" cy="461.2" r="1.45" fill="#111"/>
<circle cx="92.3" cy="458.7" r="1.45" fill="#111"/>
<circle cx="91.4" cy="441.5" r="1.45" fill="#111"/>
<line x1="91.9" y1="528.8" x2="91.9" y2="533.5" stroke="#111" stroke-width="1.2" />
<rect x="99" y="457.6" width="5.8" height="71.2" fill="#5bb531" stroke="none" stroke-width="0" />
<rect x="99" y="457.6" width="5.8" height="71.2" fill="none" stroke="#111" stroke-width="1.4" />
<line x1="101.9" y1="448.9" x2="101.9" y2="466.3" stroke="#111" stroke-width="1.1" />
<line x1="99.6" y1="448.9" x2="104.2" y2="448.9" stroke="#111" stroke-width="1.1" />
<line x1="99.6" y1="466.3" x2="104.2" y2="466.3" stroke="#111" stroke-width="1.1" />
<circle cx="100.7" cy="457.5" r="1.45" fill="#111"/>
<circle cx="101.5" cy="469.5" r="1.45" fill="#111"/>
<circle cx="102.9" cy="448.5" r="1.45" fill="#111"/>
<circle cx="103.3" cy="447.8" r="1.45" fill="#111"/>
<line x1="101.9" y1="528.8" x2="101.9" y2="533.5" stroke="#111" stroke-width="1.2" />
<rect x="109.1" y="451.5" width="5.8" height="77.3" fill="#5bb531" stroke="none" stroke-width="0" />
<rect x="109.1" y="451.5" width="5.8" height="77.3" fill="none" stroke="#111" stroke-width="1.4" />
<line x1="112" y1="446.2" x2="112" y2="456.9" stroke="#111" stroke-width="1.1" />
<line x1="109.7" y1="446.2" x2="114.3" y2="446.2" stroke="#111" stroke-width="1.1" />
<line x1="109.7" y1="456.9" x2="114.3" y2="456.9" stroke="#111" stroke-width="1.1" />
<circle cx="112.2" cy="450.8" r="1.45" fill="#111"/>
<circle cx="112" cy="449" r="1.45" fill="#111"/>
<circle cx="110.5" cy="446.5" r="1.45" fill="#111"/>
<circle cx="111.2" cy="457.4" r="1.45" fill="#111"/>
<line x1="112" y1="528.8" x2="112" y2="533.5" stroke="#111" stroke-width="1.2" />
<rect x="119.1" y="449.1" width="5.8" height="79.7" fill="#5bb531" stroke="none" stroke-width="0" />
<rect x="119.1" y="449.1" width="5.8" height="79.7" fill="none" stroke="#111" stroke-width="1.4" />
<line x1="122" y1="443.3" x2="122" y2="454.9" stroke="#111" stroke-width="1.1" />
<line x1="119.7" y1="443.3" x2="124.3" y2="443.3" stroke="#111" stroke-width="1.1" />
<line x1="119.7" y1="454.9" x2="124.3" y2="454.9" stroke="#111" stroke-width="1.1" />
<circle cx="121.1" cy="454" r="1.45" fill="#111"/>
<circle cx="123.3" cy="457.3" r="1.45" fill="#111"/>
<circle cx="122.8" cy="453.6" r="1.45" fill="#111"/>
<circle cx="122.7" cy="450.5" r="1.45" fill="#111"/>
<line x1="122" y1="528.8" x2="122" y2="533.5" stroke="#111" stroke-width="1.2" />
<rect x="135.7" y="480.2" width="5.8" height="48.6" fill="#5bb531" stroke="none" stroke-width="0" />
<clipPath id="hc1386"><rect x="135.7" y="480.2" width="5.8" height="48.6"/></clipPath><path d="M135.1 534.8l7 -5.2M135.1 531.5l7 -5.2M135.1 528.3l7 -5.2M135.1 525l7 -5.2M135.1 521.8l7 -5.2M135.1 518.5l7 -5.2M135.1 515.3l7 -5.2M135.1 512l7 -5.2M135.1 508.8l7 -5.2M135.1 505.5l7 -5.2M135.1 502.3l7 -5.2M135.1 499l7 -5.2M135.1 495.8l7 -5.2M135.1 492.5l7 -5.2M135.1 489.3l7 -5.2M135.1 486l7 -5.2M135.1 482.8l7 -5.2M135.1 479.5l7 -5.2" stroke="#fff" stroke-width="1.15" clip-path="url(#hc1386)"/>
<rect x="135.7" y="480.2" width="5.8" height="48.6" fill="none" stroke="#111" stroke-width="1.4" />
<line x1="138.6" y1="476.8" x2="138.6" y2="483.6" stroke="#111" stroke-width="1.1" />
<line x1="136.3" y1="476.8" x2="140.9" y2="476.8" stroke="#111" stroke-width="1.1" />
<line x1="136.3" y1="483.6" x2="140.9" y2="483.6" stroke="#111" stroke-width="1.1" />
<circle cx="138.5" cy="476.3" r="1.45" fill="#111"/>
<circle cx="137.6" cy="483.5" r="1.45" fill="#111"/>
<circle cx="139.8" cy="484.5" r="1.45" fill="#111"/>
<circle cx="138.2" cy="479.3" r="1.45" fill="#111"/>
<line x1="138.6" y1="528.8" x2="138.6" y2="533.5" stroke="#111" stroke-width="1.2" />
<rect x="146.2" y="458.1" width="5.8" height="70.7" fill="#5bb531" stroke="none" stroke-width="0" />
<clipPath id="hc1491"><rect x="146.2" y="458.1" width="5.8" height="70.7"/></clipPath><path d="M145.6 534.8l7 -5.2M145.6 531.5l7 -5.2M145.6 528.3l7 -5.2M145.6 525l7 -5.2M145.6 521.8l7 -5.2M145.6 518.5l7 -5.2M145.6 515.3l7 -5.2M145.6 512l7 -5.2M145.6 508.8l7 -5.2M145.6 505.5l7 -5.2M145.6 502.3l7 -5.2M145.6 499l7 -5.2M145.6 495.8l7 -5.2M145.6 492.5l7 -5.2M145.6 489.3l7 -5.2M145.6 486l7 -5.2M145.6 482.8l7 -5.2M145.6 479.5l7 -5.2M145.6 476.3l7 -5.2M145.6 473l7 -5.2M145.6 469.8l7 -5.2M145.6 466.5l7 -5.2M145.6 463.3l7 -5.2M145.6 460l7 -5.2" stroke="#fff" stroke-width="1.15" clip-path="url(#hc1491)"/>
<rect x="146.2" y="458.1" width="5.8" height="70.7" fill="none" stroke="#111" stroke-width="1.4" />
<line x1="149.1" y1="455.2" x2="149.1" y2="461" stroke="#111" stroke-width="1.1" />
<line x1="146.8" y1="455.2" x2="151.4" y2="455.2" stroke="#111" stroke-width="1.1" />
<line x1="146.8" y1="461" x2="151.4" y2="461" stroke="#111" stroke-width="1.1" />
<circle cx="148.7" cy="457.7" r="1.45" fill="#111"/>
<circle cx="148.7" cy="462.4" r="1.45" fill="#111"/>
<circle cx="147.8" cy="453.9" r="1.45" fill="#111"/>
<circle cx="150.7" cy="460" r="1.45" fill="#111"/>
<line x1="149.1" y1="528.8" x2="149.1" y2="533.5" stroke="#111" stroke-width="1.2" />
<rect x="156.3" y="492.6" width="5.8" height="36.2" fill="#5bb531" stroke="none" stroke-width="0" />
<clipPath id="hc1592"><rect x="156.3" y="492.6" width="5.8" height="36.2"/></clipPath><path d="M155.7 534.8l7 -5.2M155.7 531.5l7 -5.2M155.7 528.3l7 -5.2M155.7 525l7 -5.2M155.7 521.8l7 -5.2M155.7 518.5l7 -5.2M155.7 515.3l7 -5.2M155.7 512l7 -5.2M155.7 508.8l7 -5.2M155.7 505.5l7 -5.2M155.7 502.3l7 -5.2M155.7 499l7 -5.2M155.7 495.8l7 -5.2M155.7 492.5l7 -5.2" stroke="#fff" stroke-width="1.15" clip-path="url(#hc1592)"/>
<rect x="156.3" y="492.6" width="5.8" height="36.2" fill="none" stroke="#111" stroke-width="1.4" />
<line x1="159.2" y1="490.6" x2="159.2" y2="494.5" stroke="#111" stroke-width="1.1" />
<line x1="156.9" y1="490.6" x2="161.5" y2="490.6" stroke="#111" stroke-width="1.1" />
<line x1="156.9" y1="494.5" x2="161.5" y2="494.5" stroke="#111" stroke-width="1.1" />
<circle cx="159.2" cy="492.6" r="1.45" fill="#111"/>
<circle cx="160" cy="492.9" r="1.45" fill="#111"/>
<circle cx="159.5" cy="491" r="1.45" fill="#111"/>
<circle cx="159.6" cy="492.9" r="1.45" fill="#111"/>
<line x1="159.2" y1="528.8" x2="159.2" y2="533.5" stroke="#111" stroke-width="1.2" />
<rect x="166.3" y="483.8" width="5.8" height="45" fill="#5bb531" stroke="none" stroke-width="0" />
<clipPath id="hc1692"><rect x="166.3" y="483.8" width="5.8" height="45"/></clipPath><path d="M165.7 534.8l7 -5.2M165.7 531.5l7 -5.2M165.7 528.3l7 -5.2M165.7 525l7 -5.2M165.7 521.8l7 -5.2M165.7 518.5l7 -5.2M165.7 515.3l7 -5.2M165.7 512l7 -5.2M165.7 508.8l7 -5.2M165.7 505.5l7 -5.2M165.7 502.3l7 -5.2M165.7 499l7 -5.2M165.7 495.8l7 -5.2M165.7 492.5l7 -5.2M165.7 489.3l7 -5.2M165.7 486l7 -5.2" stroke="#fff" stroke-width="1.15" clip-path="url(#hc1692)"/>
<rect x="166.3" y="483.8" width="5.8" height="45" fill="none" stroke="#111" stroke-width="1.4" />
<line x1="169.2" y1="478.5" x2="169.2" y2="489.2" stroke="#111" stroke-width="1.1" />
<line x1="166.9" y1="478.5" x2="171.5" y2="478.5" stroke="#111" stroke-width="1.1" />
<line x1="166.9" y1="489.2" x2="171.5" y2="489.2" stroke="#111" stroke-width="1.1" />
<circle cx="168.1" cy="478.7" r="1.45" fill="#111"/>
<circle cx="170.6" cy="481.4" r="1.45" fill="#111"/>
<circle cx="169.5" cy="481.4" r="1.45" fill="#111"/>
<circle cx="167.9" cy="480.7" r="1.45" fill="#111"/>
<line x1="169.2" y1="528.8" x2="169.2" y2="533.5" stroke="#111" stroke-width="1.2" />
<rect x="176.6" y="483.4" width="5.8" height="45.4" fill="#5bb531" stroke="none" stroke-width="0" />
<clipPath id="hc1795"><rect x="176.6" y="483.4" width="5.8" height="45.4"/></clipPath><path d="M176 534.8l7 -5.2M176 531.5l7 -5.2M176 528.3l7 -5.2M176 525l7 -5.2M176 521.8l7 -5.2M176 518.5l7 -5.2M176 515.3l7 -5.2M176 512l7 -5.2M176 508.8l7 -5.2M176 505.5l7 -5.2M176 502.3l7 -5.2M176 499l7 -5.2M176 495.8l7 -5.2M176 492.5l7 -5.2M176 489.3l7 -5.2M176 486l7 -5.2M176 482.8l7 -5.2" stroke="#fff" stroke-width="1.15" clip-path="url(#hc1795)"/>
<rect x="176.6" y="483.4" width="5.8" height="45.4" fill="none" stroke="#111" stroke-width="1.4" />
<line x1="179.5" y1="480" x2="179.5" y2="486.8" stroke="#111" stroke-width="1.1" />
<line x1="177.2" y1="480" x2="181.8" y2="480" stroke="#111" stroke-width="1.1" />
<line x1="177.2" y1="486.8" x2="181.8" y2="486.8" stroke="#111" stroke-width="1.1" />
<circle cx="180.5" cy="478.9" r="1.45" fill="#111"/>
<circle cx="179.1" cy="486.2" r="1.45" fill="#111"/>
<circle cx="180.1" cy="485.2" r="1.45" fill="#111"/>
<circle cx="181" cy="487.4" r="1.45" fill="#111"/>
<line x1="179.5" y1="528.8" x2="179.5" y2="533.5" stroke="#111" stroke-width="1.2" />
<rect x="186.6" y="492.6" width="5.8" height="36.2" fill="#5bb531" stroke="none" stroke-width="0" />
<clipPath id="hc1895"><rect x="186.6" y="492.6" width="5.8" height="36.2"/></clipPath><path d="M186 534.8l7 -5.2M186 531.5l7 -5.2M186 528.3l7 -5.2M186 525l7 -5.2M186 521.8l7 -5.2M186 518.5l7 -5.2M186 515.3l7 -5.2M186 512l7 -5.2M186 508.8l7 -5.2M186 505.5l7 -5.2M186 502.3l7 -5.2M186 499l7 -5.2M186 495.8l7 -5.2M186 492.5l7 -5.2" stroke="#fff" stroke-width="1.15" clip-path="url(#hc1895)"/>
<rect x="186.6" y="492.6" width="5.8" height="36.2" fill="none" stroke="#111" stroke-width="1.4" />
<line x1="189.5" y1="489.2" x2="189.5" y2="496" stroke="#111" stroke-width="1.1" />
<line x1="187.2" y1="489.2" x2="191.8" y2="489.2" stroke="#111" stroke-width="1.1" />
<line x1="187.2" y1="496" x2="191.8" y2="496" stroke="#111" stroke-width="1.1" />
<circle cx="191.1" cy="491.6" r="1.45" fill="#111"/>
<circle cx="189.8" cy="497.3" r="1.45" fill="#111"/>
<circle cx="189.5" cy="496.5" r="1.45" fill="#111"/>
<circle cx="188.7" cy="491.3" r="1.45" fill="#111"/>
<line x1="189.5" y1="528.8" x2="189.5" y2="533.5" stroke="#111" stroke-width="1.2" />
<rect x="203.3" y="476.3" width="5.8" height="52.5" fill="#8d2488" stroke="none" stroke-width="0" />
<rect x="203.3" y="476.3" width="5.8" height="52.5" fill="none" stroke="#111" stroke-width="1.4" />
<line x1="206.2" y1="474.4" x2="206.2" y2="478.3" stroke="#111" stroke-width="1.1" />
<line x1="203.9" y1="474.4" x2="208.5" y2="474.4" stroke="#111" stroke-width="1.1" />
<line x1="203.9" y1="478.3" x2="208.5" y2="478.3" stroke="#111" stroke-width="1.1" />
<circle cx="205.1" cy="478.5" r="1.45" fill="#111"/>
<circle cx="207.2" cy="473.8" r="1.45" fill="#111"/>
<circle cx="206.1" cy="477.9" r="1.45" fill="#111"/>
<circle cx="204.8" cy="478.3" r="1.45" fill="#111"/>
<line x1="206.2" y1="528.8" x2="206.2" y2="533.5" stroke="#111" stroke-width="1.2" />
<rect x="213.3" y="458.1" width="5.8" height="70.7" fill="#8d2488" stroke="none" stroke-width="0" />
<rect x="213.3" y="458.1" width="5.8" height="70.7" fill="none" stroke="#111" stroke-width="1.4" />
<line x1="216.2" y1="454.7" x2="216.2" y2="461.5" stroke="#111" stroke-width="1.1" />
<line x1="213.9" y1="454.7" x2="218.5" y2="454.7" stroke="#111" stroke-width="1.1" />
<line x1="213.9" y1="461.5" x2="218.5" y2="461.5" stroke="#111" stroke-width="1.1" />
<circle cx="215.5" cy="455.6" r="1.45" fill="#111"/>
<circle cx="215.1" cy="457.3" r="1.45" fill="#111"/>
<circle cx="215.7" cy="453.7" r="1.45" fill="#111"/>
<circle cx="217.7" cy="462.2" r="1.45" fill="#111"/>
<line x1="216.2" y1="528.8" x2="216.2" y2="533.5" stroke="#111" stroke-width="1.2" />
<rect x="223.4" y="479.7" width="5.8" height="49.1" fill="#8d2488" stroke="none" stroke-width="0" />
<rect x="223.4" y="479.7" width="5.8" height="49.1" fill="none" stroke="#111" stroke-width="1.4" />
<line x1="226.3" y1="473.9" x2="226.3" y2="485.5" stroke="#111" stroke-width="1.1" />
<line x1="224" y1="473.9" x2="228.6" y2="473.9" stroke="#111" stroke-width="1.1" />
<line x1="224" y1="485.5" x2="228.6" y2="485.5" stroke="#111" stroke-width="1.1" />
<circle cx="226.2" cy="484" r="1.45" fill="#111"/>
<circle cx="227.8" cy="475.4" r="1.45" fill="#111"/>
<circle cx="227" cy="480.2" r="1.45" fill="#111"/>
<circle cx="225.4" cy="471.5" r="1.45" fill="#111"/>
<line x1="226.3" y1="528.8" x2="226.3" y2="533.5" stroke="#111" stroke-width="1.2" />
<rect x="233.6" y="472.9" width="5.8" height="55.9" fill="#8d2488" stroke="none" stroke-width="0" />
<rect x="233.6" y="472.9" width="5.8" height="55.9" fill="none" stroke="#111" stroke-width="1.4" />
<line x1="236.5" y1="465.1" x2="236.5" y2="480.7" stroke="#111" stroke-width="1.1" />
<line x1="234.2" y1="465.1" x2="238.8" y2="465.1" stroke="#111" stroke-width="1.1" />
<line x1="234.2" y1="480.7" x2="238.8" y2="480.7" stroke="#111" stroke-width="1.1" />
<circle cx="237.4" cy="480.8" r="1.45" fill="#111"/>
<circle cx="236.8" cy="481.8" r="1.45" fill="#111"/>
<circle cx="236.8" cy="471.2" r="1.45" fill="#111"/>
<circle cx="235.9" cy="481.1" r="1.45" fill="#111"/>
<line x1="236.5" y1="528.8" x2="236.5" y2="533.5" stroke="#111" stroke-width="1.2" />
<rect x="243.7" y="473.4" width="5.8" height="55.4" fill="#8d2488" stroke="none" stroke-width="0" />
<rect x="243.7" y="473.4" width="5.8" height="55.4" fill="none" stroke="#111" stroke-width="1.4" />
<line x1="246.6" y1="463.7" x2="246.6" y2="483.1" stroke="#111" stroke-width="1.1" />
<line x1="244.3" y1="463.7" x2="248.9" y2="463.7" stroke="#111" stroke-width="1.1" />
<line x1="244.3" y1="483.1" x2="248.9" y2="483.1" stroke="#111" stroke-width="1.1" />
<circle cx="245.9" cy="474.4" r="1.45" fill="#111"/>
<circle cx="245" cy="481.2" r="1.45" fill="#111"/>
<circle cx="248.1" cy="478.8" r="1.45" fill="#111"/>
<circle cx="246.9" cy="459.5" r="1.45" fill="#111"/>
<line x1="246.6" y1="528.8" x2="246.6" y2="533.5" stroke="#111" stroke-width="1.2" />
<rect x="253.7" y="476.8" width="5.8" height="52" fill="#8d2488" stroke="none" stroke-width="0" />
<rect x="253.7" y="476.8" width="5.8" height="52" fill="none" stroke="#111" stroke-width="1.4" />
<line x1="256.6" y1="475.3" x2="256.6" y2="478.3" stroke="#111" stroke-width="1.1" />
<line x1="254.3" y1="475.3" x2="258.9" y2="475.3" stroke="#111" stroke-width="1.1" />
<line x1="254.3" y1="478.3" x2="258.9" y2="478.3" stroke="#111" stroke-width="1.1" />
<circle cx="257.7" cy="477.4" r="1.45" fill="#111"/>
<circle cx="255.8" cy="477.2" r="1.45" fill="#111"/>
<circle cx="258.1" cy="476.4" r="1.45" fill="#111"/>
<circle cx="255.4" cy="478.6" r="1.45" fill="#111"/>
<line x1="256.6" y1="528.8" x2="256.6" y2="533.5" stroke="#111" stroke-width="1.2" />
<rect x="270.5" y="499.6" width="5.8" height="29.2" fill="#8d2488" stroke="none" stroke-width="0" />
<clipPath id="hc2734"><rect x="270.5" y="499.6" width="5.8" height="29.2"/></clipPath><path d="M269.9 534.8l7 -5.2M269.9 531.5l7 -5.2M269.9 528.3l7 -5.2M269.9 525l7 -5.2M269.9 521.8l7 -5.2M269.9 518.5l7 -5.2M269.9 515.3l7 -5.2M269.9 512l7 -5.2M269.9 508.8l7 -5.2M269.9 505.5l7 -5.2M269.9 502.3l7 -5.2M269.9 499l7 -5.2" stroke="#fff" stroke-width="1.15" clip-path="url(#hc2734)"/>
<rect x="270.5" y="499.6" width="5.8" height="29.2" fill="none" stroke="#111" stroke-width="1.4" />
<line x1="273.4" y1="497.2" x2="273.4" y2="502.1" stroke="#111" stroke-width="1.1" />
<line x1="271.1" y1="497.2" x2="275.7" y2="497.2" stroke="#111" stroke-width="1.1" />
<line x1="271.1" y1="502.1" x2="275.7" y2="502.1" stroke="#111" stroke-width="1.1" />
<circle cx="272.1" cy="496.7" r="1.45" fill="#111"/>
<circle cx="273.2" cy="496.2" r="1.45" fill="#111"/>
<circle cx="274.6" cy="497" r="1.45" fill="#111"/>
<circle cx="272.2" cy="500.8" r="1.45" fill="#111"/>
<line x1="273.4" y1="528.8" x2="273.4" y2="533.5" stroke="#111" stroke-width="1.2" />
<rect x="280.6" y="491.4" width="5.8" height="37.4" fill="#8d2488" stroke="none" stroke-width="0" />
<clipPath id="hc2835"><rect x="280.6" y="491.4" width="5.8" height="37.4"/></clipPath><path d="M280 534.8l7 -5.2M280 531.5l7 -5.2M280 528.3l7 -5.2M280 525l7 -5.2M280 521.8l7 -5.2M280 518.5l7 -5.2M280 515.3l7 -5.2M280 512l7 -5.2M280 508.8l7 -5.2M280 505.5l7 -5.2M280 502.3l7 -5.2M280 499l7 -5.2M280 495.8l7 -5.2M280 492.5l7 -5.2" stroke="#fff" stroke-width="1.15" clip-path="url(#hc2835)"/>
<rect x="280.6" y="491.4" width="5.8" height="37.4" fill="none" stroke="#111" stroke-width="1.4" />
<line x1="283.5" y1="486.5" x2="283.5" y2="496.2" stroke="#111" stroke-width="1.1" />
<line x1="281.2" y1="486.5" x2="285.8" y2="486.5" stroke="#111" stroke-width="1.1" />
<line x1="281.2" y1="496.2" x2="285.8" y2="496.2" stroke="#111" stroke-width="1.1" />
<circle cx="282.9" cy="491.9" r="1.45" fill="#111"/>
<circle cx="282.6" cy="491.3" r="1.45" fill="#111"/>
<circle cx="282.5" cy="486.5" r="1.45" fill="#111"/>
<circle cx="284.2" cy="489.6" r="1.45" fill="#111"/>
<line x1="283.5" y1="528.8" x2="283.5" y2="533.5" stroke="#111" stroke-width="1.2" />
<rect x="290.9" y="508.9" width="5.8" height="19.9" fill="#8d2488" stroke="none" stroke-width="0" />
<clipPath id="hc2938"><rect x="290.9" y="508.9" width="5.8" height="19.9"/></clipPath><path d="M290.3 534.8l7 -5.2M290.3 531.5l7 -5.2M290.3 528.3l7 -5.2M290.3 525l7 -5.2M290.3 521.8l7 -5.2M290.3 518.5l7 -5.2M290.3 515.3l7 -5.2M290.3 512l7 -5.2M290.3 508.8l7 -5.2" stroke="#fff" stroke-width="1.15" clip-path="url(#hc2938)"/>
<rect x="290.9" y="508.9" width="5.8" height="19.9" fill="none" stroke="#111" stroke-width="1.4" />
<line x1="293.8" y1="506" x2="293.8" y2="511.8" stroke="#111" stroke-width="1.1" />
<line x1="291.5" y1="506" x2="296.1" y2="506" stroke="#111" stroke-width="1.1" />
<line x1="291.5" y1="511.8" x2="296.1" y2="511.8" stroke="#111" stroke-width="1.1" />
<circle cx="292.3" cy="509.3" r="1.45" fill="#111"/>
<circle cx="295" cy="510.7" r="1.45" fill="#111"/>
<circle cx="294.7" cy="511.3" r="1.45" fill="#111"/>
<circle cx="293.7" cy="504.6" r="1.45" fill="#111"/>
<line x1="293.8" y1="528.8" x2="293.8" y2="533.5" stroke="#111" stroke-width="1.2" />
<rect x="300.9" y="504.3" width="5.8" height="24.5" fill="#8d2488" stroke="none" stroke-width="0" />
<clipPath id="hc3038"><rect x="300.9" y="504.3" width="5.8" height="24.5"/></clipPath><path d="M300.3 534.8l7 -5.2M300.3 531.5l7 -5.2M300.3 528.3l7 -5.2M300.3 525l7 -5.2M300.3 521.8l7 -5.2M300.3 518.5l7 -5.2M300.3 515.3l7 -5.2M300.3 512l7 -5.2M300.3 508.8l7 -5.2M300.3 505.5l7 -5.2" stroke="#fff" stroke-width="1.15" clip-path="url(#hc3038)"/>
<rect x="300.9" y="504.3" width="5.8" height="24.5" fill="none" stroke="#111" stroke-width="1.4" />
<line x1="303.8" y1="499.4" x2="303.8" y2="509.1" stroke="#111" stroke-width="1.1" />
<line x1="301.5" y1="499.4" x2="306.1" y2="499.4" stroke="#111" stroke-width="1.1" />
<line x1="301.5" y1="509.1" x2="306.1" y2="509.1" stroke="#111" stroke-width="1.1" />
<circle cx="304.6" cy="497.9" r="1.45" fill="#111"/>
<circle cx="304.5" cy="499.5" r="1.45" fill="#111"/>
<circle cx="304.4" cy="500.7" r="1.45" fill="#111"/>
<circle cx="302.3" cy="501.5" r="1.45" fill="#111"/>
<line x1="303.8" y1="528.8" x2="303.8" y2="533.5" stroke="#111" stroke-width="1.2" />
<rect x="310.9" y="503.5" width="5.8" height="25.3" fill="#8d2488" stroke="none" stroke-width="0" />
<clipPath id="hc3138"><rect x="310.9" y="503.5" width="5.8" height="25.3"/></clipPath><path d="M310.3 534.8l7 -5.2M310.3 531.5l7 -5.2M310.3 528.3l7 -5.2M310.3 525l7 -5.2M310.3 521.8l7 -5.2M310.3 518.5l7 -5.2M310.3 515.3l7 -5.2M310.3 512l7 -5.2M310.3 508.8l7 -5.2M310.3 505.5l7 -5.2" stroke="#fff" stroke-width="1.15" clip-path="url(#hc3138)"/>
<rect x="310.9" y="503.5" width="5.8" height="25.3" fill="none" stroke="#111" stroke-width="1.4" />
<line x1="313.8" y1="501.6" x2="313.8" y2="505.5" stroke="#111" stroke-width="1.1" />
<line x1="311.5" y1="501.6" x2="316.1" y2="501.6" stroke="#111" stroke-width="1.1" />
<line x1="311.5" y1="505.5" x2="316.1" y2="505.5" stroke="#111" stroke-width="1.1" />
<circle cx="313.2" cy="502.9" r="1.45" fill="#111"/>
<circle cx="313.1" cy="505.9" r="1.45" fill="#111"/>
<circle cx="314" cy="503.5" r="1.45" fill="#111"/>
<circle cx="312.5" cy="506.1" r="1.45" fill="#111"/>
<line x1="313.8" y1="528.8" x2="313.8" y2="533.5" stroke="#111" stroke-width="1.2" />
<rect x="321.2" y="507.7" width="5.8" height="21.1" fill="#8d2488" stroke="none" stroke-width="0" />
<clipPath id="hc3241"><rect x="321.2" y="507.7" width="5.8" height="21.1"/></clipPath><path d="M320.6 534.8l7 -5.2M320.6 531.5l7 -5.2M320.6 528.3l7 -5.2M320.6 525l7 -5.2M320.6 521.8l7 -5.2M320.6 518.5l7 -5.2M320.6 515.3l7 -5.2M320.6 512l7 -5.2M320.6 508.8l7 -5.2" stroke="#fff" stroke-width="1.15" clip-path="url(#hc3241)"/>
<rect x="321.2" y="507.7" width="5.8" height="21.1" fill="none" stroke="#111" stroke-width="1.4" />
<line x1="324.1" y1="505.2" x2="324.1" y2="510.1" stroke="#111" stroke-width="1.1" />
<line x1="321.8" y1="505.2" x2="326.4" y2="505.2" stroke="#111" stroke-width="1.1" />
<line x1="321.8" y1="510.1" x2="326.4" y2="510.1" stroke="#111" stroke-width="1.1" />
<circle cx="324.1" cy="508.4" r="1.45" fill="#111"/>
<circle cx="325.6" cy="509.4" r="1.45" fill="#111"/>
<circle cx="324.7" cy="506.3" r="1.45" fill="#111"/>
<circle cx="324.3" cy="507.8" r="1.45" fill="#111"/>
<line x1="324.1" y1="528.8" x2="324.1" y2="533.5" stroke="#111" stroke-width="1.2" />
<path d="M65.5 431.1V528.8H330.8" stroke="#111" stroke-width="1.3" fill="none"/>
<line x1="61.1" y1="431.6" x2="65.5" y2="431.6" stroke="#111" stroke-width="1.3" />
<text x="58.7" y="434.7" font-size="8.6" font-weight="bold" fill="#231815" text-anchor="end" >2.0</text>
<line x1="61.1" y1="455.9" x2="65.5" y2="455.9" stroke="#111" stroke-width="1.3" />
<text x="58.7" y="459" font-size="8.6" font-weight="bold" fill="#231815" text-anchor="end" >1.5</text>
<line x1="61.1" y1="480.2" x2="65.5" y2="480.2" stroke="#111" stroke-width="1.3" />
<text x="58.7" y="483.3" font-size="8.6" font-weight="bold" fill="#231815" text-anchor="end" >1.0</text>
<line x1="61.1" y1="504.5" x2="65.5" y2="504.5" stroke="#111" stroke-width="1.3" />
<text x="58.7" y="507.6" font-size="8.6" font-weight="bold" fill="#231815" text-anchor="end" >0.5</text>
<line x1="61.1" y1="528.8" x2="65.5" y2="528.8" stroke="#111" stroke-width="1.3" />
<text x="58.7" y="531.9" font-size="8.6" font-weight="bold" fill="#231815" text-anchor="end" >0.0</text>
<text transform="translate(39.6,480.3) rotate(-90)" font-size="8.6" font-weight="bold" fill="#231815" text-anchor="middle">A.U. (A450)</text>
<path d="M71.6 430.5V419H101.9V424.9M81.9 430.5V424.9H122V430.5" stroke="#3a2622" stroke-width="1.1" fill="none"/>
<text x="87.2" y="416.5" font-size="8.6" font-weight="normal" fill="#3a2622" text-anchor="middle" stroke="#3a2622" stroke-width="0.3">ns</text>
<line x1="139.2" y1="403.9" x2="189.5" y2="403.9" stroke="#3a2622" stroke-width="1.2" />
<text x="164.1" y="405.7" font-size="14" font-weight="bold" fill="#3a2622" text-anchor="middle" >*</text>
<line x1="139.2" y1="414.4" x2="179.5" y2="414.4" stroke="#3a2622" stroke-width="1.2" />
<text x="159.1" y="412.5" font-size="8.6" font-weight="normal" fill="#3a2622" text-anchor="middle" stroke="#3a2622" stroke-width="0.3">ns</text>
<line x1="139.2" y1="424.9" x2="169.2" y2="424.9" stroke="#3a2622" stroke-width="1.2" />
<text x="153.9" y="423" font-size="8.6" font-weight="normal" fill="#3a2622" text-anchor="middle" stroke="#3a2622" stroke-width="0.3">ns</text>
<line x1="139.2" y1="435.4" x2="159.2" y2="435.4" stroke="#3a2622" stroke-width="1.2" />
<text x="148.9" y="437.2" font-size="14" font-weight="bold" fill="#3a2622" text-anchor="middle" >*</text>
<line x1="139.2" y1="446.9" x2="149.1" y2="446.9" stroke="#3a2622" stroke-width="1.2" />
<text x="143.8" y="448.7" font-size="14" font-weight="bold" fill="#3a2622" text-anchor="middle" >****</text>
<line x1="206.8" y1="403.9" x2="256.6" y2="403.9" stroke="#3a2622" stroke-width="1.2" />
<text x="231.4" y="402" font-size="8.6" font-weight="normal" fill="#3a2622" text-anchor="middle" stroke="#3a2622" stroke-width="0.3">ns</text>
<line x1="206.8" y1="414.4" x2="246.6" y2="414.4" stroke="#3a2622" stroke-width="1.2" />
<text x="226.4" y="412.5" font-size="8.6" font-weight="normal" fill="#3a2622" text-anchor="middle" stroke="#3a2622" stroke-width="0.3">ns</text>
<line x1="206.8" y1="424.9" x2="236.5" y2="424.9" stroke="#3a2622" stroke-width="1.2" />
<text x="221.3" y="423" font-size="8.6" font-weight="normal" fill="#3a2622" text-anchor="middle" stroke="#3a2622" stroke-width="0.3">ns</text>
<line x1="206.8" y1="435.4" x2="226.3" y2="435.4" stroke="#3a2622" stroke-width="1.2" />
<text x="216.2" y="433.5" font-size="8.6" font-weight="normal" fill="#3a2622" text-anchor="middle" stroke="#3a2622" stroke-width="0.3">ns</text>
<line x1="206.8" y1="446.9" x2="216.2" y2="446.9" stroke="#3a2622" stroke-width="1.2" />
<text x="211.2" y="448.7" font-size="14" font-weight="bold" fill="#3a2622" text-anchor="middle" >****</text>
<line x1="274" y1="403.9" x2="324.1" y2="403.9" stroke="#3a2622" stroke-width="1.2" />
<text x="298.8" y="402" font-size="8.6" font-weight="normal" fill="#3a2622" text-anchor="middle" stroke="#3a2622" stroke-width="0.3">ns</text>
<line x1="274" y1="414.4" x2="313.8" y2="414.4" stroke="#3a2622" stroke-width="1.2" />
<text x="293.6" y="412.5" font-size="8.6" font-weight="normal" fill="#3a2622" text-anchor="middle" stroke="#3a2622" stroke-width="0.3">ns</text>
<line x1="274" y1="424.9" x2="303.8" y2="424.9" stroke="#3a2622" stroke-width="1.2" />
<text x="288.6" y="423" font-size="8.6" font-weight="normal" fill="#3a2622" text-anchor="middle" stroke="#3a2622" stroke-width="0.3">ns</text>
<line x1="274" y1="435.4" x2="293.8" y2="435.4" stroke="#3a2622" stroke-width="1.2" />
<text x="283.6" y="433.5" font-size="8.6" font-weight="normal" fill="#3a2622" text-anchor="middle" stroke="#3a2622" stroke-width="0.3">ns</text>
<line x1="274" y1="446.9" x2="283.5" y2="446.9" stroke="#3a2622" stroke-width="1.2" />
<text x="259.9" y="444.8" font-size="8.6" fill="#3a2622" stroke="#3a2622" stroke-width="0.2"><tspan font-style="italic">p</tspan>=0.1336</text>
<text x="57.6" y="547.6" font-size="8.8" font-weight="bold" fill="#231815" text-anchor="end" >shCtrl</text>
<path d="M69.4 544.6h4.4M71.6 542.4v4.4" stroke="#231815" stroke-width="1.15" fill="none"/>
<path d="M79.7 544.6h4.4M81.9 542.4v4.4" stroke="#231815" stroke-width="1.15" fill="none"/>
<path d="M89.7 544.6h4.4M91.9 542.4v4.4" stroke="#231815" stroke-width="1.15" fill="none"/>
<path d="M99.7 544.6h4.4M101.9 542.4v4.4" stroke="#231815" stroke-width="1.15" fill="none"/>
<path d="M109.8 544.6h4.4M112 542.4v4.4" stroke="#231815" stroke-width="1.15" fill="none"/>
<path d="M119.8 544.6h4.4M122 542.4v4.4" stroke="#231815" stroke-width="1.15" fill="none"/>
<path d="M136.4 544.6h4.4M138.6 542.4v4.4" stroke="#231815" stroke-width="1.15" fill="none"/>
<path d="M146.9 544.6h4.4M149.1 542.4v4.4" stroke="#231815" stroke-width="1.15" fill="none"/>
<path d="M157 544.6h4.4M159.2 542.4v4.4" stroke="#231815" stroke-width="1.15" fill="none"/>
<path d="M167 544.6h4.4M169.2 542.4v4.4" stroke="#231815" stroke-width="1.15" fill="none"/>
<path d="M177.3 544.6h4.4M179.5 542.4v4.4" stroke="#231815" stroke-width="1.15" fill="none"/>
<path d="M187.3 544.6h4.4M189.5 542.4v4.4" stroke="#231815" stroke-width="1.15" fill="none"/>
<path d="M204.9 544.9h2.6" stroke="#231815" stroke-width="1.15" fill="none"/>
<path d="M214.9 544.9h2.6" stroke="#231815" stroke-width="1.15" fill="none"/>
<path d="M225 544.9h2.6" stroke="#231815" stroke-width="1.15" fill="none"/>
<path d="M235.2 544.9h2.6" stroke="#231815" stroke-width="1.15" fill="none"/>
<path d="M245.3 544.9h2.6" stroke="#231815" stroke-width="1.15" fill="none"/>
<path d="M255.3 544.9h2.6" stroke="#231815" stroke-width="1.15" fill="none"/>
<path d="M272.1 544.9h2.6" stroke="#231815" stroke-width="1.15" fill="none"/>
<path d="M282.2 544.9h2.6" stroke="#231815" stroke-width="1.15" fill="none"/>
<path d="M292.5 544.9h2.6" stroke="#231815" stroke-width="1.15" fill="none"/>
<path d="M302.5 544.9h2.6" stroke="#231815" stroke-width="1.15" fill="none"/>
<path d="M312.5 544.9h2.6" stroke="#231815" stroke-width="1.15" fill="none"/>
<path d="M322.8 544.9h2.6" stroke="#231815" stroke-width="1.15" fill="none"/>
<text x="57.6" y="558.2" font-size="8.8" font-weight="bold" fill="#231815" text-anchor="end" >shPRSS22</text>
<path d="M70.3 555.5h2.6" stroke="#231815" stroke-width="1.15" fill="none"/>
<path d="M80.6 555.5h2.6" stroke="#231815" stroke-width="1.15" fill="none"/>
<path d="M90.6 555.5h2.6" stroke="#231815" stroke-width="1.15" fill="none"/>
<path d="M100.6 555.5h2.6" stroke="#231815" stroke-width="1.15" fill="none"/>
<path d="M110.7 555.5h2.6" stroke="#231815" stroke-width="1.15" fill="none"/>
<path d="M120.7 555.5h2.6" stroke="#231815" stroke-width="1.15" fill="none"/>
<path d="M137.3 555.5h2.6" stroke="#231815" stroke-width="1.15" fill="none"/>
<path d="M147.8 555.5h2.6" stroke="#231815" stroke-width="1.15" fill="none"/>
<path d="M157.9 555.5h2.6" stroke="#231815" stroke-width="1.15" fill="none"/>
<path d="M167.9 555.5h2.6" stroke="#231815" stroke-width="1.15" fill="none"/>
<path d="M178.2 555.5h2.6" stroke="#231815" stroke-width="1.15" fill="none"/>
<path d="M188.2 555.5h2.6" stroke="#231815" stroke-width="1.15" fill="none"/>
<path d="M204 555.2h4.4M206.2 553v4.4" stroke="#231815" stroke-width="1.15" fill="none"/>
<path d="M214 555.2h4.4M216.2 553v4.4" stroke="#231815" stroke-width="1.15" fill="none"/>
<path d="M224.1 555.2h4.4M226.3 553v4.4" stroke="#231815" stroke-width="1.15" fill="none"/>
<path d="M234.3 555.2h4.4M236.5 553v4.4" stroke="#231815" stroke-width="1.15" fill="none"/>
<path d="M244.4 555.2h4.4M246.6 553v4.4" stroke="#231815" stroke-width="1.15" fill="none"/>
<path d="M254.4 555.2h4.4M256.6 553v4.4" stroke="#231815" stroke-width="1.15" fill="none"/>
<path d="M271.2 555.2h4.4M273.4 553v4.4" stroke="#231815" stroke-width="1.15" fill="none"/>
<path d="M281.3 555.2h4.4M283.5 553v4.4" stroke="#231815" stroke-width="1.15" fill="none"/>
<path d="M291.6 555.2h4.4M293.8 553v4.4" stroke="#231815" stroke-width="1.15" fill="none"/>
<path d="M301.6 555.2h4.4M303.8 553v4.4" stroke="#231815" stroke-width="1.15" fill="none"/>
<path d="M311.6 555.2h4.4M313.8 553v4.4" stroke="#231815" stroke-width="1.15" fill="none"/>
<path d="M321.9 555.2h4.4M324.1 553v4.4" stroke="#231815" stroke-width="1.15" fill="none"/>
<text x="57.6" y="568.8" font-size="8.8" font-weight="bold" fill="#231815" text-anchor="end" >Hemin</text>
<path d="M70.3 566.1h2.6" stroke="#231815" stroke-width="1.15" fill="none"/>
<path d="M80.6 566.1h2.6" stroke="#231815" stroke-width="1.15" fill="none"/>
<path d="M90.6 566.1h2.6" stroke="#231815" stroke-width="1.15" fill="none"/>
<path d="M100.6 566.1h2.6" stroke="#231815" stroke-width="1.15" fill="none"/>
<path d="M110.7 566.1h2.6" stroke="#231815" stroke-width="1.15" fill="none"/>
<path d="M120.7 566.1h2.6" stroke="#231815" stroke-width="1.15" fill="none"/>
<path d="M136.4 565.8h4.4M138.6 563.6v4.4" stroke="#231815" stroke-width="1.15" fill="none"/>
<path d="M146.9 565.8h4.4M149.1 563.6v4.4" stroke="#231815" stroke-width="1.15" fill="none"/>
<path d="M157 565.8h4.4M159.2 563.6v4.4" stroke="#231815" stroke-width="1.15" fill="none"/>
<path d="M167 565.8h4.4M169.2 563.6v4.4" stroke="#231815" stroke-width="1.15" fill="none"/>
<path d="M177.3 565.8h4.4M179.5 563.6v4.4" stroke="#231815" stroke-width="1.15" fill="none"/>
<path d="M187.3 565.8h4.4M189.5 563.6v4.4" stroke="#231815" stroke-width="1.15" fill="none"/>
<path d="M204.9 566.1h2.6" stroke="#231815" stroke-width="1.15" fill="none"/>
<path d="M214.9 566.1h2.6" stroke="#231815" stroke-width="1.15" fill="none"/>
<path d="M225 566.1h2.6" stroke="#231815" stroke-width="1.15" fill="none"/>
<path d="M235.2 566.1h2.6" stroke="#231815" stroke-width="1.15" fill="none"/>
<path d="M245.3 566.1h2.6" stroke="#231815" stroke-width="1.15" fill="none"/>
<path d="M255.3 566.1h2.6" stroke="#231815" stroke-width="1.15" fill="none"/>
<path d="M271.2 565.8h4.4M273.4 563.6v4.4" stroke="#231815" stroke-width="1.15" fill="none"/>
<path d="M281.3 565.8h4.4M283.5 563.6v4.4" stroke="#231815" stroke-width="1.15" fill="none"/>
<path d="M291.6 565.8h4.4M293.8 563.6v4.4" stroke="#231815" stroke-width="1.15" fill="none"/>
<path d="M301.6 565.8h4.4M303.8 563.6v4.4" stroke="#231815" stroke-width="1.15" fill="none"/>
<path d="M311.6 565.8h4.4M313.8 563.6v4.4" stroke="#231815" stroke-width="1.15" fill="none"/>
<path d="M321.9 565.8h4.4M324.1 563.6v4.4" stroke="#231815" stroke-width="1.15" fill="none"/>
<text x="57.6" y="579.4" font-size="8.8" font-weight="bold" fill="#231815" text-anchor="end" >Fer-1</text>
<path d="M70.3 576.7h2.6" stroke="#231815" stroke-width="1.15" fill="none"/>
<path d="M79.7 576.4h4.4M81.9 574.2v4.4" stroke="#231815" stroke-width="1.15" fill="none"/>
<path d="M90.6 576.7h2.6" stroke="#231815" stroke-width="1.15" fill="none"/>
<path d="M100.6 576.7h2.6" stroke="#231815" stroke-width="1.15" fill="none"/>
<path d="M110.7 576.7h2.6" stroke="#231815" stroke-width="1.15" fill="none"/>
<path d="M120.7 576.7h2.6" stroke="#231815" stroke-width="1.15" fill="none"/>
<path d="M137.3 576.7h2.6" stroke="#231815" stroke-width="1.15" fill="none"/>
<path d="M146.9 576.4h4.4M149.1 574.2v4.4" stroke="#231815" stroke-width="1.15" fill="none"/>
<path d="M157.9 576.7h2.6" stroke="#231815" stroke-width="1.15" fill="none"/>
<path d="M167.9 576.7h2.6" stroke="#231815" stroke-width="1.15" fill="none"/>
<path d="M178.2 576.7h2.6" stroke="#231815" stroke-width="1.15" fill="none"/>
<path d="M188.2 576.7h2.6" stroke="#231815" stroke-width="1.15" fill="none"/>
<path d="M204.9 576.7h2.6" stroke="#231815" stroke-width="1.15" fill="none"/>
<path d="M214 576.4h4.4M216.2 574.2v4.4" stroke="#231815" stroke-width="1.15" fill="none"/>
<path d="M225 576.7h2.6" stroke="#231815" stroke-width="1.15" fill="none"/>
<path d="M235.2 576.7h2.6" stroke="#231815" stroke-width="1.15" fill="none"/>
<path d="M245.3 576.7h2.6" stroke="#231815" stroke-width="1.15" fill="none"/>
<path d="M255.3 576.7h2.6" stroke="#231815" stroke-width="1.15" fill="none"/>
<path d="M272.1 576.7h2.6" stroke="#231815" stroke-width="1.15" fill="none"/>
<path d="M281.3 576.4h4.4M283.5 574.2v4.4" stroke="#231815" stroke-width="1.15" fill="none"/>
<path d="M292.5 576.7h2.6" stroke="#231815" stroke-width="1.15" fill="none"/>
<path d="M302.5 576.7h2.6" stroke="#231815" stroke-width="1.15" fill="none"/>
<path d="M312.5 576.7h2.6" stroke="#231815" stroke-width="1.15" fill="none"/>
<path d="M322.8 576.7h2.6" stroke="#231815" stroke-width="1.15" fill="none"/>
<text x="57.6" y="590" font-size="8.8" font-weight="bold" fill="#231815" text-anchor="end" >Z-VAD-FMK</text>
<path d="M70.3 587.3h2.6" stroke="#231815" stroke-width="1.15" fill="none"/>
<path d="M80.6 587.3h2.6" stroke="#231815" stroke-width="1.15" fill="none"/>
<path d="M89.7 587h4.4M91.9 584.8v4.4" stroke="#231815" stroke-width="1.15" fill="none"/>
<path d="M100.6 587.3h2.6" stroke="#231815" stroke-width="1.15" fill="none"/>
<path d="M110.7 587.3h2.6" stroke="#231815" stroke-width="1.15" fill="none"/>
<path d="M120.7 587.3h2.6" stroke="#231815" stroke-width="1.15" fill="none"/>
<path d="M137.3 587.3h2.6" stroke="#231815" stroke-width="1.15" fill="none"/>
<path d="M147.8 587.3h2.6" stroke="#231815" stroke-width="1.15" fill="none"/>
<path d="M157 587h4.4M159.2 584.8v4.4" stroke="#231815" stroke-width="1.15" fill="none"/>
<path d="M167.9 587.3h2.6" stroke="#231815" stroke-width="1.15" fill="none"/>
<path d="M178.2 587.3h2.6" stroke="#231815" stroke-width="1.15" fill="none"/>
<path d="M188.2 587.3h2.6" stroke="#231815" stroke-width="1.15" fill="none"/>
<path d="M204.9 587.3h2.6" stroke="#231815" stroke-width="1.15" fill="none"/>
<path d="M214.9 587.3h2.6" stroke="#231815" stroke-width="1.15" fill="none"/>
<path d="M224.1 587h4.4M226.3 584.8v4.4" stroke="#231815" stroke-width="1.15" fill="none"/>
<path d="M235.2 587.3h2.6" stroke="#231815" stroke-width="1.15" fill="none"/>
<path d="M245.3 587.3h2.6" stroke="#231815" stroke-width="1.15" fill="none"/>
<path d="M255.3 587.3h2.6" stroke="#231815" stroke-width="1.15" fill="none"/>
<path d="M272.1 587.3h2.6" stroke="#231815" stroke-width="1.15" fill="none"/>
<path d="M282.2 587.3h2.6" stroke="#231815" stroke-width="1.15" fill="none"/>
<path d="M291.6 587h4.4M293.8 584.8v4.4" stroke="#231815" stroke-width="1.15" fill="none"/>
<path d="M302.5 587.3h2.6" stroke="#231815" stroke-width="1.15" fill="none"/>
<path d="M312.5 587.3h2.6" stroke="#231815" stroke-width="1.15" fill="none"/>
<path d="M322.8 587.3h2.6" stroke="#231815" stroke-width="1.15" fill="none"/>
<text x="57.6" y="600.6" font-size="8.8" font-weight="bold" fill="#231815" text-anchor="end" >Necrostatin-1</text>
<path d="M70.3 597.9h2.6" stroke="#231815" stroke-width="1.15" fill="none"/>
<path d="M80.6 597.9h2.6" stroke="#231815" stroke-width="1.15" fill="none"/>
<path d="M90.6 597.9h2.6" stroke="#231815" stroke-width="1.15" fill="none"/>
<path d="M99.7 597.6h4.4M101.9 595.4v4.4" stroke="#231815" stroke-width="1.15" fill="none"/>
<path d="M110.7 597.9h2.6" stroke="#231815" stroke-width="1.15" fill="none"/>
<path d="M120.7 597.9h2.6" stroke="#231815" stroke-width="1.15" fill="none"/>
<path d="M137.3 597.9h2.6" stroke="#231815" stroke-width="1.15" fill="none"/>
<path d="M147.8 597.9h2.6" stroke="#231815" stroke-width="1.15" fill="none"/>
<path d="M157.9 597.9h2.6" stroke="#231815" stroke-width="1.15" fill="none"/>
<path d="M167 597.6h4.4M169.2 595.4v4.4" stroke="#231815" stroke-width="1.15" fill="none"/>
<path d="M178.2 597.9h2.6" stroke="#231815" stroke-width="1.15" fill="none"/>
<path d="M188.2 597.9h2.6" stroke="#231815" stroke-width="1.15" fill="none"/>
<path d="M204.9 597.9h2.6" stroke="#231815" stroke-width="1.15" fill="none"/>
<path d="M214.9 597.9h2.6" stroke="#231815" stroke-width="1.15" fill="none"/>
<path d="M225 597.9h2.6" stroke="#231815" stroke-width="1.15" fill="none"/>
<path d="M234.3 597.6h4.4M236.5 595.4v4.4" stroke="#231815" stroke-width="1.15" fill="none"/>
<path d="M245.3 597.9h2.6" stroke="#231815" stroke-width="1.15" fill="none"/>
<path d="M255.3 597.9h2.6" stroke="#231815" stroke-width="1.15" fill="none"/>
<path d="M272.1 597.9h2.6" stroke="#231815" stroke-width="1.15" fill="none"/>
<path d="M282.2 597.9h2.6" stroke="#231815" stroke-width="1.15" fill="none"/>
<path d="M292.5 597.9h2.6" stroke="#231815" stroke-width="1.15" fill="none"/>
<path d="M301.6 597.6h4.4M303.8 595.4v4.4" stroke="#231815" stroke-width="1.15" fill="none"/>
<path d="M312.5 597.9h2.6" stroke="#231815" stroke-width="1.15" fill="none"/>
<path d="M322.8 597.9h2.6" stroke="#231815" stroke-width="1.15" fill="none"/>
<text x="57.6" y="611.2" font-size="8.8" font-weight="bold" fill="#231815" text-anchor="end" >Belnacasan</text>
<path d="M70.3 608.5h2.6" stroke="#231815" stroke-width="1.15" fill="none"/>
<path d="M80.6 608.5h2.6" stroke="#231815" stroke-width="1.15" fill="none"/>
<path d="M90.6 608.5h2.6" stroke="#231815" stroke-width="1.15" fill="none"/>
<path d="M100.6 608.5h2.6" stroke="#231815" stroke-width="1.15" fill="none"/>
<path d="M109.8 608.2h4.4M112 606v4.4" stroke="#231815" stroke-width="1.15" fill="none"/>
<path d="M120.7 608.5h2.6" stroke="#231815" stroke-width="1.15" fill="none"/>
<path d="M137.3 608.5h2.6" stroke="#231815" stroke-width="1.15" fill="none"/>
<path d="M147.8 608.5h2.6" stroke="#231815" stroke-width="1.15" fill="none"/>
<path d="M157.9 608.5h2.6" stroke="#231815" stroke-width="1.15" fill="none"/>
<path d="M167.9 608.5h2.6" stroke="#231815" stroke-width="1.15" fill="none"/>
<path d="M177.3 608.2h4.4M179.5 606v4.4" stroke="#231815" stroke-width="1.15" fill="none"/>
<path d="M188.2 608.5h2.6" stroke="#231815" stroke-width="1.15" fill="none"/>
<path d="M204.9 608.5h2.6" stroke="#231815" stroke-width="1.15" fill="none"/>
<path d="M214.9 608.5h2.6" stroke="#231815" stroke-width="1.15" fill="none"/>
<path d="M225 608.5h2.6" stroke="#231815" stroke-width="1.15" fill="none"/>
<path d="M235.2 608.5h2.6" stroke="#231815" stroke-width="1.15" fill="none"/>
<path d="M244.4 608.2h4.4M246.6 606v4.4" stroke="#231815" stroke-width="1.15" fill="none"/>
<path d="M255.3 608.5h2.6" stroke="#231815" stroke-width="1.15" fill="none"/>
<path d="M272.1 608.5h2.6" stroke="#231815" stroke-width="1.15" fill="none"/>
<path d="M282.2 608.5h2.6" stroke="#231815" stroke-width="1.15" fill="none"/>
<path d="M292.5 608.5h2.6" stroke="#231815" stroke-width="1.15" fill="none"/>
<path d="M302.5 608.5h2.6" stroke="#231815" stroke-width="1.15" fill="none"/>
<path d="M311.6 608.2h4.4M313.8 606v4.4" stroke="#231815" stroke-width="1.15" fill="none"/>
<path d="M322.8 608.5h2.6" stroke="#231815" stroke-width="1.15" fill="none"/>
<text x="57.6" y="621.8" font-size="8.8" font-weight="bold" fill="#231815" text-anchor="end" >3-MA</text>
<path d="M70.3 619.1h2.6" stroke="#231815" stroke-width="1.15" fill="none"/>
<path d="M80.6 619.1h2.6" stroke="#231815" stroke-width="1.15" fill="none"/>
<path d="M90.6 619.1h2.6" stroke="#231815" stroke-width="1.15" fill="none"/>
<path d="M100.6 619.1h2.6" stroke="#231815" stroke-width="1.15" fill="none"/>
<path d="M110.7 619.1h2.6" stroke="#231815" stroke-width="1.15" fill="none"/>
<path d="M119.8 618.8h4.4M122 616.6v4.4" stroke="#231815" stroke-width="1.15" fill="none"/>
<path d="M137.3 619.1h2.6" stroke="#231815" stroke-width="1.15" fill="none"/>
<path d="M147.8 619.1h2.6" stroke="#231815" stroke-width="1.15" fill="none"/>
<path d="M157.9 619.1h2.6" stroke="#231815" stroke-width="1.15" fill="none"/>
<path d="M167.9 619.1h2.6" stroke="#231815" stroke-width="1.15" fill="none"/>
<path d="M178.2 619.1h2.6" stroke="#231815" stroke-width="1.15" fill="none"/>
<path d="M187.3 618.8h4.4M189.5 616.6v4.4" stroke="#231815" stroke-width="1.15" fill="none"/>
<path d="M204.9 619.1h2.6" stroke="#231815" stroke-width="1.15" fill="none"/>
<path d="M214.9 619.1h2.6" stroke="#231815" stroke-width="1.15" fill="none"/>
<path d="M225 619.1h2.6" stroke="#231815" stroke-width="1.15" fill="none"/>
<path d="M235.2 619.1h2.6" stroke="#231815" stroke-width="1.15" fill="none"/>
<path d="M245.3 619.1h2.6" stroke="#231815" stroke-width="1.15" fill="none"/>
<path d="M254.4 618.8h4.4M256.6 616.6v4.4" stroke="#231815" stroke-width="1.15" fill="none"/>
<path d="M272.1 619.1h2.6" stroke="#231815" stroke-width="1.15" fill="none"/>
<path d="M282.2 619.1h2.6" stroke="#231815" stroke-width="1.15" fill="none"/>
<path d="M292.5 619.1h2.6" stroke="#231815" stroke-width="1.15" fill="none"/>
<path d="M302.5 619.1h2.6" stroke="#231815" stroke-width="1.15" fill="none"/>
<path d="M312.5 619.1h2.6" stroke="#231815" stroke-width="1.15" fill="none"/>
<path d="M321.9 618.8h4.4M324.1 616.6v4.4" stroke="#231815" stroke-width="1.15" fill="none"/>
<text x="359" y="422" font-size="17" font-weight="bold" fill="#231815">I</text>
<text x="456.3" y="416" font-size="8.7" font-weight="bold" fill="#231815" text-anchor="middle" >Phase Contrast</text>
<text x="547" y="416" font-size="8.7" font-weight="bold" fill="#231815" text-anchor="middle" >PhoNox-6</text>
<text x="638.5" y="416" font-size="8.7" font-weight="bold" fill="#231815" text-anchor="middle">CM-H<tspan font-size="5" dy="1.6">2</tspan><tspan dy="-1.6">DCFDA</tspan></text>
<text x="406.4" y="453.3" font-size="8.7" font-weight="bold" fill="#231815" text-anchor="end" >shCtrl</text>
<text x="406.4" y="522.3" font-size="8.7" font-weight="bold" fill="#231815" text-anchor="end" >shPRSS22</text>
<text x="383" y="591" font-size="8.7" font-weight="bold" fill="#231815" text-anchor="middle" >shPRSS22+</text>
<text x="383" y="603" font-size="8.7" font-weight="bold" fill="#231815" text-anchor="middle" >Fer-1</text>
<filter id="fr1" x="0" y="0" width="1" height="1" color-interpolation-filters="sRGB">
<feGaussianBlur in="SourceGraphic" stdDeviation="2.3" result="L"/>
<feTurbulence type="fractalNoise" baseFrequency="0.13" numOctaves="2" seed="3" result="T1"/>
<feColorMatrix in="T1" type="matrix" values="2.4 0 0 0 -0.7  2.4 0 0 0 -0.7  2.4 0 0 0 -0.7  0 0 0 0 1" result="N1"/>
<feComposite in="L" in2="N1" operator="arithmetic" k1="0" k2="5.0" k3="1.6" k4="-2.050" result="M"/>
<feTurbulence type="fractalNoise" baseFrequency="0.45" numOctaves="2" seed="10" result="T2"/>
<feColorMatrix in="T2" type="matrix" values="0 2.6 0 0 -0.8  0 2.6 0 0 -0.8  0 2.6 0 0 -0.8  0 0 0 0 1" result="N2"/>
<feComposite in="L" in2="N2" operator="arithmetic" k1="0" k2="0.5" k3="0.42" k4="-0.02" result="S"/>
<feComposite in="M" in2="S" operator="arithmetic" k1="1" k2="0" k3="0" k4="0" result="V"/>
<feColorMatrix in="V" type="matrix" values="1 0 0 0 0  1 0 0 0 0  1 0 0 0 0  0 0 0 0 1" result="V1"/>
<feComponentTransfer in="V1"><feFuncR type="table" tableValues="0.150 0.280 0.450 0.620 0.800 0.980 1.000"/><feFuncG type="table" tableValues="0.020 0.035 0.075 0.140 0.230 0.420 0.600"/><feFuncB type="table" tableValues="0.015 0.020 0.030 0.040 0.050 0.090 0.160"/></feComponentTransfer>
</filter>
<filter id="fr2" x="0" y="0" width="1" height="1" color-interpolation-filters="sRGB">
<feGaussianBlur in="SourceGraphic" stdDeviation="2.3" result="L"/>
<feTurbulence type="fractalNoise" baseFrequency="0.13" numOctaves="2" seed="11" result="T1"/>
<feColorMatrix in="T1" type="matrix" values="2.4 0 0 0 -0.7  2.4 0 0 0 -0.7  2.4 0 0 0 -0.7  0 0 0 0 1" result="N1"/>
<feComposite in="L" in2="N1" operator="arithmetic" k1="0" k2="5.0" k3="1.6" k4="-2.450" result="M"/>
<feTurbulence type="fractalNoise" baseFrequency="0.45" numOctaves="2" seed="18" result="T2"/>
<feColorMatrix in="T2" type="matrix" values="0 2.6 0 0 -0.8  0 2.6 0 0 -0.8  0 2.6 0 0 -0.8  0 0 0 0 1" result="N2"/>
<feComposite in="L" in2="N2" operator="arithmetic" k1="0" k2="0.5" k3="0.42" k4="0.02" result="S"/>
<feComposite in="M" in2="S" operator="arithmetic" k1="1" k2="0" k3="0" k4="0" result="V"/>
<feColorMatrix in="V" type="matrix" values="1 0 0 0 0  1 0 0 0 0  1 0 0 0 0  0 0 0 0 1" result="V1"/>
<feComponentTransfer in="V1"><feFuncR type="table" tableValues="0.200 0.360 0.580 0.780 0.930 1.000 1.000"/><feFuncG type="table" tableValues="0.030 0.055 0.120 0.220 0.360 0.560 0.750"/><feFuncB type="table" tableValues="0.020 0.020 0.030 0.050 0.070 0.120 0.200"/></feComponentTransfer>
</filter>
<filter id="fr3" x="0" y="0" width="1" height="1" color-interpolation-filters="sRGB">
<feGaussianBlur in="SourceGraphic" stdDeviation="2.3" result="L"/>
<feTurbulence type="fractalNoise" baseFrequency="0.13" numOctaves="2" seed="23" result="T1"/>
<feColorMatrix in="T1" type="matrix" values="2.4 0 0 0 -0.7  2.4 0 0 0 -0.7  2.4 0 0 0 -0.7  0 0 0 0 1" result="N1"/>
<feComposite in="L" in2="N1" operator="arithmetic" k1="0" k2="5.0" k3="1.6" k4="-2.150" result="M"/>
<feTurbulence type="fractalNoise" baseFrequency="0.45" numOctaves="2" seed="30" result="T2"/>
<feColorMatrix in="T2" type="matrix" values="0 2.6 0 0 -0.8  0 2.6 0 0 -0.8  0 2.6 0 0 -0.8  0 0 0 0 1" result="N2"/>
<feComposite in="L" in2="N2" operator="arithmetic" k1="0" k2="0.5" k3="0.42" k4="0.04" result="S"/>
<feComposite in="M" in2="S" operator="arithmetic" k1="1" k2="0" k3="0" k4="0" result="V"/>
<feColorMatrix in="V" type="matrix" values="1 0 0 0 0  1 0 0 0 0  1 0 0 0 0  0 0 0 0 1" result="V1"/>
<feComponentTransfer in="V1"><feFuncR type="table" tableValues="0.150 0.280 0.450 0.620 0.800 0.980 1.000"/><feFuncG type="table" tableValues="0.020 0.035 0.075 0.140 0.230 0.420 0.600"/><feFuncB type="table" tableValues="0.015 0.020 0.030 0.040 0.050 0.090 0.160"/></feComponentTransfer>
</filter>
<filter id="fg2" x="0" y="0" width="1" height="1" color-interpolation-filters="sRGB">
<feGaussianBlur in="SourceGraphic" stdDeviation="2.3" result="L"/>
<feTurbulence type="fractalNoise" baseFrequency="0.13" numOctaves="2" seed="11" result="T1"/>
<feColorMatrix in="T1" type="matrix" values="2.4 0 0 0 -0.7  2.4 0 0 0 -0.7  2.4 0 0 0 -0.7  0 0 0 0 1" result="N1"/>
<feComposite in="L" in2="N1" operator="arithmetic" k1="0" k2="3.5" k3="1.12" k4="-1.715" result="M"/>
<feTurbulence type="fractalNoise" baseFrequency="0.45" numOctaves="2" seed="18" result="T2"/>
<feColorMatrix in="T2" type="matrix" values="0 2.6 0 0 -0.8  0 2.6 0 0 -0.8  0 2.6 0 0 -0.8  0 0 0 0 1" result="N2"/>
<feComposite in="L" in2="N2" operator="arithmetic" k1="0" k2="0.45" k3="0.36" k4="0.0" result="S"/>
<feComposite in="M" in2="S" operator="arithmetic" k1="1" k2="0" k3="0" k4="0" result="V"/>
<feColorMatrix in="V" type="matrix" values="1 0 0 0 0  1 0 0 0 0  1 0 0 0 0  0 0 0 0 1" result="V1"/>
<feComponentTransfer in="V1"><feFuncR type="table" tableValues="0.050 0.070 0.100 0.150 0.220 0.350 0.500"/><feFuncG type="table" tableValues="0.270 0.340 0.440 0.560 0.680 0.820 0.920"/><feFuncB type="table" tableValues="0.120 0.140 0.170 0.200 0.220 0.250 0.300"/></feComponentTransfer>
</filter>
<clipPath id="cfr1503420"><rect x="503.2" y="420.2" width="88" height="66"/></clipPath><g clip-path="url(#cfr1503420)"><g filter="url(#fr1)"><rect x="495.2" y="412.2" width="104" height="82" fill="#000"/><rect x="495.1" y="412.1" width="16.2" height="16.4" fill="rgb(141,141,141)"/><rect x="511.1" y="412.1" width="8.2" height="16.4" fill="rgb(113,113,113)"/><rect x="519.1" y="412.1" width="8.2" height="16.4" fill="rgb(113,113,113)"/><rect x="527.1" y="412.1" width="8.2" height="16.4" fill="rgb(170,170,170)"/><rect x="535.1" y="412.1" width="8.2" height="16.4" fill="rgb(141,141,141)"/><rect x="543.1" y="412.1" width="8.2" height="16.4" fill="rgb(56,56,56)"/><rect x="551.1" y="412.1" width="8.2" height="16.4" fill="rgb(141,141,141)"/><rect x="559.1" y="412.1" width="8.2" height="16.4" fill="rgb(141,141,141)"/><rect x="567.1" y="412.1" width="8.2" height="16.4" fill="rgb(85,85,85)"/><rect x="575.1" y="412.1" width="8.2" height="16.4" fill="rgb(113,113,113)"/><rect x="583.1" y="412.1" width="16.2" height="16.4" fill="rgb(141,141,141)"/><rect x="495.1" y="428.3" width="16.2" height="8.4" fill="rgb(170,170,170)"/><rect x="511.1" y="428.3" width="8.2" height="8.4" fill="rgb(113,113,113)"/><rect x="519.1" y="428.3" width="8.2" height="8.4" fill="rgb(28,28,28)"/><rect x="527.1" y="428.3" width="8.2" height="8.4" fill="rgb(28,28,28)"/><rect x="535.1" y="428.3" width="8.2" height="8.4" fill="rgb(56,56,56)"/><rect x="543.1" y="428.3" width="8.2" height="8.4" fill="rgb(85,85,85)"/><rect x="551.1" y="428.3" width="8.2" height="8.4" fill="rgb(28,28,28)"/><rect x="559.1" y="428.3" width="8.2" height="8.4" fill="rgb(141,141,141)"/><rect x="567.1" y="428.3" width="8.2" height="8.4" fill="rgb(85,85,85)"/><rect x="575.1" y="428.3" width="8.2" height="8.4" fill="rgb(113,113,113)"/><rect x="583.1" y="428.3" width="16.2" height="8.4" fill="rgb(141,141,141)"/><rect x="495.1" y="436.6" width="16.2" height="8.4" fill="rgb(170,170,170)"/><rect x="511.1" y="436.6" width="8.2" height="8.4" fill="rgb(113,113,113)"/><rect x="519.1" y="436.6" width="8.2" height="8.4" fill="rgb(85,85,85)"/><rect x="527.1" y="436.6" width="8.2" height="8.4" fill="rgb(85,85,85)"/><rect x="535.1" y="436.6" width="8.2" height="8.4" fill="rgb(170,170,170)"/><rect x="543.1" y="436.6" width="8.2" height="8.4" fill="rgb(170,170,170)"/><rect x="551.1" y="436.6" width="8.2" height="8.4" fill="rgb(113,113,113)"/><rect x="559.1" y="436.6" width="8.2" height="8.4" fill="rgb(85,85,85)"/><rect x="567.1" y="436.6" width="8.2" height="8.4" fill="rgb(113,113,113)"/><rect x="575.1" y="436.6" width="8.2" height="8.4" fill="rgb(56,56,56)"/><rect x="583.1" y="436.6" width="16.2" height="8.4" fill="rgb(113,113,113)"/><rect x="495.1" y="444.8" width="16.2" height="8.4" fill="rgb(113,113,113)"/><rect x="511.1" y="444.8" width="8.2" height="8.4" fill="rgb(85,85,85)"/><rect x="519.1" y="444.8" width="8.2" height="8.4" fill="rgb(85,85,85)"/><rect x="527.1" y="444.8" width="8.2" height="8.4" fill="rgb(28,28,28)"/><rect x="535.1" y="444.8" width="8.2" height="8.4" fill="rgb(113,113,113)"/><rect x="543.1" y="444.8" width="8.2" height="8.4" fill="rgb(85,85,85)"/><rect x="551.1" y="444.8" width="8.2" height="8.4" fill="rgb(85,85,85)"/><rect x="559.1" y="444.8" width="8.2" height="8.4" fill="rgb(113,113,113)"/><rect x="567.1" y="444.8" width="8.2" height="8.4" fill="rgb(28,28,28)"/><rect x="575.1" y="444.8" width="8.2" height="8.4" fill="rgb(85,85,85)"/><rect x="583.1" y="444.8" width="16.2" height="8.4" fill="rgb(141,141,141)"/><rect x="495.1" y="453.1" width="16.2" height="8.4" fill="rgb(56,56,56)"/><rect x="511.1" y="453.1" width="8.2" height="8.4" fill="rgb(113,113,113)"/><rect x="519.1" y="453.1" width="8.2" height="8.4" fill="rgb(113,113,113)"/><rect x="527.1" y="453.1" width="8.2" height="8.4" fill="rgb(56,56,56)"/><rect x="535.1" y="453.1" width="8.2" height="8.4" fill="rgb(56,56,56)"/><rect x="543.1" y="453.1" width="8.2" height="8.4" fill="rgb(28,28,28)"/><rect x="551.1" y="453.1" width="8.2" height="8.4" fill="rgb(141,141,141)"/><rect x="559.1" y="453.1" width="8.2" height="8.4" fill="rgb(141,141,141)"/><rect x="567.1" y="453.1" width="8.2" height="8.4" fill="rgb(113,113,113)"/><rect x="575.1" y="453.1" width="8.2" height="8.4" fill="rgb(113,113,113)"/><rect x="583.1" y="453.1" width="16.2" height="8.4" fill="rgb(85,85,85)"/><rect x="495.1" y="461.3" width="16.2" height="8.4" fill="rgb(28,28,28)"/><rect x="511.1" y="461.3" width="8.2" height="8.4" fill="rgb(198,198,198)"/><rect x="519.1" y="461.3" width="8.2" height="8.4" fill="rgb(141,141,141)"/><rect x="527.1" y="461.3" width="8.2" height="8.4" fill="rgb(141,141,141)"/><rect x="535.1" y="461.3" width="8.2" height="8.4" fill="rgb(28,28,28)"/><rect x="543.1" y="461.3" width="8.2" height="8.4" fill="rgb(56,56,56)"/><rect x="551.1" y="461.3" width="8.2" height="8.4" fill="rgb(141,141,141)"/><rect x="559.1" y="461.3" width="8.2" height="8.4" fill="rgb(141,141,141)"/><rect x="567.1" y="461.3" width="8.2" height="8.4" fill="rgb(141,141,141)"/><rect x="575.1" y="461.3" width="8.2" height="8.4" fill="rgb(113,113,113)"/><rect x="583.1" y="461.3" width="16.2" height="8.4" fill="rgb(28,28,28)"/><rect x="495.1" y="469.6" width="16.2" height="8.4" fill="rgb(28,28,28)"/><rect x="511.1" y="469.6" width="8.2" height="8.4" fill="rgb(198,198,198)"/><rect x="519.1" y="469.6" width="8.2" height="8.4" fill="rgb(141,141,141)"/><rect x="527.1" y="469.6" width="8.2" height="8.4" fill="rgb(113,113,113)"/><rect x="535.1" y="469.6" width="8.2" height="8.4" fill="rgb(56,56,56)"/><rect x="543.1" y="469.6" width="8.2" height="8.4" fill="rgb(56,56,56)"/><rect x="551.1" y="469.6" width="8.2" height="8.4" fill="rgb(113,113,113)"/><rect x="559.1" y="469.6" width="8.2" height="8.4" fill="rgb(113,113,113)"/><rect x="567.1" y="469.6" width="8.2" height="8.4" fill="rgb(28,28,28)"/><rect x="575.1" y="469.6" width="8.2" height="8.4" fill="rgb(56,56,56)"/><rect x="583.1" y="469.6" width="16.2" height="8.4" fill="rgb(28,28,28)"/><rect x="495.1" y="477.8" width="16.2" height="16.4" fill="rgb(85,85,85)"/><rect x="511.1" y="477.8" width="8.2" height="16.4" fill="rgb(141,141,141)"/><rect x="519.1" y="477.8" width="8.2" height="16.4" fill="rgb(113,113,113)"/><rect x="527.1" y="477.8" width="8.2" height="16.4" fill="rgb(56,56,56)"/><rect x="535.1" y="477.8" width="8.2" height="16.4" fill="rgb(85,85,85)"/><rect x="543.1" y="477.8" width="8.2" height="16.4" fill="rgb(141,141,141)"/><rect x="551.1" y="477.8" width="8.2" height="16.4" fill="rgb(113,113,113)"/><rect x="559.1" y="477.8" width="8.2" height="16.4" fill="rgb(113,113,113)"/><rect x="567.1" y="477.8" width="8.2" height="16.4" fill="rgb(113,113,113)"/><rect x="575.1" y="477.8" width="8.2" height="16.4" fill="rgb(28,28,28)"/><rect x="583.1" y="477.8" width="16.2" height="16.4" fill="rgb(28,28,28)"/></g></g>
<rect x="503.2" y="420.2" width="88" height="66" fill="none" stroke="#1a1210" stroke-width="1.1" />
<clipPath id="cfr2503490"><rect x="503.2" y="490.3" width="88" height="66"/></clipPath><g clip-path="url(#cfr2503490)"><g filter="url(#fr2)"><rect x="495.2" y="482.3" width="104" height="82" fill="#000"/><rect x="495.1" y="482.2" width="16.2" height="16.4" fill="rgb(141,141,141)"/><rect x="511.1" y="482.2" width="8.2" height="16.4" fill="rgb(85,85,85)"/><rect x="519.1" y="482.2" width="8.2" height="16.4" fill="rgb(198,198,198)"/><rect x="527.1" y="482.2" width="8.2" height="16.4" fill="rgb(170,170,170)"/><rect x="535.1" y="482.2" width="8.2" height="16.4" fill="rgb(56,56,56)"/><rect x="543.1" y="482.2" width="8.2" height="16.4" fill="rgb(85,85,85)"/><rect x="551.1" y="482.2" width="8.2" height="16.4" fill="rgb(141,141,141)"/><rect x="559.1" y="482.2" width="8.2" height="16.4" fill="rgb(141,141,141)"/><rect x="567.1" y="482.2" width="8.2" height="16.4" fill="rgb(56,56,56)"/><rect x="575.1" y="482.2" width="8.2" height="16.4" fill="rgb(56,56,56)"/><rect x="583.1" y="482.2" width="16.2" height="16.4" fill="rgb(170,170,170)"/><rect x="495.1" y="498.4" width="16.2" height="8.4" fill="rgb(170,170,170)"/><rect x="511.1" y="498.4" width="8.2" height="8.4" fill="rgb(56,56,56)"/><rect x="519.1" y="498.4" width="8.2" height="8.4" fill="rgb(198,198,198)"/><rect x="527.1" y="498.4" width="8.2" height="8.4" fill="rgb(198,198,198)"/><rect x="535.1" y="498.4" width="8.2" height="8.4" fill="rgb(141,141,141)"/><rect x="543.1" y="498.4" width="8.2" height="8.4" fill="rgb(85,85,85)"/><rect x="551.1" y="498.4" width="8.2" height="8.4" fill="rgb(170,170,170)"/><rect x="559.1" y="498.4" width="8.2" height="8.4" fill="rgb(170,170,170)"/><rect x="567.1" y="498.4" width="8.2" height="8.4" fill="rgb(56,56,56)"/><rect x="575.1" y="498.4" width="8.2" height="8.4" fill="rgb(56,56,56)"/><rect x="583.1" y="498.4" width="16.2" height="8.4" fill="rgb(141,141,141)"/><rect x="495.1" y="506.7" width="16.2" height="8.4" fill="rgb(141,141,141)"/><rect x="511.1" y="506.7" width="8.2" height="8.4" fill="rgb(85,85,85)"/><rect x="519.1" y="506.7" width="8.2" height="8.4" fill="rgb(170,170,170)"/><rect x="527.1" y="506.7" width="8.2" height="8.4" fill="rgb(170,170,170)"/><rect x="535.1" y="506.7" width="8.2" height="8.4" fill="rgb(198,198,198)"/><rect x="543.1" y="506.7" width="8.2" height="8.4" fill="rgb(170,170,170)"/><rect x="551.1" y="506.7" width="8.2" height="8.4" fill="rgb(170,170,170)"/><rect x="559.1" y="506.7" width="8.2" height="8.4" fill="rgb(198,198,198)"/><rect x="567.1" y="506.7" width="8.2" height="8.4" fill="rgb(56,56,56)"/><rect x="575.1" y="506.7" width="8.2" height="8.4" fill="rgb(28,28,28)"/><rect x="583.1" y="506.7" width="16.2" height="8.4" fill="rgb(141,141,141)"/><rect x="495.1" y="514.9" width="16.2" height="8.4" fill="rgb(141,141,141)"/><rect x="511.1" y="514.9" width="8.2" height="8.4" fill="rgb(113,113,113)"/><rect x="519.1" y="514.9" width="8.2" height="8.4" fill="rgb(170,170,170)"/><rect x="527.1" y="514.9" width="8.2" height="8.4" fill="rgb(141,141,141)"/><rect x="535.1" y="514.9" width="8.2" height="8.4" fill="rgb(170,170,170)"/><rect x="543.1" y="514.9" width="8.2" height="8.4" fill="rgb(170,170,170)"/><rect x="551.1" y="514.9" width="8.2" height="8.4" fill="rgb(113,113,113)"/><rect x="559.1" y="514.9" width="8.2" height="8.4" fill="rgb(141,141,141)"/><rect x="567.1" y="514.9" width="8.2" height="8.4" fill="rgb(141,141,141)"/><rect x="575.1" y="514.9" width="8.2" height="8.4" fill="rgb(85,85,85)"/><rect x="583.1" y="514.9" width="16.2" height="8.4" fill="rgb(113,113,113)"/><rect x="495.1" y="523.2" width="16.2" height="8.4" fill="rgb(85,85,85)"/><rect x="511.1" y="523.2" width="8.2" height="8.4" fill="rgb(85,85,85)"/><rect x="519.1" y="523.2" width="8.2" height="8.4" fill="rgb(85,85,85)"/><rect x="527.1" y="523.2" width="8.2" height="8.4" fill="rgb(113,113,113)"/><rect x="535.1" y="523.2" width="8.2" height="8.4" fill="rgb(170,170,170)"/><rect x="543.1" y="523.2" width="8.2" height="8.4" fill="rgb(170,170,170)"/><rect x="551.1" y="523.2" width="8.2" height="8.4" fill="rgb(170,170,170)"/><rect x="559.1" y="523.2" width="8.2" height="8.4" fill="rgb(56,56,56)"/><rect x="567.1" y="523.2" width="8.2" height="8.4" fill="rgb(85,85,85)"/><rect x="575.1" y="523.2" width="8.2" height="8.4" fill="rgb(56,56,56)"/><rect x="583.1" y="523.2" width="16.2" height="8.4" fill="rgb(56,56,56)"/><rect x="495.1" y="531.4" width="16.2" height="8.4" fill="rgb(28,28,28)"/><rect x="511.1" y="531.4" width="8.2" height="8.4" fill="rgb(28,28,28)"/><rect x="519.1" y="531.4" width="8.2" height="8.4" fill="rgb(85,85,85)"/><rect x="527.1" y="531.4" width="8.2" height="8.4" fill="rgb(141,141,141)"/><rect x="535.1" y="531.4" width="8.2" height="8.4" fill="rgb(170,170,170)"/><rect x="543.1" y="531.4" width="8.2" height="8.4" fill="rgb(170,170,170)"/><rect x="551.1" y="531.4" width="8.2" height="8.4" fill="rgb(113,113,113)"/><rect x="559.1" y="531.4" width="8.2" height="8.4" fill="rgb(85,85,85)"/><rect x="567.1" y="531.4" width="8.2" height="8.4" fill="rgb(113,113,113)"/><rect x="575.1" y="531.4" width="8.2" height="8.4" fill="rgb(141,141,141)"/><rect x="583.1" y="531.4" width="16.2" height="8.4" fill="rgb(113,113,113)"/><rect x="495.1" y="539.7" width="16.2" height="8.4" fill="rgb(28,28,28)"/><rect x="511.1" y="539.7" width="8.2" height="8.4" fill="rgb(56,56,56)"/><rect x="519.1" y="539.7" width="8.2" height="8.4" fill="rgb(113,113,113)"/><rect x="527.1" y="539.7" width="8.2" height="8.4" fill="rgb(198,198,198)"/><rect x="535.1" y="539.7" width="8.2" height="8.4" fill="rgb(85,85,85)"/><rect x="543.1" y="539.7" width="8.2" height="8.4" fill="rgb(85,85,85)"/><rect x="551.1" y="539.7" width="8.2" height="8.4" fill="rgb(141,141,141)"/><rect x="559.1" y="539.7" width="8.2" height="8.4" fill="rgb(170,170,170)"/><rect x="567.1" y="539.7" width="8.2" height="8.4" fill="rgb(56,56,56)"/><rect x="575.1" y="539.7" width="8.2" height="8.4" fill="rgb(28,28,28)"/><rect x="583.1" y="539.7" width="16.2" height="8.4" fill="rgb(113,113,113)"/><rect x="495.1" y="547.9" width="16.2" height="16.4" fill="rgb(113,113,113)"/><rect x="511.1" y="547.9" width="8.2" height="16.4" fill="rgb(28,28,28)"/><rect x="519.1" y="547.9" width="8.2" height="16.4" fill="rgb(85,85,85)"/><rect x="527.1" y="547.9" width="8.2" height="16.4" fill="rgb(170,170,170)"/><rect x="535.1" y="547.9" width="8.2" height="16.4" fill="rgb(85,85,85)"/><rect x="543.1" y="547.9" width="8.2" height="16.4" fill="rgb(56,56,56)"/><rect x="551.1" y="547.9" width="8.2" height="16.4" fill="rgb(141,141,141)"/><rect x="559.1" y="547.9" width="8.2" height="16.4" fill="rgb(141,141,141)"/><rect x="567.1" y="547.9" width="8.2" height="16.4" fill="rgb(56,56,56)"/><rect x="575.1" y="547.9" width="8.2" height="16.4" fill="rgb(56,56,56)"/><rect x="583.1" y="547.9" width="16.2" height="16.4" fill="rgb(113,113,113)"/></g></g>
<rect x="503.2" y="490.3" width="88" height="66" fill="none" stroke="#1a1210" stroke-width="1.1" />
<clipPath id="cfr3503559"><rect x="503.2" y="559.9" width="88" height="66"/></clipPath><g clip-path="url(#cfr3503559)"><g filter="url(#fr3)"><rect x="495.2" y="551.9" width="104" height="82" fill="#000"/><rect x="495.1" y="551.8" width="16.2" height="16.4" fill="rgb(170,170,170)"/><rect x="511.1" y="551.8" width="8.2" height="16.4" fill="rgb(170,170,170)"/><rect x="519.1" y="551.8" width="8.2" height="16.4" fill="rgb(141,141,141)"/><rect x="527.1" y="551.8" width="8.2" height="16.4" fill="rgb(113,113,113)"/><rect x="535.1" y="551.8" width="8.2" height="16.4" fill="rgb(113,113,113)"/><rect x="543.1" y="551.8" width="8.2" height="16.4" fill="rgb(141,141,141)"/><rect x="551.1" y="551.8" width="8.2" height="16.4" fill="rgb(141,141,141)"/><rect x="559.1" y="551.8" width="8.2" height="16.4" fill="rgb(113,113,113)"/><rect x="567.1" y="551.8" width="8.2" height="16.4" fill="rgb(141,141,141)"/><rect x="575.1" y="551.8" width="8.2" height="16.4" fill="rgb(170,170,170)"/><rect x="583.1" y="551.8" width="16.2" height="16.4" fill="rgb(113,113,113)"/><rect x="495.1" y="568" width="16.2" height="8.4" fill="rgb(113,113,113)"/><rect x="511.1" y="568" width="8.2" height="8.4" fill="rgb(56,56,56)"/><rect x="519.1" y="568" width="8.2" height="8.4" fill="rgb(56,56,56)"/><rect x="527.1" y="568" width="8.2" height="8.4" fill="rgb(85,85,85)"/><rect x="535.1" y="568" width="8.2" height="8.4" fill="rgb(113,113,113)"/><rect x="543.1" y="568" width="8.2" height="8.4" fill="rgb(141,141,141)"/><rect x="551.1" y="568" width="8.2" height="8.4" fill="rgb(170,170,170)"/><rect x="559.1" y="568" width="8.2" height="8.4" fill="rgb(141,141,141)"/><rect x="567.1" y="568" width="8.2" height="8.4" fill="rgb(85,85,85)"/><rect x="575.1" y="568" width="8.2" height="8.4" fill="rgb(170,170,170)"/><rect x="583.1" y="568" width="16.2" height="8.4" fill="rgb(141,141,141)"/><rect x="495.1" y="576.3" width="16.2" height="8.4" fill="rgb(113,113,113)"/><rect x="511.1" y="576.3" width="8.2" height="8.4" fill="rgb(113,113,113)"/><rect x="519.1" y="576.3" width="8.2" height="8.4" fill="rgb(85,85,85)"/><rect x="527.1" y="576.3" width="8.2" height="8.4" fill="rgb(113,113,113)"/><rect x="535.1" y="576.3" width="8.2" height="8.4" fill="rgb(85,85,85)"/><rect x="543.1" y="576.3" width="8.2" height="8.4" fill="rgb(141,141,141)"/><rect x="551.1" y="576.3" width="8.2" height="8.4" fill="rgb(170,170,170)"/><rect x="559.1" y="576.3" width="8.2" height="8.4" fill="rgb(170,170,170)"/><rect x="567.1" y="576.3" width="8.2" height="8.4" fill="rgb(141,141,141)"/><rect x="575.1" y="576.3" width="8.2" height="8.4" fill="rgb(113,113,113)"/><rect x="583.1" y="576.3" width="16.2" height="8.4" fill="rgb(113,113,113)"/><rect x="495.1" y="584.5" width="16.2" height="8.4" fill="rgb(170,170,170)"/><rect x="511.1" y="584.5" width="8.2" height="8.4" fill="rgb(141,141,141)"/><rect x="519.1" y="584.5" width="8.2" height="8.4" fill="rgb(141,141,141)"/><rect x="527.1" y="584.5" width="8.2" height="8.4" fill="rgb(141,141,141)"/><rect x="535.1" y="584.5" width="8.2" height="8.4" fill="rgb(113,113,113)"/><rect x="543.1" y="584.5" width="8.2" height="8.4" fill="rgb(170,170,170)"/><rect x="551.1" y="584.5" width="8.2" height="8.4" fill="rgb(170,170,170)"/><rect x="559.1" y="584.5" width="8.2" height="8.4" fill="rgb(170,170,170)"/><rect x="567.1" y="584.5" width="8.2" height="8.4" fill="rgb(113,113,113)"/><rect x="575.1" y="584.5" width="8.2" height="8.4" fill="rgb(85,85,85)"/><rect x="583.1" y="584.5" width="16.2" height="8.4" fill="rgb(85,85,85)"/><rect x="495.1" y="592.8" width="16.2" height="8.4" fill="rgb(141,141,141)"/><rect x="511.1" y="592.8" width="8.2" height="8.4" fill="rgb(113,113,113)"/><rect x="519.1" y="592.8" width="8.2" height="8.4" fill="rgb(141,141,141)"/><rect x="527.1" y="592.8" width="8.2" height="8.4" fill="rgb(113,113,113)"/><rect x="535.1" y="592.8" width="8.2" height="8.4" fill="rgb(56,56,56)"/><rect x="543.1" y="592.8" width="8.2" height="8.4" fill="rgb(170,170,170)"/><rect x="551.1" y="592.8" width="8.2" height="8.4" fill="rgb(170,170,170)"/><rect x="559.1" y="592.8" width="8.2" height="8.4" fill="rgb(85,85,85)"/><rect x="567.1" y="592.8" width="8.2" height="8.4" fill="rgb(85,85,85)"/><rect x="575.1" y="592.8" width="8.2" height="8.4" fill="rgb(85,85,85)"/><rect x="583.1" y="592.8" width="16.2" height="8.4" fill="rgb(113,113,113)"/><rect x="495.1" y="601" width="16.2" height="8.4" fill="rgb(56,56,56)"/><rect x="511.1" y="601" width="8.2" height="8.4" fill="rgb(56,56,56)"/><rect x="519.1" y="601" width="8.2" height="8.4" fill="rgb(85,85,85)"/><rect x="527.1" y="601" width="8.2" height="8.4" fill="rgb(56,56,56)"/><rect x="535.1" y="601" width="8.2" height="8.4" fill="rgb(28,28,28)"/><rect x="543.1" y="601" width="8.2" height="8.4" fill="rgb(85,85,85)"/><rect x="551.1" y="601" width="8.2" height="8.4" fill="rgb(141,141,141)"/><rect x="559.1" y="601" width="8.2" height="8.4" fill="rgb(56,56,56)"/><rect x="567.1" y="601" width="8.2" height="8.4" fill="rgb(56,56,56)"/><rect x="575.1" y="601" width="8.2" height="8.4" fill="rgb(113,113,113)"/><rect x="583.1" y="601" width="16.2" height="8.4" fill="rgb(85,85,85)"/><rect x="495.1" y="609.3" width="16.2" height="8.4" fill="rgb(113,113,113)"/><rect x="511.1" y="609.3" width="8.2" height="8.4" fill="rgb(141,141,141)"/><rect x="519.1" y="609.3" width="8.2" height="8.4" fill="rgb(85,85,85)"/><rect x="527.1" y="609.3" width="8.2" height="8.4" fill="rgb(85,85,85)"/><rect x="535.1" y="609.3" width="8.2" height="8.4" fill="rgb(56,56,56)"/><rect x="543.1" y="609.3" width="8.2" height="8.4" fill="rgb(113,113,113)"/><rect x="551.1" y="609.3" width="8.2" height="8.4" fill="rgb(85,85,85)"/><rect x="559.1" y="609.3" width="8.2" height="8.4" fill="rgb(85,85,85)"/><rect x="567.1" y="609.3" width="8.2" height="8.4" fill="rgb(85,85,85)"/><rect x="575.1" y="609.3" width="8.2" height="8.4" fill="rgb(141,141,141)"/><rect x="583.1" y="609.3" width="16.2" height="8.4" fill="rgb(56,56,56)"/><rect x="495.1" y="617.5" width="16.2" height="16.4" fill="rgb(85,85,85)"/><rect x="511.1" y="617.5" width="8.2" height="16.4" fill="rgb(113,113,113)"/><rect x="519.1" y="617.5" width="8.2" height="16.4" fill="rgb(56,56,56)"/><rect x="527.1" y="617.5" width="8.2" height="16.4" fill="rgb(113,113,113)"/><rect x="535.1" y="617.5" width="8.2" height="16.4" fill="rgb(85,85,85)"/><rect x="543.1" y="617.5" width="8.2" height="16.4" fill="rgb(141,141,141)"/><rect x="551.1" y="617.5" width="8.2" height="16.4" fill="rgb(113,113,113)"/><rect x="559.1" y="617.5" width="8.2" height="16.4" fill="rgb(113,113,113)"/><rect x="567.1" y="617.5" width="8.2" height="16.4" fill="rgb(113,113,113)"/><rect x="575.1" y="617.5" width="8.2" height="16.4" fill="rgb(85,85,85)"/><rect x="583.1" y="617.5" width="16.2" height="16.4" fill="rgb(28,28,28)"/></g></g>
<rect x="503.2" y="559.9" width="88" height="66" fill="none" stroke="#1a1210" stroke-width="1.1" />
<clipPath id="cfg2594490"><rect x="594.5" y="490.3" width="88" height="66"/></clipPath><g clip-path="url(#cfg2594490)"><g filter="url(#fg2)"><rect x="586.5" y="482.3" width="104" height="82" fill="#000"/><rect x="586.4" y="482.2" width="16.2" height="16.4" fill="rgb(141,141,141)"/><rect x="602.4" y="482.2" width="8.2" height="16.4" fill="rgb(85,85,85)"/><rect x="610.4" y="482.2" width="8.2" height="16.4" fill="rgb(198,198,198)"/><rect x="618.4" y="482.2" width="8.2" height="16.4" fill="rgb(170,170,170)"/><rect x="626.4" y="482.2" width="8.2" height="16.4" fill="rgb(56,56,56)"/><rect x="634.4" y="482.2" width="8.2" height="16.4" fill="rgb(85,85,85)"/><rect x="642.4" y="482.2" width="8.2" height="16.4" fill="rgb(141,141,141)"/><rect x="650.4" y="482.2" width="8.2" height="16.4" fill="rgb(141,141,141)"/><rect x="658.4" y="482.2" width="8.2" height="16.4" fill="rgb(56,56,56)"/><rect x="666.4" y="482.2" width="8.2" height="16.4" fill="rgb(56,56,56)"/><rect x="674.4" y="482.2" width="16.2" height="16.4" fill="rgb(170,170,170)"/><rect x="586.4" y="498.4" width="16.2" height="8.4" fill="rgb(170,170,170)"/><rect x="602.4" y="498.4" width="8.2" height="8.4" fill="rgb(56,56,56)"/><rect x="610.4" y="498.4" width="8.2" height="8.4" fill="rgb(198,198,198)"/><rect x="618.4" y="498.4" width="8.2" height="8.4" fill="rgb(198,198,198)"/><rect x="626.4" y="498.4" width="8.2" height="8.4" fill="rgb(141,141,141)"/><rect x="634.4" y="498.4" width="8.2" height="8.4" fill="rgb(85,85,85)"/><rect x="642.4" y="498.4" width="8.2" height="8.4" fill="rgb(170,170,170)"/><rect x="650.4" y="498.4" width="8.2" height="8.4" fill="rgb(170,170,170)"/><rect x="658.4" y="498.4" width="8.2" height="8.4" fill="rgb(56,56,56)"/><rect x="666.4" y="498.4" width="8.2" height="8.4" fill="rgb(56,56,56)"/><rect x="674.4" y="498.4" width="16.2" height="8.4" fill="rgb(141,141,141)"/><rect x="586.4" y="506.7" width="16.2" height="8.4" fill="rgb(141,141,141)"/><rect x="602.4" y="506.7" width="8.2" height="8.4" fill="rgb(85,85,85)"/><rect x="610.4" y="506.7" width="8.2" height="8.4" fill="rgb(170,170,170)"/><rect x="618.4" y="506.7" width="8.2" height="8.4" fill="rgb(170,170,170)"/><rect x="626.4" y="506.7" width="8.2" height="8.4" fill="rgb(198,198,198)"/><rect x="634.4" y="506.7" width="8.2" height="8.4" fill="rgb(170,170,170)"/><rect x="642.4" y="506.7" width="8.2" height="8.4" fill="rgb(170,170,170)"/><rect x="650.4" y="506.7" width="8.2" height="8.4" fill="rgb(198,198,198)"/><rect x="658.4" y="506.7" width="8.2" height="8.4" fill="rgb(56,56,56)"/><rect x="666.4" y="506.7" width="8.2" height="8.4" fill="rgb(28,28,28)"/><rect x="674.4" y="506.7" width="16.2" height="8.4" fill="rgb(141,141,141)"/><rect x="586.4" y="514.9" width="16.2" height="8.4" fill="rgb(141,141,141)"/><rect x="602.4" y="514.9" width="8.2" height="8.4" fill="rgb(113,113,113)"/><rect x="610.4" y="514.9" width="8.2" height="8.4" fill="rgb(170,170,170)"/><rect x="618.4" y="514.9" width="8.2" height="8.4" fill="rgb(141,141,141)"/><rect x="626.4" y="514.9" width="8.2" height="8.4" fill="rgb(170,170,170)"/><rect x="634.4" y="514.9" width="8.2" height="8.4" fill="rgb(170,170,170)"/><rect x="642.4" y="514.9" width="8.2" height="8.4" fill="rgb(113,113,113)"/><rect x="650.4" y="514.9" width="8.2" height="8.4" fill="rgb(141,141,141)"/><rect x="658.4" y="514.9" width="8.2" height="8.4" fill="rgb(141,141,141)"/><rect x="666.4" y="514.9" width="8.2" height="8.4" fill="rgb(85,85,85)"/><rect x="674.4" y="514.9" width="16.2" height="8.4" fill="rgb(113,113,113)"/><rect x="586.4" y="523.2" width="16.2" height="8.4" fill="rgb(85,85,85)"/><rect x="602.4" y="523.2" width="8.2" height="8.4" fill="rgb(85,85,85)"/><rect x="610.4" y="523.2" width="8.2" height="8.4" fill="rgb(85,85,85)"/><rect x="618.4" y="523.2" width="8.2" height="8.4" fill="rgb(113,113,113)"/><rect x="626.4" y="523.2" width="8.2" height="8.4" fill="rgb(170,170,170)"/><rect x="634.4" y="523.2" width="8.2" height="8.4" fill="rgb(170,170,170)"/><rect x="642.4" y="523.2" width="8.2" height="8.4" fill="rgb(170,170,170)"/><rect x="650.4" y="523.2" width="8.2" height="8.4" fill="rgb(56,56,56)"/><rect x="658.4" y="523.2" width="8.2" height="8.4" fill="rgb(85,85,85)"/><rect x="666.4" y="523.2" width="8.2" height="8.4" fill="rgb(56,56,56)"/><rect x="674.4" y="523.2" width="16.2" height="8.4" fill="rgb(56,56,56)"/><rect x="586.4" y="531.4" width="16.2" height="8.4" fill="rgb(28,28,28)"/><rect x="602.4" y="531.4" width="8.2" height="8.4" fill="rgb(28,28,28)"/><rect x="610.4" y="531.4" width="8.2" height="8.4" fill="rgb(85,85,85)"/><rect x="618.4" y="531.4" width="8.2" height="8.4" fill="rgb(141,141,141)"/><rect x="626.4" y="531.4" width="8.2" height="8.4" fill="rgb(170,170,170)"/><rect x="634.4" y="531.4" width="8.2" height="8.4" fill="rgb(170,170,170)"/><rect x="642.4" y="531.4" width="8.2" height="8.4" fill="rgb(113,113,113)"/><rect x="650.4" y="531.4" width="8.2" height="8.4" fill="rgb(85,85,85)"/><rect x="658.4" y="531.4" width="8.2" height="8.4" fill="rgb(113,113,113)"/><rect x="666.4" y="531.4" width="8.2" height="8.4" fill="rgb(141,141,141)"/><rect x="674.4" y="531.4" width="16.2" height="8.4" fill="rgb(113,113,113)"/><rect x="586.4" y="539.7" width="16.2" height="8.4" fill="rgb(28,28,28)"/><rect x="602.4" y="539.7" width="8.2" height="8.4" fill="rgb(56,56,56)"/><rect x="610.4" y="539.7" width="8.2" height="8.4" fill="rgb(113,113,113)"/><rect x="618.4" y="539.7" width="8.2" height="8.4" fill="rgb(198,198,198)"/><rect x="626.4" y="539.7" width="8.2" height="8.4" fill="rgb(85,85,85)"/><rect x="634.4" y="539.7" width="8.2" height="8.4" fill="rgb(85,85,85)"/><rect x="642.4" y="539.7" width="8.2" height="8.4" fill="rgb(141,141,141)"/><rect x="650.4" y="539.7" width="8.2" height="8.4" fill="rgb(170,170,170)"/><rect x="658.4" y="539.7" width="8.2" height="8.4" fill="rgb(56,56,56)"/><rect x="666.4" y="539.7" width="8.2" height="8.4" fill="rgb(28,28,28)"/><rect x="674.4" y="539.7" width="16.2" height="8.4" fill="rgb(113,113,113)"/><rect x="586.4" y="547.9" width="16.2" height="16.4" fill="rgb(113,113,113)"/><rect x="602.4" y="547.9" width="8.2" height="16.4" fill="rgb(28,28,28)"/><rect x="610.4" y="547.9" width="8.2" height="16.4" fill="rgb(85,85,85)"/><rect x="618.4" y="547.9" width="8.2" height="16.4" fill="rgb(170,170,170)"/><rect x="626.4" y="547.9" width="8.2" height="16.4" fill="rgb(85,85,85)"/><rect x="634.4" y="547.9" width="8.2" height="16.4" fill="rgb(56,56,56)"/><rect x="642.4" y="547.9" width="8.2" height="16.4" fill="rgb(141,141,141)"/><rect x="650.4" y="547.9" width="8.2" height="16.4" fill="rgb(141,141,141)"/><rect x="658.4" y="547.9" width="8.2" height="16.4" fill="rgb(56,56,56)"/><rect x="666.4" y="547.9" width="8.2" height="16.4" fill="rgb(56,56,56)"/><rect x="674.4" y="547.9" width="16.2" height="16.4" fill="rgb(113,113,113)"/></g></g>
<rect x="594.5" y="490.3" width="88" height="66" fill="none" stroke="#1a1210" stroke-width="1.1" />
<filter id="fd1" x="0" y="0" width="1" height="1" color-interpolation-filters="sRGB">
<feGaussianBlur in="SourceGraphic" stdDeviation="2.5" result="L"/>
<feTurbulence type="fractalNoise" baseFrequency="0.09" numOctaves="3" seed="5" result="T1"/>
<feColorMatrix in="T1" type="matrix" values="0 0.4 0 0 -0.2  0 0.4 0 0 -0.2  0 0.4 0 0 -0.2  0 0 0 0 1" result="N1"/>
<feComposite in="L" in2="N1" operator="arithmetic" k1="0" k2="1" k3="1" k4="0" result="V"/>
<feColorMatrix in="V" type="matrix" values="0.2 0 0 0 0.0  0 1 0 0 0  0 0.52 0 0 0.0  0 0 0 0 1"/>
</filter>
<filter id="fd3" x="0" y="0" width="1" height="1" color-interpolation-filters="sRGB">
<feGaussianBlur in="SourceGraphic" stdDeviation="2.5" result="L"/>
<feTurbulence type="fractalNoise" baseFrequency="0.09" numOctaves="3" seed="17" result="T1"/>
<feColorMatrix in="T1" type="matrix" values="0 0.4 0 0 -0.2  0 0.4 0 0 -0.2  0 0.4 0 0 -0.2  0 0 0 0 1" result="N1"/>
<feComposite in="L" in2="N1" operator="arithmetic" k1="0" k2="1" k3="1" k4="0" result="V"/>
<feColorMatrix in="V" type="matrix" values="0.2 0 0 0 0.0  0 1 0 0 0  0 0.52 0 0 0.0  0 0 0 0 1"/>
</filter>
<defs><linearGradient id="gfd1" x1="0" x2="0" y1="0" y2="1"><stop offset="0" stop-color="rgb(62,84,62)"/><stop offset="1" stop-color="rgb(26,34,26)"/></linearGradient></defs><clipPath id="cfd1"><rect x="594.5" y="420.2" width="88" height="66"/></clipPath><g clip-path="url(#cfd1)"><g filter="url(#fd1)"><rect x="586.5" y="412.2" width="104" height="82" fill="url(#gfd1)"/></g></g>
<rect x="594.5" y="420.2" width="88" height="66" fill="none" stroke="#2a2220" stroke-width="1.2" />
<defs><linearGradient id="gfd3" x1="0" x2="0" y1="0" y2="1"><stop offset="0" stop-color="rgb(64,88,64)"/><stop offset="1" stop-color="rgb(26,34,26)"/></linearGradient></defs><clipPath id="cfd3"><rect x="594.5" y="559.9" width="88" height="66"/></clipPath><g clip-path="url(#cfd3)"><g filter="url(#fd3)"><rect x="586.5" y="551.9" width="104" height="82" fill="url(#gfd3)"/></g></g>
<rect x="594.5" y="559.9" width="88" height="66" fill="none" stroke="#2a2220" stroke-width="1.2" />
<filter id="fp1" x="0" y="0" width="1" height="1" color-interpolation-filters="sRGB">
<feGaussianBlur in="SourceGraphic" stdDeviation="2.3" result="L"/>
<feTurbulence type="fractalNoise" baseFrequency="0.11" numOctaves="2" seed="3" result="T1"/>
<feColorMatrix in="T1" type="matrix" values="2.4 0 0 0 -0.7  2.4 0 0 0 -0.7  2.4 0 0 0 -0.7  0 0 0 0 1" result="N1"/>
<feComposite in="L" in2="N1" operator="arithmetic" k1="0" k2="5.0" k3="1.6" k4="-2.000" result="M"/>
<feTurbulence type="fractalNoise" baseFrequency="0.55" numOctaves="2" seed="6" result="T2"/>
<feColorMatrix in="T2" type="matrix" values="0 3 0 0 -1  0 3 0 0 -1  0 3 0 0 -1  0 0 0 0 1" result="N2"/>
<feComposite in="M" in2="N2" operator="arithmetic" k1="0.5" k2="-0.22" k3="0" k4="0.41" result="V"/>
<feColorMatrix in="V" type="matrix" values="0.69 0 0 0 0  0.69 0 0 0 0  0.69 0 0 0 0  0 0 0 0 1" result="V1"/>
<feComponentTransfer in="V1"><feFuncR type="table" tableValues="0.5 0.6 0.715 0.85 0.95 1"/><feFuncG type="table" tableValues="0.22 0.28 0.365 0.52 0.66 0.8"/><feFuncB type="table" tableValues="0.04 0.06 0.095 0.14 0.2 0.3"/></feComponentTransfer>
</filter>
<filter id="fp2" x="0" y="0" width="1" height="1" color-interpolation-filters="sRGB">
<feGaussianBlur in="SourceGraphic" stdDeviation="2.3" result="L"/>
<feTurbulence type="fractalNoise" baseFrequency="0.11" numOctaves="2" seed="11" result="T1"/>
<feColorMatrix in="T1" type="matrix" values="2.4 0 0 0 -0.7  2.4 0 0 0 -0.7  2.4 0 0 0 -0.7  0 0 0 0 1" result="N1"/>
<feComposite in="L" in2="N1" operator="arithmetic" k1="0" k2="5.0" k3="1.6" k4="-2.000" result="M"/>
<feTurbulence type="fractalNoise" baseFrequency="0.55" numOctaves="2" seed="14" result="T2"/>
<feColorMatrix in="T2" type="matrix" values="0 3 0 0 -1  0 3 0 0 -1  0 3 0 0 -1  0 0 0 0 1" result="N2"/>
<feComposite in="M" in2="N2" operator="arithmetic" k1="0.5" k2="-0.22" k3="0" k4="0.41" result="V"/>
<feColorMatrix in="V" type="matrix" values="0.69 0 0 0 0  0.69 0 0 0 0  0.69 0 0 0 0  0 0 0 0 1" result="V1"/>
<feComponentTransfer in="V1"><feFuncR type="table" tableValues="0.5 0.6 0.715 0.85 0.95 1"/><feFuncG type="table" tableValues="0.22 0.28 0.365 0.52 0.66 0.8"/><feFuncB type="table" tableValues="0.04 0.06 0.095 0.14 0.2 0.3"/></feComponentTransfer>
</filter>
<filter id="fp3" x="0" y="0" width="1" height="1" color-interpolation-filters="sRGB">
<feGaussianBlur in="SourceGraphic" stdDeviation="2.3" result="L"/>
<feTurbulence type="fractalNoise" baseFrequency="0.11" numOctaves="2" seed="23" result="T1"/>
<feColorMatrix in="T1" type="matrix" values="2.4 0 0 0 -0.7  2.4 0 0 0 -0.7  2.4 0 0 0 -0.7  0 0 0 0 1" result="N1"/>
<feComposite in="L" in2="N1" operator="arithmetic" k1="0" k2="5.0" k3="1.6" k4="-2.000" result="M"/>
<feTurbulence type="fractalNoise" baseFrequency="0.55" numOctaves="2" seed="26" result="T2"/>
<feColorMatrix in="T2" type="matrix" values="0 3 0 0 -1  0 3 0 0 -1  0 3 0 0 -1  0 0 0 0 1" result="N2"/>
<feComposite in="M" in2="N2" operator="arithmetic" k1="0.5" k2="-0.22" k3="0" k4="0.41" result="V"/>
<feColorMatrix in="V" type="matrix" values="0.69 0 0 0 0  0.69 0 0 0 0  0.69 0 0 0 0  0 0 0 0 1" result="V1"/>
<feComponentTransfer in="V1"><feFuncR type="table" tableValues="0.5 0.6 0.715 0.85 0.95 1"/><feFuncG type="table" tableValues="0.22 0.28 0.365 0.52 0.66 0.8"/><feFuncB type="table" tableValues="0.04 0.06 0.095 0.14 0.2 0.3"/></feComponentTransfer>
</filter>
<clipPath id="cfp1412420"><rect x="412.3" y="420.2" width="88" height="66"/></clipPath><g clip-path="url(#cfp1412420)"><g filter="url(#fp1)"><rect x="404.3" y="412.2" width="104" height="82" fill="#000"/><rect x="404.2" y="412.1" width="16.2" height="16.4" fill="rgb(141,141,141)"/><rect x="420.2" y="412.1" width="8.2" height="16.4" fill="rgb(113,113,113)"/><rect x="428.2" y="412.1" width="8.2" height="16.4" fill="rgb(113,113,113)"/><rect x="436.2" y="412.1" width="8.2" height="16.4" fill="rgb(170,170,170)"/><rect x="444.2" y="412.1" width="8.2" height="16.4" fill="rgb(141,141,141)"/><rect x="452.2" y="412.1" width="8.2" height="16.4" fill="rgb(56,56,56)"/><rect x="460.2" y="412.1" width="8.2" height="16.4" fill="rgb(141,141,141)"/><rect x="468.2" y="412.1" width="8.2" height="16.4" fill="rgb(141,141,141)"/><rect x="476.2" y="412.1" width="8.2" height="16.4" fill="rgb(85,85,85)"/><rect x="484.2" y="412.1" width="8.2" height="16.4" fill="rgb(113,113,113)"/><rect x="492.2" y="412.1" width="16.2" height="16.4" fill="rgb(141,141,141)"/><rect x="404.2" y="428.3" width="16.2" height="8.4" fill="rgb(170,170,170)"/><rect x="420.2" y="428.3" width="8.2" height="8.4" fill="rgb(113,113,113)"/><rect x="428.2" y="428.3" width="8.2" height="8.4" fill="rgb(28,28,28)"/><rect x="436.2" y="428.3" width="8.2" height="8.4" fill="rgb(28,28,28)"/><rect x="444.2" y="428.3" width="8.2" height="8.4" fill="rgb(56,56,56)"/><rect x="452.2" y="428.3" width="8.2" height="8.4" fill="rgb(85,85,85)"/><rect x="460.2" y="428.3" width="8.2" height="8.4" fill="rgb(28,28,28)"/><rect x="468.2" y="428.3" width="8.2" height="8.4" fill="rgb(141,141,141)"/><rect x="476.2" y="428.3" width="8.2" height="8.4" fill="rgb(85,85,85)"/><rect x="484.2" y="428.3" width="8.2" height="8.4" fill="rgb(113,113,113)"/><rect x="492.2" y="428.3" width="16.2" height="8.4" fill="rgb(141,141,141)"/><rect x="404.2" y="436.6" width="16.2" height="8.4" fill="rgb(170,170,170)"/><rect x="420.2" y="436.6" width="8.2" height="8.4" fill="rgb(113,113,113)"/><rect x="428.2" y="436.6" width="8.2" height="8.4" fill="rgb(85,85,85)"/><rect x="436.2" y="436.6" width="8.2" height="8.4" fill="rgb(85,85,85)"/><rect x="444.2" y="436.6" width="8.2" height="8.4" fill="rgb(170,170,170)"/><rect x="452.2" y="436.6" width="8.2" height="8.4" fill="rgb(170,170,170)"/><rect x="460.2" y="436.6" width="8.2" height="8.4" fill="rgb(113,113,113)"/><rect x="468.2" y="436.6" width="8.2" height="8.4" fill="rgb(85,85,85)"/><rect x="476.2" y="436.6" width="8.2" height="8.4" fill="rgb(113,113,113)"/><rect x="484.2" y="436.6" width="8.2" height="8.4" fill="rgb(56,56,56)"/><rect x="492.2" y="436.6" width="16.2" height="8.4" fill="rgb(113,113,113)"/><rect x="404.2" y="444.8" width="16.2" height="8.4" fill="rgb(113,113,113)"/><rect x="420.2" y="444.8" width="8.2" height="8.4" fill="rgb(85,85,85)"/><rect x="428.2" y="444.8" width="8.2" height="8.4" fill="rgb(85,85,85)"/><rect x="436.2" y="444.8" width="8.2" height="8.4" fill="rgb(28,28,28)"/><rect x="444.2" y="444.8" width="8.2" height="8.4" fill="rgb(113,113,113)"/><rect x="452.2" y="444.8" width="8.2" height="8.4" fill="rgb(85,85,85)"/><rect x="460.2" y="444.8" width="8.2" height="8.4" fill="rgb(85,85,85)"/><rect x="468.2" y="444.8" width="8.2" height="8.4" fill="rgb(113,113,113)"/><rect x="476.2" y="444.8" width="8.2" height="8.4" fill="rgb(28,28,28)"/><rect x="484.2" y="444.8" width="8.2" height="8.4" fill="rgb(85,85,85)"/><rect x="492.2" y="444.8" width="16.2" height="8.4" fill="rgb(141,141,141)"/><rect x="404.2" y="453.1" width="16.2" height="8.4" fill="rgb(56,56,56)"/><rect x="420.2" y="453.1" width="8.2" height="8.4" fill="rgb(113,113,113)"/><rect x="428.2" y="453.1" width="8.2" height="8.4" fill="rgb(113,113,113)"/><rect x="436.2" y="453.1" width="8.2" height="8.4" fill="rgb(56,56,56)"/><rect x="444.2" y="453.1" width="8.2" height="8.4" fill="rgb(56,56,56)"/><rect x="452.2" y="453.1" width="8.2" height="8.4" fill="rgb(28,28,28)"/><rect x="460.2" y="453.1" width="8.2" height="8.4" fill="rgb(141,141,141)"/><rect x="468.2" y="453.1" width="8.2" height="8.4" fill="rgb(141,141,141)"/><rect x="476.2" y="453.1" width="8.2" height="8.4" fill="rgb(113,113,113)"/><rect x="484.2" y="453.1" width="8.2" height="8.4" fill="rgb(113,113,113)"/><rect x="492.2" y="453.1" width="16.2" height="8.4" fill="rgb(85,85,85)"/><rect x="404.2" y="461.3" width="16.2" height="8.4" fill="rgb(28,28,28)"/><rect x="420.2" y="461.3" width="8.2" height="8.4" fill="rgb(198,198,198)"/><rect x="428.2" y="461.3" width="8.2" height="8.4" fill="rgb(141,141,141)"/><rect x="436.2" y="461.3" width="8.2" height="8.4" fill="rgb(141,141,141)"/><rect x="444.2" y="461.3" width="8.2" height="8.4" fill="rgb(28,28,28)"/><rect x="452.2" y="461.3" width="8.2" height="8.4" fill="rgb(56,56,56)"/><rect x="460.2" y="461.3" width="8.2" height="8.4" fill="rgb(141,141,141)"/><rect x="468.2" y="461.3" width="8.2" height="8.4" fill="rgb(141,141,141)"/><rect x="476.2" y="461.3" width="8.2" height="8.4" fill="rgb(141,141,141)"/><rect x="484.2" y="461.3" width="8.2" height="8.4" fill="rgb(113,113,113)"/><rect x="492.2" y="461.3" width="16.2" height="8.4" fill="rgb(28,28,28)"/><rect x="404.2" y="469.6" width="16.2" height="8.4" fill="rgb(28,28,28)"/><rect x="420.2" y="469.6" width="8.2" height="8.4" fill="rgb(198,198,198)"/><rect x="428.2" y="469.6" width="8.2" height="8.4" fill="rgb(141,141,141)"/><rect x="436.2" y="469.6" width="8.2" height="8.4" fill="rgb(113,113,113)"/><rect x="444.2" y="469.6" width="8.2" height="8.4" fill="rgb(56,56,56)"/><rect x="452.2" y="469.6" width="8.2" height="8.4" fill="rgb(56,56,56)"/><rect x="460.2" y="469.6" width="8.2" height="8.4" fill="rgb(113,113,113)"/><rect x="468.2" y="469.6" width="8.2" height="8.4" fill="rgb(113,113,113)"/><rect x="476.2" y="469.6" width="8.2" height="8.4" fill="rgb(28,28,28)"/><rect x="484.2" y="469.6" width="8.2" height="8.4" fill="rgb(56,56,56)"/><rect x="492.2" y="469.6" width="16.2" height="8.4" fill="rgb(28,28,28)"/><rect x="404.2" y="477.8" width="16.2" height="16.4" fill="rgb(85,85,85)"/><rect x="420.2" y="477.8" width="8.2" height="16.4" fill="rgb(141,141,141)"/><rect x="428.2" y="477.8" width="8.2" height="16.4" fill="rgb(113,113,113)"/><rect x="436.2" y="477.8" width="8.2" height="16.4" fill="rgb(56,56,56)"/><rect x="444.2" y="477.8" width="8.2" height="16.4" fill="rgb(85,85,85)"/><rect x="452.2" y="477.8" width="8.2" height="16.4" fill="rgb(141,141,141)"/><rect x="460.2" y="477.8" width="8.2" height="16.4" fill="rgb(113,113,113)"/><rect x="468.2" y="477.8" width="8.2" height="16.4" fill="rgb(113,113,113)"/><rect x="476.2" y="477.8" width="8.2" height="16.4" fill="rgb(113,113,113)"/><rect x="484.2" y="477.8" width="8.2" height="16.4" fill="rgb(28,28,28)"/><rect x="492.2" y="477.8" width="16.2" height="16.4" fill="rgb(28,28,28)"/></g></g>
<rect x="412.3" y="420.2" width="88" height="66" fill="none" stroke="#1a1210" stroke-width="1.1" />
<clipPath id="cfp2412490"><rect x="412.3" y="490.3" width="88" height="66"/></clipPath><g clip-path="url(#cfp2412490)"><g filter="url(#fp2)"><rect x="404.3" y="482.3" width="104" height="82" fill="#000"/><rect x="404.2" y="482.2" width="16.2" height="16.4" fill="rgb(141,141,141)"/><rect x="420.2" y="482.2" width="8.2" height="16.4" fill="rgb(85,85,85)"/><rect x="428.2" y="482.2" width="8.2" height="16.4" fill="rgb(198,198,198)"/><rect x="436.2" y="482.2" width="8.2" height="16.4" fill="rgb(170,170,170)"/><rect x="444.2" y="482.2" width="8.2" height="16.4" fill="rgb(56,56,56)"/><rect x="452.2" y="482.2" width="8.2" height="16.4" fill="rgb(85,85,85)"/><rect x="460.2" y="482.2" width="8.2" height="16.4" fill="rgb(141,141,141)"/><rect x="468.2" y="482.2" width="8.2" height="16.4" fill="rgb(141,141,141)"/><rect x="476.2" y="482.2" width="8.2" height="16.4" fill="rgb(56,56,56)"/><rect x="484.2" y="482.2" width="8.2" height="16.4" fill="rgb(56,56,56)"/><rect x="492.2" y="482.2" width="16.2" height="16.4" fill="rgb(170,170,170)"/><rect x="404.2" y="498.4" width="16.2" height="8.4" fill="rgb(170,170,170)"/><rect x="420.2" y="498.4" width="8.2" height="8.4" fill="rgb(56,56,56)"/><rect x="428.2" y="498.4" width="8.2" height="8.4" fill="rgb(198,198,198)"/><rect x="436.2" y="498.4" width="8.2" height="8.4" fill="rgb(198,198,198)"/><rect x="444.2" y="498.4" width="8.2" height="8.4" fill="rgb(141,141,141)"/><rect x="452.2" y="498.4" width="8.2" height="8.4" fill="rgb(85,85,85)"/><rect x="460.2" y="498.4" width="8.2" height="8.4" fill="rgb(170,170,170)"/><rect x="468.2" y="498.4" width="8.2" height="8.4" fill="rgb(170,170,170)"/><rect x="476.2" y="498.4" width="8.2" height="8.4" fill="rgb(56,56,56)"/><rect x="484.2" y="498.4" width="8.2" height="8.4" fill="rgb(56,56,56)"/><rect x="492.2" y="498.4" width="16.2" height="8.4" fill="rgb(141,141,141)"/><rect x="404.2" y="506.7" width="16.2" height="8.4" fill="rgb(141,141,141)"/><rect x="420.2" y="506.7" width="8.2" height="8.4" fill="rgb(85,85,85)"/><rect x="428.2" y="506.7" width="8.2" height="8.4" fill="rgb(170,170,170)"/><rect x="436.2" y="506.7" width="8.2" height="8.4" fill="rgb(170,170,170)"/><rect x="444.2" y="506.7" width="8.2" height="8.4" fill="rgb(198,198,198)"/><rect x="452.2" y="506.7" width="8.2" height="8.4" fill="rgb(170,170,170)"/><rect x="460.2" y="506.7" width="8.2" height="8.4" fill="rgb(170,170,170)"/><rect x="468.2" y="506.7" width="8.2" height="8.4" fill="rgb(198,198,198)"/><rect x="476.2" y="506.7" width="8.2" height="8.4" fill="rgb(56,56,56)"/><rect x="484.2" y="506.7" width="8.2" height="8.4" fill="rgb(28,28,28)"/><rect x="492.2" y="506.7" width="16.2" height="8.4" fill="rgb(141,141,141)"/><rect x="404.2" y="514.9" width="16.2" height="8.4" fill="rgb(141,141,141)"/><rect x="420.2" y="514.9" width="8.2" height="8.4" fill="rgb(113,113,113)"/><rect x="428.2" y="514.9" width="8.2" height="8.4" fill="rgb(170,170,170)"/><rect x="436.2" y="514.9" width="8.2" height="8.4" fill="rgb(141,141,141)"/><rect x="444.2" y="514.9" width="8.2" height="8.4" fill="rgb(170,170,170)"/><rect x="452.2" y="514.9" width="8.2" height="8.4" fill="rgb(170,170,170)"/><rect x="460.2" y="514.9" width="8.2" height="8.4" fill="rgb(113,113,113)"/><rect x="468.2" y="514.9" width="8.2" height="8.4" fill="rgb(141,141,141)"/><rect x="476.2" y="514.9" width="8.2" height="8.4" fill="rgb(141,141,141)"/><rect x="484.2" y="514.9" width="8.2" height="8.4" fill="rgb(85,85,85)"/><rect x="492.2" y="514.9" width="16.2" height="8.4" fill="rgb(113,113,113)"/><rect x="404.2" y="523.2" width="16.2" height="8.4" fill="rgb(85,85,85)"/><rect x="420.2" y="523.2" width="8.2" height="8.4" fill="rgb(85,85,85)"/><rect x="428.2" y="523.2" width="8.2" height="8.4" fill="rgb(85,85,85)"/><rect x="436.2" y="523.2" width="8.2" height="8.4" fill="rgb(113,113,113)"/><rect x="444.2" y="523.2" width="8.2" height="8.4" fill="rgb(170,170,170)"/><rect x="452.2" y="523.2" width="8.2" height="8.4" fill="rgb(170,170,170)"/><rect x="460.2" y="523.2" width="8.2" height="8.4" fill="rgb(170,170,170)"/><rect x="468.2" y="523.2" width="8.2" height="8.4" fill="rgb(56,56,56)"/><rect x="476.2" y="523.2" width="8.2" height="8.4" fill="rgb(85,85,85)"/><rect x="484.2" y="523.2" width="8.2" height="8.4" fill="rgb(56,56,56)"/><rect x="492.2" y="523.2" width="16.2" height="8.4" fill="rgb(56,56,56)"/><rect x="404.2" y="531.4" width="16.2" height="8.4" fill="rgb(28,28,28)"/><rect x="420.2" y="531.4" width="8.2" height="8.4" fill="rgb(28,28,28)"/><rect x="428.2" y="531.4" width="8.2" height="8.4" fill="rgb(85,85,85)"/><rect x="436.2" y="531.4" width="8.2" height="8.4" fill="rgb(141,141,141)"/><rect x="444.2" y="531.4" width="8.2" height="8.4" fill="rgb(170,170,170)"/><rect x="452.2" y="531.4" width="8.2" height="8.4" fill="rgb(170,170,170)"/><rect x="460.2" y="531.4" width="8.2" height="8.4" fill="rgb(113,113,113)"/><rect x="468.2" y="531.4" width="8.2" height="8.4" fill="rgb(85,85,85)"/><rect x="476.2" y="531.4" width="8.2" height="8.4" fill="rgb(113,113,113)"/><rect x="484.2" y="531.4" width="8.2" height="8.4" fill="rgb(141,141,141)"/><rect x="492.2" y="531.4" width="16.2" height="8.4" fill="rgb(113,113,113)"/><rect x="404.2" y="539.7" width="16.2" height="8.4" fill="rgb(28,28,28)"/><rect x="420.2" y="539.7" width="8.2" height="8.4" fill="rgb(56,56,56)"/><rect x="428.2" y="539.7" width="8.2" height="8.4" fill="rgb(113,113,113)"/><rect x="436.2" y="539.7" width="8.2" height="8.4" fill="rgb(198,198,198)"/><rect x="444.2" y="539.7" width="8.2" height="8.4" fill="rgb(85,85,85)"/><rect x="452.2" y="539.7" width="8.2" height="8.4" fill="rgb(85,85,85)"/><rect x="460.2" y="539.7" width="8.2" height="8.4" fill="rgb(141,141,141)"/><rect x="468.2" y="539.7" width="8.2" height="8.4" fill="rgb(170,170,170)"/><rect x="476.2" y="539.7" width="8.2" height="8.4" fill="rgb(56,56,56)"/><rect x="484.2" y="539.7" width="8.2" height="8.4" fill="rgb(28,28,28)"/><rect x="492.2" y="539.7" width="16.2" height="8.4" fill="rgb(113,113,113)"/><rect x="404.2" y="547.9" width="16.2" height="16.4" fill="rgb(113,113,113)"/><rect x="420.2" y="547.9" width="8.2" height="16.4" fill="rgb(28,28,28)"/><rect x="428.2" y="547.9" width="8.2" height="16.4" fill="rgb(85,85,85)"/><rect x="436.2" y="547.9" width="8.2" height="16.4" fill="rgb(170,170,170)"/><rect x="444.2" y="547.9" width="8.2" height="16.4" fill="rgb(85,85,85)"/><rect x="452.2" y="547.9" width="8.2" height="16.4" fill="rgb(56,56,56)"/><rect x="460.2" y="547.9" width="8.2" height="16.4" fill="rgb(141,141,141)"/><rect x="468.2" y="547.9" width="8.2" height="16.4" fill="rgb(141,141,141)"/><rect x="476.2" y="547.9" width="8.2" height="16.4" fill="rgb(56,56,56)"/><rect x="484.2" y="547.9" width="8.2" height="16.4" fill="rgb(56,56,56)"/><rect x="492.2" y="547.9" width="16.2" height="16.4" fill="rgb(113,113,113)"/></g></g>
<rect x="412.3" y="490.3" width="88" height="66" fill="none" stroke="#1a1210" stroke-width="1.1" />
<clipPath id="cfp3412559"><rect x="412.3" y="559.9" width="88" height="66"/></clipPath><g clip-path="url(#cfp3412559)"><g filter="url(#fp3)"><rect x="404.3" y="551.9" width="104" height="82" fill="#000"/><rect x="404.2" y="551.8" width="16.2" height="16.4" fill="rgb(170,170,170)"/><rect x="420.2" y="551.8" width="8.2" height="16.4" fill="rgb(170,170,170)"/><rect x="428.2" y="551.8" width="8.2" height="16.4" fill="rgb(141,141,141)"/><rect x="436.2" y="551.8" width="8.2" height="16.4" fill="rgb(113,113,113)"/><rect x="444.2" y="551.8" width="8.2" height="16.4" fill="rgb(113,113,113)"/><rect x="452.2" y="551.8" width="8.2" height="16.4" fill="rgb(141,141,141)"/><rect x="460.2" y="551.8" width="8.2" height="16.4" fill="rgb(141,141,141)"/><rect x="468.2" y="551.8" width="8.2" height="16.4" fill="rgb(113,113,113)"/><rect x="476.2" y="551.8" width="8.2" height="16.4" fill="rgb(141,141,141)"/><rect x="484.2" y="551.8" width="8.2" height="16.4" fill="rgb(170,170,170)"/><rect x="492.2" y="551.8" width="16.2" height="16.4" fill="rgb(113,113,113)"/><rect x="404.2" y="568" width="16.2" height="8.4" fill="rgb(113,113,113)"/><rect x="420.2" y="568" width="8.2" height="8.4" fill="rgb(56,56,56)"/><rect x="428.2" y="568" width="8.2" height="8.4" fill="rgb(56,56,56)"/><rect x="436.2" y="568" width="8.2" height="8.4" fill="rgb(85,85,85)"/><rect x="444.2" y="568" width="8.2" height="8.4" fill="rgb(113,113,113)"/><rect x="452.2" y="568" width="8.2" height="8.4" fill="rgb(141,141,141)"/><rect x="460.2" y="568" width="8.2" height="8.4" fill="rgb(170,170,170)"/><rect x="468.2" y="568" width="8.2" height="8.4" fill="rgb(141,141,141)"/><rect x="476.2" y="568" width="8.2" height="8.4" fill="rgb(85,85,85)"/><rect x="484.2" y="568" width="8.2" height="8.4" fill="rgb(170,170,170)"/><rect x="492.2" y="568" width="16.2" height="8.4" fill="rgb(141,141,141)"/><rect x="404.2" y="576.3" width="16.2" height="8.4" fill="rgb(113,113,113)"/><rect x="420.2" y="576.3" width="8.2" height="8.4" fill="rgb(113,113,113)"/><rect x="428.2" y="576.3" width="8.2" height="8.4" fill="rgb(85,85,85)"/><rect x="436.2" y="576.3" width="8.2" height="8.4" fill="rgb(113,113,113)"/><rect x="444.2" y="576.3" width="8.2" height="8.4" fill="rgb(85,85,85)"/><rect x="452.2" y="576.3" width="8.2" height="8.4" fill="rgb(141,141,141)"/><rect x="460.2" y="576.3" width="8.2" height="8.4" fill="rgb(170,170,170)"/><rect x="468.2" y="576.3" width="8.2" height="8.4" fill="rgb(170,170,170)"/><rect x="476.2" y="576.3" width="8.2" height="8.4" fill="rgb(141,141,141)"/><rect x="484.2" y="576.3" width="8.2" height="8.4" fill="rgb(113,113,113)"/><rect x="492.2" y="576.3" width="16.2" height="8.4" fill="rgb(113,113,113)"/><rect x="404.2" y="584.5" width="16.2" height="8.4" fill="rgb(170,170,170)"/><rect x="420.2" y="584.5" width="8.2" height="8.4" fill="rgb(141,141,141)"/><rect x="428.2" y="584.5" width="8.2" height="8.4" fill="rgb(141,141,141)"/><rect x="436.2" y="584.5" width="8.2" height="8.4" fill="rgb(141,141,141)"/><rect x="444.2" y="584.5" width="8.2" height="8.4" fill="rgb(113,113,113)"/><rect x="452.2" y="584.5" width="8.2" height="8.4" fill="rgb(170,170,170)"/><rect x="460.2" y="584.5" width="8.2" height="8.4" fill="rgb(170,170,170)"/><rect x="468.2" y="584.5" width="8.2" height="8.4" fill="rgb(170,170,170)"/><rect x="476.2" y="584.5" width="8.2" height="8.4" fill="rgb(113,113,113)"/><rect x="484.2" y="584.5" width="8.2" height="8.4" fill="rgb(85,85,85)"/><rect x="492.2" y="584.5" width="16.2" height="8.4" fill="rgb(85,85,85)"/><rect x="404.2" y="592.8" width="16.2" height="8.4" fill="rgb(141,141,141)"/><rect x="420.2" y="592.8" width="8.2" height="8.4" fill="rgb(113,113,113)"/><rect x="428.2" y="592.8" width="8.2" height="8.4" fill="rgb(141,141,141)"/><rect x="436.2" y="592.8" width="8.2" height="8.4" fill="rgb(113,113,113)"/><rect x="444.2" y="592.8" width="8.2" height="8.4" fill="rgb(56,56,56)"/><rect x="452.2" y="592.8" width="8.2" height="8.4" fill="rgb(170,170,170)"/><rect x="460.2" y="592.8" width="8.2" height="8.4" fill="rgb(170,170,170)"/><rect x="468.2" y="592.8" width="8.2" height="8.4" fill="rgb(85,85,85)"/><rect x="476.2" y="592.8" width="8.2" height="8.4" fill="rgb(85,85,85)"/><rect x="484.2" y="592.8" width="8.2" height="8.4" fill="rgb(85,85,85)"/><rect x="492.2" y="592.8" width="16.2" height="8.4" fill="rgb(113,113,113)"/><rect x="404.2" y="601" width="16.2" height="8.4" fill="rgb(56,56,56)"/><rect x="420.2" y="601" width="8.2" height="8.4" fill="rgb(56,56,56)"/><rect x="428.2" y="601" width="8.2" height="8.4" fill="rgb(85,85,85)"/><rect x="436.2" y="601" width="8.2" height="8.4" fill="rgb(56,56,56)"/><rect x="444.2" y="601" width="8.2" height="8.4" fill="rgb(28,28,28)"/><rect x="452.2" y="601" width="8.2" height="8.4" fill="rgb(85,85,85)"/><rect x="460.2" y="601" width="8.2" height="8.4" fill="rgb(141,141,141)"/><rect x="468.2" y="601" width="8.2" height="8.4" fill="rgb(56,56,56)"/><rect x="476.2" y="601" width="8.2" height="8.4" fill="rgb(56,56,56)"/><rect x="484.2" y="601" width="8.2" height="8.4" fill="rgb(113,113,113)"/><rect x="492.2" y="601" width="16.2" height="8.4" fill="rgb(85,85,85)"/><rect x="404.2" y="609.3" width="16.2" height="8.4" fill="rgb(113,113,113)"/><rect x="420.2" y="609.3" width="8.2" height="8.4" fill="rgb(141,141,141)"/><rect x="428.2" y="609.3" width="8.2" height="8.4" fill="rgb(85,85,85)"/><rect x="436.2" y="609.3" width="8.2" height="8.4" fill="rgb(85,85,85)"/><rect x="444.2" y="609.3" width="8.2" height="8.4" fill="rgb(56,56,56)"/><rect x="452.2" y="609.3" width="8.2" height="8.4" fill="rgb(113,113,113)"/><rect x="460.2" y="609.3" width="8.2" height="8.4" fill="rgb(85,85,85)"/><rect x="468.2" y="609.3" width="8.2" height="8.4" fill="rgb(85,85,85)"/><rect x="476.2" y="609.3" width="8.2" height="8.4" fill="rgb(85,85,85)"/><rect x="484.2" y="609.3" width="8.2" height="8.4" fill="rgb(141,141,141)"/><rect x="492.2" y="609.3" width="16.2" height="8.4" fill="rgb(56,56,56)"/><rect x="404.2" y="617.5" width="16.2" height="16.4" fill="rgb(85,85,85)"/><rect x="420.2" y="617.5" width="8.2" height="16.4" fill="rgb(113,113,113)"/><rect x="428.2" y="617.5" width="8.2" height="16.4" fill="rgb(56,56,56)"/><rect x="436.2" y="617.5" width="8.2" height="16.4" fill="rgb(113,113,113)"/><rect x="444.2" y="617.5" width="8.2" height="16.4" fill="rgb(85,85,85)"/><rect x="452.2" y="617.5" width="8.2" height="16.4" fill="rgb(141,141,141)"/><rect x="460.2" y="617.5" width="8.2" height="16.4" fill="rgb(113,113,113)"/><rect x="468.2" y="617.5" width="8.2" height="16.4" fill="rgb(113,113,113)"/><rect x="476.2" y="617.5" width="8.2" height="16.4" fill="rgb(113,113,113)"/><rect x="484.2" y="617.5" width="8.2" height="16.4" fill="rgb(85,85,85)"/><rect x="492.2" y="617.5" width="16.2" height="16.4" fill="rgb(28,28,28)"/></g></g>
<rect x="412.3" y="559.9" width="88" height="66" fill="none" stroke="#1a1210" stroke-width="1.1" />
<defs><linearGradient id="pcg" x1="0" y1="1" x2="1" y2="0"><stop offset="0" stop-color="#ffc040" stop-opacity="0.3"/><stop offset="0.5" stop-color="#b06018" stop-opacity="0"/><stop offset="1" stop-color="#401000" stop-opacity="0.28"/></linearGradient></defs>
<rect x="412.8" y="420.7" width="87" height="65" fill="url(#pcg)" stroke="none" stroke-width="0" />
<line x1="469.9" y1="482.8" x2="496.5" y2="482.8" stroke="#fff" stroke-width="1.3" />
<text x="483.2" y="480.8" font-size="5.7" font-weight="bold" fill="#fff" text-anchor="middle" >0.5mm</text>
<rect x="412.8" y="490.8" width="87" height="65" fill="url(#pcg)" stroke="none" stroke-width="0" />
<line x1="469.9" y1="552.9" x2="496.5" y2="552.9" stroke="#fff" stroke-width="1.3" />
<text x="483.2" y="550.9" font-size="5.7" font-weight="bold" fill="#fff" text-anchor="middle" >0.5mm</text>
<rect x="412.8" y="560.4" width="87" height="65" fill="url(#pcg)" stroke="none" stroke-width="0" />
<line x1="469.9" y1="622.5" x2="496.5" y2="622.5" stroke="#fff" stroke-width="1.3" />
<text x="483.2" y="620.5" font-size="5.7" font-weight="bold" fill="#fff" text-anchor="middle" >0.5mm</text>
<text x="0" y="647.2" font-size="16.5" font-weight="bold" fill="#231815" text-anchor="start" >J</text>
<text x="0.8" y="731" font-size="16.5" font-weight="bold" fill="#231815" text-anchor="start" >K</text>
<filter id="wb" x="-0.2" y="-0.5" width="1.4" height="2"><feGaussianBlur stdDeviation="0.9"/></filter><filter id="wb2" x="-0.2" y="-0.5" width="1.4" height="2"><feGaussianBlur stdDeviation="0.6"/></filter>
<rect x="76.1" y="660.8" width="85.6" height="21.4" fill="#dcdcdc" stroke="none" stroke-width="0" />
<rect x="76.1" y="684.2" width="85.6" height="21" fill="#dadada" stroke="none" stroke-width="0" />
<g filter="url(#wb)"><rect x="78.5" y="670.2" width="11.5" height="1.3" fill="#3a3a3a"/><rect x="92.7" y="668.1" width="13.4" height="5.5" rx="2.4" fill="#000"/><rect x="105.8" y="668.1" width="13.4" height="5.5" rx="2.4" fill="#000"/><rect x="132.1" y="668.1" width="13.4" height="5.5" rx="2.4" fill="#000"/><rect x="146.6" y="668.1" width="13.4" height="5.5" rx="2.4" fill="#000"/><rect x="121.6" y="669.8" width="8" height="1.7" fill="#222"/><rect x="128" y="670.8" width="4" height="1" fill="#555"/><rect x="90" y="669.6" width="4" height="1.6" fill="#222"/></g><g filter="url(#wb2)"><rect x="76.6" y="692.2" width="84.6" height="3.2" fill="#000"/></g>
<rect x="76.1" y="660.8" width="85.6" height="21.4" fill="none" stroke="#2a1f1c" stroke-width="1.3" />
<rect x="76.1" y="684.2" width="85.6" height="21" fill="none" stroke="#2a1f1c" stroke-width="1.3" />
<text transform="translate(85.1,656.2) rotate(-45)" font-size="8.3" fill="#111" stroke="#111" stroke-width="0.25">shCtrl</text>
<text transform="translate(99.4,656.2) rotate(-45)" font-size="8.3" fill="#111" stroke="#111" stroke-width="0.25">sh #1</text>
<text transform="translate(113.7,656.2) rotate(-45)" font-size="8.3" fill="#111" stroke="#111" stroke-width="0.25">sh #2</text>
<text transform="translate(127.9,656.2) rotate(-45)" font-size="8.3" fill="#111" stroke="#111" stroke-width="0.25">shCtrl</text>
<text transform="translate(142.2,656.2) rotate(-45)" font-size="8.3" fill="#111" stroke="#111" stroke-width="0.25">sh #1</text>
<text transform="translate(156.5,656.2) rotate(-45)" font-size="8.3" fill="#111" stroke="#111" stroke-width="0.25">sh #2</text>
<text x="70.2" y="673.9" font-size="8.7" font-weight="bold" fill="#231815" text-anchor="end" >HO-1</text>
<text x="69" y="697.2" font-size="8.7" font-weight="bold" fill="#231815" text-anchor="end" >β-actin</text>
<text x="167.2" y="673.8" font-size="8.7" font-weight="bold" fill="#231815" text-anchor="start" >28kDa</text>
<text x="167.2" y="698.8" font-size="8.7" font-weight="bold" fill="#231815" text-anchor="start" >42kDa</text>
<rect x="64.1" y="762.9" width="109.4" height="17.8" fill="#e9e9e9" stroke="none" stroke-width="0" />
<rect x="64.1" y="783.7" width="109.4" height="18" fill="#e6e6e6" stroke="none" stroke-width="0" />
<g filter="url(#wb2)"><rect x="121.4" y="769" width="16" height="6.4" rx="3.2" fill="#000"/><rect x="138.8" y="769" width="16" height="6.4" rx="3.2" fill="#000"/><rect x="156" y="769" width="16" height="6.4" rx="3.2" fill="#000"/><rect x="124" y="770.5" width="46" height="3.4" fill="#000"/></g><g filter="url(#wb)"><rect x="65.6" y="792.6" width="15.2" height="2.7" rx="1.2" fill="#7a7a7a"/><rect x="83.8" y="792.6" width="15.2" height="2.7" rx="1.2" fill="#7a7a7a"/><rect x="102.1" y="792.6" width="15.2" height="2.7" rx="1.2" fill="#7a7a7a"/><rect x="120.3" y="792.6" width="15.2" height="2.7" rx="1.2" fill="#7a7a7a"/><rect x="138.5" y="792.6" width="15.2" height="2.7" rx="1.2" fill="#7a7a7a"/><rect x="156.8" y="792.6" width="15.2" height="2.7" rx="1.2" fill="#7a7a7a"/></g>
<rect x="64.1" y="762.9" width="109.4" height="17.8" fill="none" stroke="#2a1f1c" stroke-width="1.3" />
<rect x="64.1" y="783.7" width="109.4" height="18.6" fill="none" stroke="#2a1f1c" stroke-width="1.3" />
<text transform="translate(75.4,757.6) rotate(-45)" font-size="8.8" fill="#111" stroke="#111" stroke-width="0.25">shCtrl</text>
<text transform="translate(93.6,757.6) rotate(-45)" font-size="8.8" fill="#111" stroke="#111" stroke-width="0.25">sh #1</text>
<text transform="translate(111.9,757.6) rotate(-45)" font-size="8.8" fill="#111" stroke="#111" stroke-width="0.25">sh #2</text>
<text transform="translate(130.1,757.6) rotate(-45)" font-size="8.8" fill="#111" stroke="#111" stroke-width="0.25">shCtrl</text>
<text transform="translate(148.3,757.6) rotate(-45)" font-size="8.8" fill="#111" stroke="#111" stroke-width="0.25">sh #1</text>
<text transform="translate(166.6,757.6) rotate(-45)" font-size="8.8" fill="#111" stroke="#111" stroke-width="0.25">sh #2</text>
<text x="93.7" y="727.2" font-size="8.7" font-weight="bold" fill="#231815" text-anchor="middle" >Empty</text>
<text x="145.2" y="727.2" font-size="8.7" font-weight="bold" fill="#231815" text-anchor="middle" >HMOX1-V5</text>
<line x1="69.3" y1="731" x2="117.7" y2="731" stroke="#2a1f1c" stroke-width="1.3" />
<line x1="120.9" y1="731" x2="169.7" y2="731" stroke="#2a1f1c" stroke-width="1.3" />
<text x="59.2" y="774.3" font-size="8.7" font-weight="bold" fill="#231815" text-anchor="end" >V5</text>
<text x="58.8" y="795.5" font-size="8.7" font-weight="bold" fill="#231815" text-anchor="end" >β-actin</text>
<text x="177.7" y="774.6" font-size="8.7" font-weight="bold" fill="#231815" text-anchor="start" >28kDa</text>
<text x="177.7" y="795.6" font-size="8.7" font-weight="bold" fill="#231815" text-anchor="start" >42kDa</text>
<text x="234.6" y="659.6" font-size="16.5" font-weight="bold" fill="#231815" text-anchor="start" >L</text>
<text x="440.6" y="659.6" font-size="16.5" font-weight="bold" fill="#231815" text-anchor="start" >M</text>
<path d="M275.4 676.4V770H415.4" stroke="#111" stroke-width="1.3" fill="none"/>
<line x1="270.8" y1="677" x2="275.4" y2="677" stroke="#111" stroke-width="1.3" />
<text x="269.8" y="680.1" font-size="8.6" font-weight="bold" fill="#231815" text-anchor="end" >2.0</text>
<line x1="270.8" y1="700.2" x2="275.4" y2="700.2" stroke="#111" stroke-width="1.3" />
<text x="269.8" y="703.4" font-size="8.6" font-weight="bold" fill="#231815" text-anchor="end" >1.5</text>
<line x1="270.8" y1="723.5" x2="275.4" y2="723.5" stroke="#111" stroke-width="1.3" />
<text x="269.8" y="726.6" font-size="8.6" font-weight="bold" fill="#231815" text-anchor="end" >1.0</text>
<line x1="270.8" y1="746.8" x2="275.4" y2="746.8" stroke="#111" stroke-width="1.3" />
<text x="269.8" y="749.9" font-size="8.6" font-weight="bold" fill="#231815" text-anchor="end" >0.5</text>
<line x1="270.8" y1="770" x2="275.4" y2="770" stroke="#111" stroke-width="1.3" />
<text x="269.8" y="773.1" font-size="8.6" font-weight="bold" fill="#231815" text-anchor="end" >0.0</text>
<line x1="297.9" y1="770" x2="297.9" y2="774.8" stroke="#111" stroke-width="1.3" />
<text transform="translate(303.5,781.4) rotate(-45)" font-size="8.6" font-weight="bold" fill="#231815" text-anchor="end">Day1</text>
<line x1="329.8" y1="770" x2="329.8" y2="774.8" stroke="#111" stroke-width="1.3" />
<text transform="translate(335.4,781.4) rotate(-45)" font-size="8.6" font-weight="bold" fill="#231815" text-anchor="end">Day2</text>
<line x1="361.7" y1="770" x2="361.7" y2="774.8" stroke="#111" stroke-width="1.3" />
<text transform="translate(367.3,781.4) rotate(-45)" font-size="8.6" font-weight="bold" fill="#231815" text-anchor="end">Day3</text>
<line x1="393.9" y1="770" x2="393.9" y2="774.8" stroke="#111" stroke-width="1.3" />
<text transform="translate(399.5,781.4) rotate(-45)" font-size="8.6" font-weight="bold" fill="#231815" text-anchor="end">Day4</text>
<text transform="translate(253.8,723.5) rotate(-90)" font-size="8.6" font-weight="bold" fill="#231815" text-anchor="middle">A.U. (A450)</text>
<path d="M297.9 754L329.8 745.1L361.7 729.7L393.9 716.6" stroke="#2a5caa" stroke-width="1.5" fill="none" stroke-linejoin="round"/>
<path d="M297.9 750.5V757.4M295.9 750.5h4M295.9 757.4h4" stroke="#2a5caa" stroke-width="1" fill="none"/>
<circle cx="297.9" cy="754" r="1.6" fill="#2a5caa"/>
<path d="M329.8 744.2V746.1M327.8 744.2h4M327.8 746.1h4" stroke="#2a5caa" stroke-width="1" fill="none"/>
<circle cx="329.8" cy="745.1" r="1.6" fill="#2a5caa"/>
<path d="M361.7 728.5V730.8M359.7 728.5h4M359.7 730.8h4" stroke="#2a5caa" stroke-width="1" fill="none"/>
<circle cx="361.7" cy="729.7" r="1.6" fill="#2a5caa"/>
<path d="M393.9 714.3V718.9M391.9 714.3h4M391.9 718.9h4" stroke="#2a5caa" stroke-width="1" fill="none"/>
<circle cx="393.9" cy="716.6" r="1.6" fill="#2a5caa"/>
<path d="M297.9 754L329.8 749.1L361.7 743L393.9 739.8" stroke="#e8382a" stroke-width="1.5" fill="none" stroke-linejoin="round"/>
<path d="M297.9 750.5V757.4M295.9 750.5h4M295.9 757.4h4" stroke="#e8382a" stroke-width="1" fill="none"/>
<circle cx="297.9" cy="754" r="1.6" fill="#e8382a"/>
<path d="M329.8 748.1V750M327.8 748.1h4M327.8 750h4" stroke="#e8382a" stroke-width="1" fill="none"/>
<circle cx="329.8" cy="749.1" r="1.6" fill="#e8382a"/>
<path d="M361.7 741.6V744.4M359.7 741.6h4M359.7 744.4h4" stroke="#e8382a" stroke-width="1" fill="none"/>
<circle cx="361.7" cy="743" r="1.6" fill="#e8382a"/>
<path d="M393.9 737.7V741.9M391.9 737.7h4M391.9 741.9h4" stroke="#e8382a" stroke-width="1" fill="none"/>
<circle cx="393.9" cy="739.8" r="1.6" fill="#e8382a"/>
<line x1="283.1" y1="683.7" x2="294.5" y2="683.7" stroke="#2a5caa" stroke-width="1.5" />
<circle cx="288.8" cy="683.7" r="1.5" fill="#2a5caa"/>
<text x="299.6" y="686.3" font-size="7.6" font-weight="normal" fill="#222" text-anchor="start" >pcDNA3.1</text>
<line x1="283.1" y1="696.4" x2="294.5" y2="696.4" stroke="#e8382a" stroke-width="1.5" />
<circle cx="288.8" cy="696.4" r="1.5" fill="#e8382a"/>
<text x="299.6" y="699" font-size="7.6" font-weight="normal" fill="#222" text-anchor="start" >HMOX1-OE</text>
<text x="410.6" y="745.6" font-size="13.5" font-weight="bold" fill="#e8382a" text-anchor="middle" >****</text>
<path d="M487.6 676.8V770.9H630.3" stroke="#111" stroke-width="1.3" fill="none"/>
<line x1="483" y1="677.4" x2="487.6" y2="677.4" stroke="#111" stroke-width="1.3" />
<text x="482" y="680.5" font-size="8.6" font-weight="bold" fill="#231815" text-anchor="end" >2.0</text>
<line x1="483" y1="700.8" x2="487.6" y2="700.8" stroke="#111" stroke-width="1.3" />
<text x="482" y="703.9" font-size="8.6" font-weight="bold" fill="#231815" text-anchor="end" >1.5</text>
<line x1="483" y1="724.1" x2="487.6" y2="724.1" stroke="#111" stroke-width="1.3" />
<text x="482" y="727.2" font-size="8.6" font-weight="bold" fill="#231815" text-anchor="end" >1.0</text>
<line x1="483" y1="747.5" x2="487.6" y2="747.5" stroke="#111" stroke-width="1.3" />
<text x="482" y="750.6" font-size="8.6" font-weight="bold" fill="#231815" text-anchor="end" >0.5</text>
<line x1="483" y1="770.9" x2="487.6" y2="770.9" stroke="#111" stroke-width="1.3" />
<text x="482" y="774" font-size="8.6" font-weight="bold" fill="#231815" text-anchor="end" >0.0</text>
<line x1="511.5" y1="770.9" x2="511.5" y2="775.7" stroke="#111" stroke-width="1.3" />
<text transform="translate(517.1,782.3) rotate(-45)" font-size="8.6" font-weight="bold" fill="#231815" text-anchor="end">Day1</text>
<line x1="544.1" y1="770.9" x2="544.1" y2="775.7" stroke="#111" stroke-width="1.3" />
<text transform="translate(549.7,782.3) rotate(-45)" font-size="8.6" font-weight="bold" fill="#231815" text-anchor="end">Day2</text>
<line x1="576.3" y1="770.9" x2="576.3" y2="775.7" stroke="#111" stroke-width="1.3" />
<text transform="translate(581.9,782.3) rotate(-45)" font-size="8.6" font-weight="bold" fill="#231815" text-anchor="end">Day3</text>
<line x1="608.5" y1="770.9" x2="608.5" y2="775.7" stroke="#111" stroke-width="1.3" />
<text transform="translate(614.1,782.3) rotate(-45)" font-size="8.6" font-weight="bold" fill="#231815" text-anchor="end">Day4</text>
<text transform="translate(465.4,724.1) rotate(-90)" font-size="8.6" font-weight="bold" fill="#231815" text-anchor="middle">A.U. (A450)</text>
<path d="M511.5 758.3L544.1 747.1L576.3 733L608.5 697.5" stroke="#5bb531" stroke-width="1.5" fill="none" stroke-linejoin="round"/>
<path d="M511.5 757.3V759.2M509.5 757.3h4M509.5 759.2h4" stroke="#5bb531" stroke-width="1" fill="none"/>
<circle cx="511.5" cy="758.3" r="1.6" fill="#5bb531"/>
<path d="M544.1 744.7V749.4M542.1 744.7h4M542.1 749.4h4" stroke="#5bb531" stroke-width="1" fill="none"/>
<circle cx="544.1" cy="747.1" r="1.6" fill="#5bb531"/>
<path d="M576.3 730.2V735.8M574.3 730.2h4M574.3 735.8h4" stroke="#5bb531" stroke-width="1" fill="none"/>
<circle cx="576.3" cy="733" r="1.6" fill="#5bb531"/>
<path d="M608.5 696.1V698.9M606.5 696.1h4M606.5 698.9h4" stroke="#5bb531" stroke-width="1" fill="none"/>
<circle cx="608.5" cy="697.5" r="1.6" fill="#5bb531"/>
<path d="M511.5 759.2L544.1 751.3L576.3 738.6L608.5 708.3" stroke="#b07a42" stroke-width="1.5" fill="none" stroke-linejoin="round"/>
<path d="M511.5 758.3V760.1M509.5 758.3h4M509.5 760.1h4" stroke="#b07a42" stroke-width="1" fill="none"/>
<circle cx="511.5" cy="759.2" r="1.6" fill="#b07a42"/>
<path d="M544.1 749.4V753.1M542.1 749.4h4M542.1 753.1h4" stroke="#b07a42" stroke-width="1" fill="none"/>
<circle cx="544.1" cy="751.3" r="1.6" fill="#b07a42"/>
<path d="M576.3 736.3V741M574.3 736.3h4M574.3 741h4" stroke="#b07a42" stroke-width="1" fill="none"/>
<circle cx="576.3" cy="738.6" r="1.6" fill="#b07a42"/>
<path d="M608.5 706.4V710.1M606.5 706.4h4M606.5 710.1h4" stroke="#b07a42" stroke-width="1" fill="none"/>
<circle cx="608.5" cy="708.3" r="1.6" fill="#b07a42"/>
<path d="M511.5 759.7L544.1 752.2L576.3 743.3L608.5 720.9" stroke="#8d2488" stroke-width="1.5" fill="none" stroke-linejoin="round"/>
<path d="M511.5 758.7V760.6M509.5 758.7h4M509.5 760.6h4" stroke="#8d2488" stroke-width="1" fill="none"/>
<circle cx="511.5" cy="759.7" r="1.6" fill="#8d2488"/>
<path d="M544.1 750.3V754.1M542.1 750.3h4M542.1 754.1h4" stroke="#8d2488" stroke-width="1" fill="none"/>
<circle cx="544.1" cy="752.2" r="1.6" fill="#8d2488"/>
<path d="M576.3 741.4V745.2M574.3 741.4h4M574.3 745.2h4" stroke="#8d2488" stroke-width="1" fill="none"/>
<circle cx="576.3" cy="743.3" r="1.6" fill="#8d2488"/>
<path d="M608.5 718.5V723.2M606.5 718.5h4M606.5 723.2h4" stroke="#8d2488" stroke-width="1" fill="none"/>
<circle cx="608.5" cy="720.9" r="1.6" fill="#8d2488"/>
<line x1="496.5" y1="673.3" x2="508" y2="673.3" stroke="#5bb531" stroke-width="1.5" />
<circle cx="502.2" cy="673.3" r="1.5" fill="#5bb531"/>
<text x="512.6" y="675.9" font-size="8.2" font-weight="normal" fill="#222" text-anchor="start" >shCtrl</text>
<line x1="496.5" y1="686.5" x2="508" y2="686.5" stroke="#b07a42" stroke-width="1.5" />
<circle cx="502.2" cy="686.5" r="1.5" fill="#b07a42"/>
<text x="512.6" y="689.1" font-size="8.2" font-weight="normal" fill="#222" text-anchor="start" textLength="102" lengthAdjust="spacingAndGlyphs">shPRSS22 + HO1 inhibitor</text>
<line x1="496.5" y1="700.1" x2="508" y2="700.1" stroke="#8d2488" stroke-width="1.5" />
<circle cx="502.2" cy="700.1" r="1.5" fill="#8d2488"/>
<text x="512.6" y="702.7" font-size="8.2" font-weight="normal" fill="#222" text-anchor="start" >shPRSS22</text>
<path d="M614.2 706.9H617.8V721.5H614.2M644.6 697.2H648.2V721.5H644.6" stroke="#111" stroke-width="1.3" fill="none"/>
<text x="632.8" y="721.4" font-size="13.5" font-weight="bold" fill="#2a1f1c" text-anchor="middle" >****</text>
<text x="662.5" y="715.6" font-size="13.5" font-weight="bold" fill="#2a1f1c" text-anchor="middle" >****</text>
</svg>
</body></html>
